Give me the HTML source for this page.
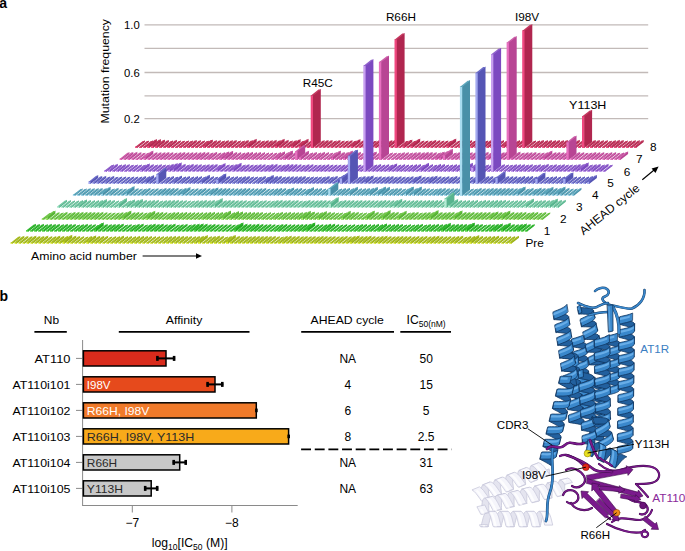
<!DOCTYPE html>
<html><head><meta charset="utf-8"><style>
html,body{margin:0;padding:0;background:#fff;width:685px;height:551px;overflow:hidden}
body{position:relative;font-family:"Liberation Sans", sans-serif}
</style></head><body>
<svg width="685" height="551" viewBox="0 0 685 551" style="position:absolute;left:0;top:0"><g font-family='"Liberation Sans", sans-serif'><text x="-0.7" y="7.9" font-size="14" font-weight="bold">a</text><line x1="144.5" y1="24.8" x2="648.2" y2="24.8" stroke="#c2bab8" stroke-width="1.3"/><line x1="144.5" y1="48.3" x2="648.2" y2="48.3" stroke="#c2bab8" stroke-width="1.3"/><line x1="144.5" y1="72.5" x2="648.2" y2="72.5" stroke="#c2bab8" stroke-width="1.3"/><line x1="144.5" y1="95.8" x2="648.2" y2="95.8" stroke="#c2bab8" stroke-width="1.3"/><line x1="144.5" y1="118.7" x2="648.2" y2="118.7" stroke="#c2bab8" stroke-width="1.3"/><text x="124.0" y="29.1" font-size="11.6" textLength="15.7" lengthAdjust="spacingAndGlyphs">1.0</text><text x="124.0" y="76.8" font-size="11.6" textLength="15.7" lengthAdjust="spacingAndGlyphs">0.6</text><text x="124.0" y="123.0" font-size="11.6" textLength="15.7" lengthAdjust="spacingAndGlyphs">0.2</text><g transform="translate(108.8,123.6) rotate(-90)"><text x="0" y="0" font-size="11.8" textLength="104.6" lengthAdjust="spacingAndGlyphs">Mutation frequency</text></g><defs><filter id="bl" x="-2%" y="-2%" width="104%" height="104%"><feGaussianBlur stdDeviation="0.3"/></filter></defs><g filter="url(#bl)"><g><path d="M135.1,146.6h2.5v1.4h-2.5zM139.1,146.7h2.5v1.3h-2.5zM143.1,146.5h2.5v1.5h-2.5zM147.1,145.3h2.5v2.7h-2.5zM151.1,145.4h2.5v2.6h-2.5zM155.1,145.8h2.5v2.2h-2.5zM159.1,146.2h2.5v1.8h-2.5zM163.1,146.6h2.5v1.4h-2.5zM167.1,146.1h2.5v1.9h-2.5zM171,146.5h2.5v1.5h-2.5zM175,146.7h2.5v1.3h-2.5zM179,146.5h2.5v1.5h-2.5zM183,146.6h2.5v1.4h-2.5zM187,146.2h2.5v1.8h-2.5zM191,146.4h2.5v1.6h-2.5zM195,146.5h2.5v1.5h-2.5zM199,146.7h2.5v1.3h-2.5zM203,145.7h2.5v2.3h-2.5zM207,146.4h2.5v1.6h-2.5zM210.9,146.3h2.5v1.7h-2.5zM214.9,146.5h2.5v1.5h-2.5zM218.9,146.3h2.5v1.7h-2.5zM222.9,146.4h2.5v1.6h-2.5zM226.9,146.2h2.5v1.8h-2.5zM230.9,146.5h2.5v1.5h-2.5zM234.9,146.6h2.5v1.4h-2.5zM238.9,146.2h2.5v1.8h-2.5zM242.9,146.4h2.5v1.6h-2.5zM246.9,145.1h2.5v2.9h-2.5zM250.8,146.4h2.5v1.6h-2.5zM254.8,146.5h2.5v1.5h-2.5zM258.8,146.3h2.5v1.7h-2.5zM262.8,146.4h2.5v1.6h-2.5zM266.8,146.1h2.5v1.9h-2.5zM270.8,146.3h2.5v1.7h-2.5zM274.8,145.1h2.5v2.9h-2.5zM278.8,146.1h2.5v1.9h-2.5zM282.8,146.5h2.5v1.5h-2.5zM286.8,146.3h2.5v1.7h-2.5zM290.8,145.3h2.5v2.7h-2.5zM294.7,146.6h2.5v1.4h-2.5zM298.7,145h2.5v3h-2.5zM302.7,146.6h2.5v1.4h-2.5zM306.7,146.2h2.5v1.8h-2.5z" fill="#f04a80"/><path d="M137.1,148l7.8,-6.1v-1.6l-7.8,6.1zM141.1,148l7.8,-6.1v-1.5l-7.8,6.1zM145.1,148l7.8,-6.1v-1.7l-7.8,6.1zM149.1,148l7.8,-6.1v-2.9l-7.8,6.1zM153.1,148l7.8,-6.1v-2.8l-7.8,6.1zM157.1,148l7.8,-6.1v-2.4l-7.8,6.1zM161.1,148l7.8,-6.1v-2l-7.8,6.1zM165.1,148l7.8,-6.1v-1.6l-7.8,6.1zM169.1,148l7.8,-6.1v-2.1l-7.8,6.1zM173,148l7.8,-6.1v-1.7l-7.8,6.1zM177,148l7.8,-6.1v-1.5l-7.8,6.1zM181,148l7.8,-6.1v-1.7l-7.8,6.1zM185,148l7.8,-6.1v-1.6l-7.8,6.1zM189,148l7.8,-6.1v-2l-7.8,6.1zM193,148l7.8,-6.1v-1.8l-7.8,6.1zM197,148l7.8,-6.1v-1.7l-7.8,6.1zM201,148l7.8,-6.1v-1.5l-7.8,6.1zM205,148l7.8,-6.1v-2.5l-7.8,6.1zM209,148l7.8,-6.1v-1.8l-7.8,6.1zM212.9,148l7.8,-6.1v-1.9l-7.8,6.1zM216.9,148l7.8,-6.1v-1.7l-7.8,6.1zM220.9,148l7.8,-6.1v-1.9l-7.8,6.1zM224.9,148l7.8,-6.1v-1.8l-7.8,6.1zM228.9,148l7.8,-6.1v-2l-7.8,6.1zM232.9,148l7.8,-6.1v-1.7l-7.8,6.1zM236.9,148l7.8,-6.1v-1.6l-7.8,6.1zM240.9,148l7.8,-6.1v-2l-7.8,6.1zM244.9,148l7.8,-6.1v-1.8l-7.8,6.1zM248.9,148l7.8,-6.1v-3.1l-7.8,6.1zM252.8,148l7.8,-6.1v-1.8l-7.8,6.1zM256.8,148l7.8,-6.1v-1.7l-7.8,6.1zM260.8,148l7.8,-6.1v-1.9l-7.8,6.1zM264.8,148l7.8,-6.1v-1.8l-7.8,6.1zM268.8,148l7.8,-6.1v-2.1l-7.8,6.1zM272.8,148l7.8,-6.1v-1.9l-7.8,6.1zM276.8,148l7.8,-6.1v-3.1l-7.8,6.1zM280.8,148l7.8,-6.1v-2.1l-7.8,6.1zM284.8,148l7.8,-6.1v-1.7l-7.8,6.1zM288.8,148l7.8,-6.1v-1.9l-7.8,6.1zM292.8,148l7.8,-6.1v-2.9l-7.8,6.1zM296.7,148l7.8,-6.1v-1.6l-7.8,6.1zM300.7,148l7.8,-6.1v-3.2l-7.8,6.1zM304.7,148l7.8,-6.1v-1.6l-7.8,6.1zM308.7,148l7.8,-6.1v-2l-7.8,6.1z" fill="#b02850"/><path d="M135.1,147.1h2.0l7.8,-6.1h-2.0zM139.1,147.2h2.0l7.8,-6.1h-2.0zM143.1,147h2.0l7.8,-6.1h-2.0zM147.1,145.8h2.0l7.8,-6.1h-2.0zM151.1,145.9h2.0l7.8,-6.1h-2.0zM155.1,146.3h2.0l7.8,-6.1h-2.0zM159.1,146.7h2.0l7.8,-6.1h-2.0zM163.1,147.1h2.0l7.8,-6.1h-2.0zM167.1,146.6h2.0l7.8,-6.1h-2.0zM171,147h2.0l7.8,-6.1h-2.0zM175,147.2h2.0l7.8,-6.1h-2.0zM179,147h2.0l7.8,-6.1h-2.0zM183,147.1h2.0l7.8,-6.1h-2.0zM187,146.7h2.0l7.8,-6.1h-2.0zM191,146.9h2.0l7.8,-6.1h-2.0zM195,147h2.0l7.8,-6.1h-2.0zM199,147.2h2.0l7.8,-6.1h-2.0zM203,146.2h2.0l7.8,-6.1h-2.0zM207,146.9h2.0l7.8,-6.1h-2.0zM210.9,146.8h2.0l7.8,-6.1h-2.0zM214.9,147h2.0l7.8,-6.1h-2.0zM218.9,146.8h2.0l7.8,-6.1h-2.0zM222.9,146.9h2.0l7.8,-6.1h-2.0zM226.9,146.7h2.0l7.8,-6.1h-2.0zM230.9,147h2.0l7.8,-6.1h-2.0zM234.9,147.1h2.0l7.8,-6.1h-2.0zM238.9,146.7h2.0l7.8,-6.1h-2.0zM242.9,146.9h2.0l7.8,-6.1h-2.0zM246.9,145.6h2.0l7.8,-6.1h-2.0zM250.8,146.9h2.0l7.8,-6.1h-2.0zM254.8,147h2.0l7.8,-6.1h-2.0zM258.8,146.8h2.0l7.8,-6.1h-2.0zM262.8,146.9h2.0l7.8,-6.1h-2.0zM266.8,146.6h2.0l7.8,-6.1h-2.0zM270.8,146.8h2.0l7.8,-6.1h-2.0zM274.8,145.6h2.0l7.8,-6.1h-2.0zM278.8,146.6h2.0l7.8,-6.1h-2.0zM282.8,147h2.0l7.8,-6.1h-2.0zM286.8,146.8h2.0l7.8,-6.1h-2.0zM290.8,145.8h2.0l7.8,-6.1h-2.0zM294.7,147.1h2.0l7.8,-6.1h-2.0zM298.7,145.5h2.0l7.8,-6.1h-2.0zM302.7,147.1h2.0l7.8,-6.1h-2.0zM306.7,146.7h2.0l7.8,-6.1h-2.0z" fill="#c4365e"/><path d="M310.7,95.2h2.8v52.8h-2.8z" fill="#f04a80"/><path d="M313,148l7.8,-6.1v-53l-7.8,6.1z" fill="#b02850"/><path d="M310.7,95.7h2.3l7.8,-6.1h-2.3z" fill="#c4365e"/><path d="M314.7,146.4h2.5v1.6h-2.5zM318.7,146.2h2.5v1.8h-2.5zM322.7,146.2h2.5v1.8h-2.5zM326.7,146.5h2.5v1.5h-2.5zM330.6,146.2h2.5v1.8h-2.5zM334.6,146.6h2.5v1.4h-2.5zM338.6,146.6h2.5v1.4h-2.5zM342.6,146.4h2.5v1.6h-2.5zM346.6,146.5h2.5v1.5h-2.5zM350.6,145.4h2.5v2.6h-2.5zM354.6,146.4h2.5v1.6h-2.5zM358.6,146.3h2.5v1.7h-2.5zM362.6,146.3h2.5v1.7h-2.5zM366.6,146.7h2.5v1.3h-2.5zM370.6,146.2h2.5v1.8h-2.5zM374.5,146.2h2.5v1.8h-2.5zM378.5,146.5h2.5v1.5h-2.5zM382.5,146.3h2.5v1.7h-2.5zM386.5,145.8h2.5v2.2h-2.5zM390.5,146.6h2.5v1.4h-2.5z" fill="#f04a80"/><path d="M316.7,148l7.8,-6.1v-1.8l-7.8,6.1zM320.7,148l7.8,-6.1v-2l-7.8,6.1zM324.7,148l7.8,-6.1v-2l-7.8,6.1zM328.7,148l7.8,-6.1v-1.7l-7.8,6.1zM332.6,148l7.8,-6.1v-2l-7.8,6.1zM336.6,148l7.8,-6.1v-1.6l-7.8,6.1zM340.6,148l7.8,-6.1v-1.6l-7.8,6.1zM344.6,148l7.8,-6.1v-1.8l-7.8,6.1zM348.6,148l7.8,-6.1v-1.7l-7.8,6.1zM352.6,148l7.8,-6.1v-2.8l-7.8,6.1zM356.6,148l7.8,-6.1v-1.8l-7.8,6.1zM360.6,148l7.8,-6.1v-1.9l-7.8,6.1zM364.6,148l7.8,-6.1v-1.9l-7.8,6.1zM368.6,148l7.8,-6.1v-1.5l-7.8,6.1zM372.6,148l7.8,-6.1v-2l-7.8,6.1zM376.5,148l7.8,-6.1v-2l-7.8,6.1zM380.5,148l7.8,-6.1v-1.7l-7.8,6.1zM384.5,148l7.8,-6.1v-1.9l-7.8,6.1zM388.5,148l7.8,-6.1v-2.4l-7.8,6.1zM392.5,148l7.8,-6.1v-1.6l-7.8,6.1z" fill="#b02850"/><path d="M314.7,146.9h2.0l7.8,-6.1h-2.0zM318.7,146.7h2.0l7.8,-6.1h-2.0zM322.7,146.7h2.0l7.8,-6.1h-2.0zM326.7,147h2.0l7.8,-6.1h-2.0zM330.6,146.7h2.0l7.8,-6.1h-2.0zM334.6,147.1h2.0l7.8,-6.1h-2.0zM338.6,147.1h2.0l7.8,-6.1h-2.0zM342.6,146.9h2.0l7.8,-6.1h-2.0zM346.6,147h2.0l7.8,-6.1h-2.0zM350.6,145.9h2.0l7.8,-6.1h-2.0zM354.6,146.9h2.0l7.8,-6.1h-2.0zM358.6,146.8h2.0l7.8,-6.1h-2.0zM362.6,146.8h2.0l7.8,-6.1h-2.0zM366.6,147.2h2.0l7.8,-6.1h-2.0zM370.6,146.7h2.0l7.8,-6.1h-2.0zM374.5,146.7h2.0l7.8,-6.1h-2.0zM378.5,147h2.0l7.8,-6.1h-2.0zM382.5,146.8h2.0l7.8,-6.1h-2.0zM386.5,146.3h2.0l7.8,-6.1h-2.0zM390.5,147.1h2.0l7.8,-6.1h-2.0z" fill="#c4365e"/><path d="M394.5,39.2h2.8v108.8h-2.8z" fill="#f04a80"/><path d="M396.8,148l7.8,-6.1v-109l-7.8,6.1z" fill="#b02850"/><path d="M394.5,39.7h2.3l7.8,-6.1h-2.3z" fill="#c4365e"/><path d="M398.5,146.7h2.5v1.3h-2.5zM402.5,145.7h2.5v2.3h-2.5zM406.5,146.5h2.5v1.5h-2.5zM410.4,144.9h2.5v3.1h-2.5zM414.4,146.6h2.5v1.4h-2.5zM418.4,146.5h2.5v1.5h-2.5zM422.4,146.6h2.5v1.4h-2.5zM426.4,146.1h2.5v1.9h-2.5zM430.4,146.4h2.5v1.6h-2.5zM434.4,146.6h2.5v1.4h-2.5zM438.4,146.5h2.5v1.5h-2.5zM442.4,146.6h2.5v1.4h-2.5zM446.4,144.8h2.5v3.2h-2.5zM450.4,146.6h2.5v1.4h-2.5zM454.3,146.7h2.5v1.3h-2.5zM458.3,146.1h2.5v1.9h-2.5zM462.3,146.3h2.5v1.7h-2.5zM466.3,146.5h2.5v1.5h-2.5zM470.3,146.2h2.5v1.8h-2.5zM474.3,146.2h2.5v1.8h-2.5zM478.3,146.6h2.5v1.4h-2.5zM482.3,146.1h2.5v1.9h-2.5zM486.3,146.2h2.5v1.8h-2.5zM490.2,146.3h2.5v1.7h-2.5zM494.2,146.4h2.5v1.6h-2.5zM498.2,146.7h2.5v1.3h-2.5zM502.2,145.6h2.5v2.4h-2.5zM506.2,146.3h2.5v1.7h-2.5zM510.2,146.4h2.5v1.6h-2.5zM514.2,146.1h2.5v1.9h-2.5zM518.2,146.5h2.5v1.5h-2.5z" fill="#f04a80"/><path d="M400.5,148l7.8,-6.1v-1.5l-7.8,6.1zM404.5,148l7.8,-6.1v-2.5l-7.8,6.1zM408.5,148l7.8,-6.1v-1.7l-7.8,6.1zM412.4,148l7.8,-6.1v-3.3l-7.8,6.1zM416.4,148l7.8,-6.1v-1.6l-7.8,6.1zM420.4,148l7.8,-6.1v-1.7l-7.8,6.1zM424.4,148l7.8,-6.1v-1.6l-7.8,6.1zM428.4,148l7.8,-6.1v-2.1l-7.8,6.1zM432.4,148l7.8,-6.1v-1.8l-7.8,6.1zM436.4,148l7.8,-6.1v-1.6l-7.8,6.1zM440.4,148l7.8,-6.1v-1.7l-7.8,6.1zM444.4,148l7.8,-6.1v-1.6l-7.8,6.1zM448.4,148l7.8,-6.1v-3.4l-7.8,6.1zM452.4,148l7.8,-6.1v-1.6l-7.8,6.1zM456.3,148l7.8,-6.1v-1.5l-7.8,6.1zM460.3,148l7.8,-6.1v-2.1l-7.8,6.1zM464.3,148l7.8,-6.1v-1.9l-7.8,6.1zM468.3,148l7.8,-6.1v-1.7l-7.8,6.1zM472.3,148l7.8,-6.1v-2l-7.8,6.1zM476.3,148l7.8,-6.1v-2l-7.8,6.1zM480.3,148l7.8,-6.1v-1.6l-7.8,6.1zM484.3,148l7.8,-6.1v-2.1l-7.8,6.1zM488.3,148l7.8,-6.1v-2l-7.8,6.1zM492.2,148l7.8,-6.1v-1.9l-7.8,6.1zM496.2,148l7.8,-6.1v-1.8l-7.8,6.1zM500.2,148l7.8,-6.1v-1.5l-7.8,6.1zM504.2,148l7.8,-6.1v-2.6l-7.8,6.1zM508.2,148l7.8,-6.1v-1.9l-7.8,6.1zM512.2,148l7.8,-6.1v-1.8l-7.8,6.1zM516.2,148l7.8,-6.1v-2.1l-7.8,6.1zM520.2,148l7.8,-6.1v-1.7l-7.8,6.1z" fill="#b02850"/><path d="M398.5,147.2h2.0l7.8,-6.1h-2.0zM402.5,146.2h2.0l7.8,-6.1h-2.0zM406.5,147h2.0l7.8,-6.1h-2.0zM410.4,145.4h2.0l7.8,-6.1h-2.0zM414.4,147.1h2.0l7.8,-6.1h-2.0zM418.4,147h2.0l7.8,-6.1h-2.0zM422.4,147.1h2.0l7.8,-6.1h-2.0zM426.4,146.6h2.0l7.8,-6.1h-2.0zM430.4,146.9h2.0l7.8,-6.1h-2.0zM434.4,147.1h2.0l7.8,-6.1h-2.0zM438.4,147h2.0l7.8,-6.1h-2.0zM442.4,147.1h2.0l7.8,-6.1h-2.0zM446.4,145.3h2.0l7.8,-6.1h-2.0zM450.4,147.1h2.0l7.8,-6.1h-2.0zM454.3,147.2h2.0l7.8,-6.1h-2.0zM458.3,146.6h2.0l7.8,-6.1h-2.0zM462.3,146.8h2.0l7.8,-6.1h-2.0zM466.3,147h2.0l7.8,-6.1h-2.0zM470.3,146.7h2.0l7.8,-6.1h-2.0zM474.3,146.7h2.0l7.8,-6.1h-2.0zM478.3,147.1h2.0l7.8,-6.1h-2.0zM482.3,146.6h2.0l7.8,-6.1h-2.0zM486.3,146.7h2.0l7.8,-6.1h-2.0zM490.2,146.8h2.0l7.8,-6.1h-2.0zM494.2,146.9h2.0l7.8,-6.1h-2.0zM498.2,147.2h2.0l7.8,-6.1h-2.0zM502.2,146.1h2.0l7.8,-6.1h-2.0zM506.2,146.8h2.0l7.8,-6.1h-2.0zM510.2,146.9h2.0l7.8,-6.1h-2.0zM514.2,146.6h2.0l7.8,-6.1h-2.0zM518.2,147h2.0l7.8,-6.1h-2.0z" fill="#c4365e"/><path d="M522.2,30.4h2.8v117.6h-2.8z" fill="#f04a80"/><path d="M524.5,148l7.8,-6.1v-117.8l-7.8,6.1z" fill="#b02850"/><path d="M522.2,30.9h2.3l7.8,-6.1h-2.3z" fill="#c4365e"/><path d="M526.2,146.6h2.5v1.4h-2.5zM530.2,146.6h2.5v1.4h-2.5zM534.1,146.2h2.5v1.8h-2.5zM538.1,146.4h2.5v1.6h-2.5zM542.1,146.2h2.5v1.8h-2.5zM546.1,146.3h2.5v1.7h-2.5zM550.1,146.2h2.5v1.8h-2.5zM554.1,146.4h2.5v1.6h-2.5zM558.1,146.2h2.5v1.8h-2.5zM562.1,146.2h2.5v1.8h-2.5zM566.1,146.5h2.5v1.5h-2.5zM570,146.1h2.5v1.9h-2.5zM574,146.6h2.5v1.4h-2.5zM578,146.6h2.5v1.4h-2.5z" fill="#f04a80"/><path d="M528.2,148l7.8,-6.1v-1.6l-7.8,6.1zM532.2,148l7.8,-6.1v-1.6l-7.8,6.1zM536.1,148l7.8,-6.1v-2l-7.8,6.1zM540.1,148l7.8,-6.1v-1.8l-7.8,6.1zM544.1,148l7.8,-6.1v-2l-7.8,6.1zM548.1,148l7.8,-6.1v-1.9l-7.8,6.1zM552.1,148l7.8,-6.1v-2l-7.8,6.1zM556.1,148l7.8,-6.1v-1.8l-7.8,6.1zM560.1,148l7.8,-6.1v-2l-7.8,6.1zM564.1,148l7.8,-6.1v-2l-7.8,6.1zM568.1,148l7.8,-6.1v-1.7l-7.8,6.1zM572,148l7.8,-6.1v-2.1l-7.8,6.1zM576,148l7.8,-6.1v-1.6l-7.8,6.1zM580,148l7.8,-6.1v-1.6l-7.8,6.1z" fill="#b02850"/><path d="M526.2,147.1h2.0l7.8,-6.1h-2.0zM530.2,147.1h2.0l7.8,-6.1h-2.0zM534.1,146.7h2.0l7.8,-6.1h-2.0zM538.1,146.9h2.0l7.8,-6.1h-2.0zM542.1,146.7h2.0l7.8,-6.1h-2.0zM546.1,146.8h2.0l7.8,-6.1h-2.0zM550.1,146.7h2.0l7.8,-6.1h-2.0zM554.1,146.9h2.0l7.8,-6.1h-2.0zM558.1,146.7h2.0l7.8,-6.1h-2.0zM562.1,146.7h2.0l7.8,-6.1h-2.0zM566.1,147h2.0l7.8,-6.1h-2.0zM570,146.6h2.0l7.8,-6.1h-2.0zM574,147.1h2.0l7.8,-6.1h-2.0zM578,147.1h2.0l7.8,-6.1h-2.0z" fill="#c4365e"/><path d="M582,116h2.8v32h-2.8z" fill="#f04a80"/><path d="M584.3,148l7.8,-6.1v-32.2l-7.8,6.1z" fill="#b02850"/><path d="M582,116.5h2.3l7.8,-6.1h-2.3z" fill="#c4365e"/><path d="M586,146.2h2.5v1.8h-2.5zM590,146.2h2.5v1.8h-2.5zM594,146.3h2.5v1.7h-2.5zM598,146.4h2.5v1.6h-2.5zM602,146.7h2.5v1.3h-2.5zM606,146.3h2.5v1.7h-2.5zM610,146.1h2.5v1.9h-2.5zM613.9,146.2h2.5v1.8h-2.5zM617.9,146.6h2.5v1.4h-2.5zM621.9,146.5h2.5v1.5h-2.5zM625.9,146.3h2.5v1.7h-2.5zM629.9,146.4h2.5v1.6h-2.5zM633.9,146.2h2.5v1.8h-2.5z" fill="#f04a80"/><path d="M588,148l7.8,-6.1v-2l-7.8,6.1zM592,148l7.8,-6.1v-2l-7.8,6.1zM596,148l7.8,-6.1v-1.9l-7.8,6.1zM600,148l7.8,-6.1v-1.8l-7.8,6.1zM604,148l7.8,-6.1v-1.5l-7.8,6.1zM608,148l7.8,-6.1v-1.9l-7.8,6.1zM612,148l7.8,-6.1v-2.1l-7.8,6.1zM615.9,148l7.8,-6.1v-2l-7.8,6.1zM619.9,148l7.8,-6.1v-1.6l-7.8,6.1zM623.9,148l7.8,-6.1v-1.7l-7.8,6.1zM627.9,148l7.8,-6.1v-1.9l-7.8,6.1zM631.9,148l7.8,-6.1v-1.8l-7.8,6.1zM635.9,148l7.8,-6.1v-2l-7.8,6.1z" fill="#b02850"/><path d="M586,146.7h2.0l7.8,-6.1h-2.0zM590,146.7h2.0l7.8,-6.1h-2.0zM594,146.8h2.0l7.8,-6.1h-2.0zM598,146.9h2.0l7.8,-6.1h-2.0zM602,147.2h2.0l7.8,-6.1h-2.0zM606,146.8h2.0l7.8,-6.1h-2.0zM610,146.6h2.0l7.8,-6.1h-2.0zM613.9,146.7h2.0l7.8,-6.1h-2.0zM617.9,147.1h2.0l7.8,-6.1h-2.0zM621.9,147h2.0l7.8,-6.1h-2.0zM625.9,146.8h2.0l7.8,-6.1h-2.0zM629.9,146.9h2.0l7.8,-6.1h-2.0zM633.9,146.7h2.0l7.8,-6.1h-2.0z" fill="#c4365e"/></g><g><path d="M119.6,158.4h2.5v1.6h-2.5zM123.5,158.2h2.5v1.8h-2.5zM127.5,158.1h2.5v1.9h-2.5zM131.5,158.4h2.5v1.6h-2.5zM135.5,158.7h2.5v1.3h-2.5zM139.5,158.6h2.5v1.4h-2.5zM143.5,156.9h2.5v3.1h-2.5zM147.5,158.4h2.5v1.6h-2.5zM151.5,158.4h2.5v1.6h-2.5zM155.5,158.4h2.5v1.6h-2.5zM159.5,158.2h2.5v1.8h-2.5zM163.4,158.4h2.5v1.6h-2.5zM167.4,158.5h2.5v1.5h-2.5zM171.4,158.4h2.5v1.6h-2.5zM175.4,158.2h2.5v1.8h-2.5zM179.4,158.4h2.5v1.6h-2.5zM183.4,158.4h2.5v1.6h-2.5zM187.4,158.3h2.5v1.7h-2.5zM191.4,158.4h2.5v1.6h-2.5zM195.4,158.1h2.5v1.9h-2.5zM199.4,158.2h2.5v1.8h-2.5zM203.4,158.5h2.5v1.5h-2.5zM207.3,158.1h2.5v1.9h-2.5zM211.3,158.6h2.5v1.4h-2.5zM215.3,158.4h2.5v1.6h-2.5zM219.3,157.6h2.5v2.4h-2.5zM223.3,157.1h2.5v2.9h-2.5zM227.3,158.2h2.5v1.8h-2.5zM231.3,158.3h2.5v1.7h-2.5zM235.3,158.6h2.5v1.4h-2.5zM239.3,158.1h2.5v1.9h-2.5zM243.2,158.1h2.5v1.9h-2.5zM247.2,158.4h2.5v1.6h-2.5zM251.2,158.2h2.5v1.8h-2.5zM255.2,158.4h2.5v1.6h-2.5zM259.2,158.5h2.5v1.5h-2.5zM263.2,158.5h2.5v1.5h-2.5zM267.2,158.7h2.5v1.3h-2.5zM271.2,158.4h2.5v1.6h-2.5zM275.2,157.5h2.5v2.5h-2.5zM279.2,158.4h2.5v1.6h-2.5zM283.1,156.7h2.5v3.3h-2.5zM287.1,158.1h2.5v1.9h-2.5zM291.1,158.5h2.5v1.5h-2.5z" fill="#e870c0"/><path d="M121.6,160l7.8,-6.1v-1.8l-7.8,6.1zM125.5,160l7.8,-6.1v-2l-7.8,6.1zM129.5,160l7.8,-6.1v-2.1l-7.8,6.1zM133.5,160l7.8,-6.1v-1.8l-7.8,6.1zM137.5,160l7.8,-6.1v-1.5l-7.8,6.1zM141.5,160l7.8,-6.1v-1.6l-7.8,6.1zM145.5,160l7.8,-6.1v-3.3l-7.8,6.1zM149.5,160l7.8,-6.1v-1.8l-7.8,6.1zM153.5,160l7.8,-6.1v-1.8l-7.8,6.1zM157.5,160l7.8,-6.1v-1.8l-7.8,6.1zM161.5,160l7.8,-6.1v-2l-7.8,6.1zM165.4,160l7.8,-6.1v-1.8l-7.8,6.1zM169.4,160l7.8,-6.1v-1.7l-7.8,6.1zM173.4,160l7.8,-6.1v-1.8l-7.8,6.1zM177.4,160l7.8,-6.1v-2l-7.8,6.1zM181.4,160l7.8,-6.1v-1.8l-7.8,6.1zM185.4,160l7.8,-6.1v-1.8l-7.8,6.1zM189.4,160l7.8,-6.1v-1.9l-7.8,6.1zM193.4,160l7.8,-6.1v-1.8l-7.8,6.1zM197.4,160l7.8,-6.1v-2.1l-7.8,6.1zM201.4,160l7.8,-6.1v-2l-7.8,6.1zM205.4,160l7.8,-6.1v-1.7l-7.8,6.1zM209.3,160l7.8,-6.1v-2.1l-7.8,6.1zM213.3,160l7.8,-6.1v-1.6l-7.8,6.1zM217.3,160l7.8,-6.1v-1.8l-7.8,6.1zM221.3,160l7.8,-6.1v-2.6l-7.8,6.1zM225.3,160l7.8,-6.1v-3.1l-7.8,6.1zM229.3,160l7.8,-6.1v-2l-7.8,6.1zM233.3,160l7.8,-6.1v-1.9l-7.8,6.1zM237.3,160l7.8,-6.1v-1.6l-7.8,6.1zM241.3,160l7.8,-6.1v-2.1l-7.8,6.1zM245.2,160l7.8,-6.1v-2.1l-7.8,6.1zM249.2,160l7.8,-6.1v-1.8l-7.8,6.1zM253.2,160l7.8,-6.1v-2l-7.8,6.1zM257.2,160l7.8,-6.1v-1.8l-7.8,6.1zM261.2,160l7.8,-6.1v-1.7l-7.8,6.1zM265.2,160l7.8,-6.1v-1.7l-7.8,6.1zM269.2,160l7.8,-6.1v-1.5l-7.8,6.1zM273.2,160l7.8,-6.1v-1.8l-7.8,6.1zM277.2,160l7.8,-6.1v-2.7l-7.8,6.1zM281.2,160l7.8,-6.1v-1.8l-7.8,6.1zM285.1,160l7.8,-6.1v-3.5l-7.8,6.1zM289.1,160l7.8,-6.1v-2.1l-7.8,6.1zM293.1,160l7.8,-6.1v-1.7l-7.8,6.1z" fill="#b84494"/><path d="M119.6,158.9h2.0l7.8,-6.1h-2.0zM123.5,158.7h2.0l7.8,-6.1h-2.0zM127.5,158.6h2.0l7.8,-6.1h-2.0zM131.5,158.9h2.0l7.8,-6.1h-2.0zM135.5,159.2h2.0l7.8,-6.1h-2.0zM139.5,159.1h2.0l7.8,-6.1h-2.0zM143.5,157.4h2.0l7.8,-6.1h-2.0zM147.5,158.9h2.0l7.8,-6.1h-2.0zM151.5,158.9h2.0l7.8,-6.1h-2.0zM155.5,158.9h2.0l7.8,-6.1h-2.0zM159.5,158.7h2.0l7.8,-6.1h-2.0zM163.4,158.9h2.0l7.8,-6.1h-2.0zM167.4,159h2.0l7.8,-6.1h-2.0zM171.4,158.9h2.0l7.8,-6.1h-2.0zM175.4,158.7h2.0l7.8,-6.1h-2.0zM179.4,158.9h2.0l7.8,-6.1h-2.0zM183.4,158.9h2.0l7.8,-6.1h-2.0zM187.4,158.8h2.0l7.8,-6.1h-2.0zM191.4,158.9h2.0l7.8,-6.1h-2.0zM195.4,158.6h2.0l7.8,-6.1h-2.0zM199.4,158.7h2.0l7.8,-6.1h-2.0zM203.4,159h2.0l7.8,-6.1h-2.0zM207.3,158.6h2.0l7.8,-6.1h-2.0zM211.3,159.1h2.0l7.8,-6.1h-2.0zM215.3,158.9h2.0l7.8,-6.1h-2.0zM219.3,158.1h2.0l7.8,-6.1h-2.0zM223.3,157.6h2.0l7.8,-6.1h-2.0zM227.3,158.7h2.0l7.8,-6.1h-2.0zM231.3,158.8h2.0l7.8,-6.1h-2.0zM235.3,159.1h2.0l7.8,-6.1h-2.0zM239.3,158.6h2.0l7.8,-6.1h-2.0zM243.2,158.6h2.0l7.8,-6.1h-2.0zM247.2,158.9h2.0l7.8,-6.1h-2.0zM251.2,158.7h2.0l7.8,-6.1h-2.0zM255.2,158.9h2.0l7.8,-6.1h-2.0zM259.2,159h2.0l7.8,-6.1h-2.0zM263.2,159h2.0l7.8,-6.1h-2.0zM267.2,159.2h2.0l7.8,-6.1h-2.0zM271.2,158.9h2.0l7.8,-6.1h-2.0zM275.2,158h2.0l7.8,-6.1h-2.0zM279.2,158.9h2.0l7.8,-6.1h-2.0zM283.1,157.2h2.0l7.8,-6.1h-2.0zM287.1,158.6h2.0l7.8,-6.1h-2.0zM291.1,159h2.0l7.8,-6.1h-2.0z" fill="#cc5ea8"/><path d="M295.1,151h2.8v9h-2.8z" fill="#e870c0"/><path d="M297.4,160l7.8,-6.1v-9.2l-7.8,6.1z" fill="#b84494"/><path d="M295.1,151.5h2.3l7.8,-6.1h-2.3z" fill="#cc5ea8"/><path d="M299.1,157h2.5v3h-2.5zM303.1,158.6h2.5v1.4h-2.5zM307.1,158.2h2.5v1.8h-2.5zM311.1,158.5h2.5v1.5h-2.5zM315.1,158.1h2.5v1.9h-2.5zM319.1,158.3h2.5v1.7h-2.5zM323.1,158.7h2.5v1.3h-2.5zM327,158.4h2.5v1.6h-2.5zM331,156.8h2.5v3.2h-2.5zM335,158.2h2.5v1.8h-2.5zM339,158.2h2.5v1.8h-2.5zM343,156.9h2.5v3.1h-2.5zM347,158.5h2.5v1.5h-2.5zM351,158.1h2.5v1.9h-2.5zM355,158.6h2.5v1.4h-2.5zM359,158.6h2.5v1.4h-2.5zM363,158.6h2.5v1.4h-2.5zM366.9,157.7h2.5v2.3h-2.5zM370.9,158.5h2.5v1.5h-2.5zM374.9,158.5h2.5v1.5h-2.5z" fill="#e870c0"/><path d="M301.1,160l7.8,-6.1v-3.2l-7.8,6.1zM305.1,160l7.8,-6.1v-1.6l-7.8,6.1zM309.1,160l7.8,-6.1v-2l-7.8,6.1zM313.1,160l7.8,-6.1v-1.7l-7.8,6.1zM317.1,160l7.8,-6.1v-2.1l-7.8,6.1zM321.1,160l7.8,-6.1v-1.9l-7.8,6.1zM325.1,160l7.8,-6.1v-1.5l-7.8,6.1zM329,160l7.8,-6.1v-1.8l-7.8,6.1zM333,160l7.8,-6.1v-3.4l-7.8,6.1zM337,160l7.8,-6.1v-2l-7.8,6.1zM341,160l7.8,-6.1v-2l-7.8,6.1zM345,160l7.8,-6.1v-3.3l-7.8,6.1zM349,160l7.8,-6.1v-1.7l-7.8,6.1zM353,160l7.8,-6.1v-2.1l-7.8,6.1zM357,160l7.8,-6.1v-1.6l-7.8,6.1zM361,160l7.8,-6.1v-1.6l-7.8,6.1zM365,160l7.8,-6.1v-1.6l-7.8,6.1zM368.9,160l7.8,-6.1v-2.5l-7.8,6.1zM372.9,160l7.8,-6.1v-1.7l-7.8,6.1zM376.9,160l7.8,-6.1v-1.7l-7.8,6.1z" fill="#b84494"/><path d="M299.1,157.5h2.0l7.8,-6.1h-2.0zM303.1,159.1h2.0l7.8,-6.1h-2.0zM307.1,158.7h2.0l7.8,-6.1h-2.0zM311.1,159h2.0l7.8,-6.1h-2.0zM315.1,158.6h2.0l7.8,-6.1h-2.0zM319.1,158.8h2.0l7.8,-6.1h-2.0zM323.1,159.2h2.0l7.8,-6.1h-2.0zM327,158.9h2.0l7.8,-6.1h-2.0zM331,157.3h2.0l7.8,-6.1h-2.0zM335,158.7h2.0l7.8,-6.1h-2.0zM339,158.7h2.0l7.8,-6.1h-2.0zM343,157.4h2.0l7.8,-6.1h-2.0zM347,159h2.0l7.8,-6.1h-2.0zM351,158.6h2.0l7.8,-6.1h-2.0zM355,159.1h2.0l7.8,-6.1h-2.0zM359,159.1h2.0l7.8,-6.1h-2.0zM363,159.1h2.0l7.8,-6.1h-2.0zM366.9,158.2h2.0l7.8,-6.1h-2.0zM370.9,159h2.0l7.8,-6.1h-2.0zM374.9,159h2.0l7.8,-6.1h-2.0z" fill="#cc5ea8"/><path d="M378.9,61.8h2.8v98.2h-2.8z" fill="#e870c0"/><path d="M381.2,160l7.8,-6.1v-98.4l-7.8,6.1z" fill="#b84494"/><path d="M378.9,62.3h2.3l7.8,-6.1h-2.3z" fill="#cc5ea8"/><path d="M382.9,158.6h2.5v1.4h-2.5zM386.9,158.7h2.5v1.3h-2.5zM390.9,158.7h2.5v1.3h-2.5zM394.9,158.4h2.5v1.6h-2.5zM398.9,158.4h2.5v1.6h-2.5zM402.9,158.6h2.5v1.4h-2.5zM406.8,158.4h2.5v1.6h-2.5zM410.8,158.2h2.5v1.8h-2.5zM414.8,158.4h2.5v1.6h-2.5zM418.8,158.1h2.5v1.9h-2.5zM422.8,158.2h2.5v1.8h-2.5zM426.8,158.3h2.5v1.7h-2.5zM430.8,158.5h2.5v1.5h-2.5zM434.8,157.7h2.5v2.3h-2.5zM438.8,157h2.5v3h-2.5z" fill="#e870c0"/><path d="M384.9,160l7.8,-6.1v-1.6l-7.8,6.1zM388.9,160l7.8,-6.1v-1.5l-7.8,6.1zM392.9,160l7.8,-6.1v-1.5l-7.8,6.1zM396.9,160l7.8,-6.1v-1.8l-7.8,6.1zM400.9,160l7.8,-6.1v-1.8l-7.8,6.1zM404.9,160l7.8,-6.1v-1.6l-7.8,6.1zM408.8,160l7.8,-6.1v-1.8l-7.8,6.1zM412.8,160l7.8,-6.1v-2l-7.8,6.1zM416.8,160l7.8,-6.1v-1.8l-7.8,6.1zM420.8,160l7.8,-6.1v-2.1l-7.8,6.1zM424.8,160l7.8,-6.1v-2l-7.8,6.1zM428.8,160l7.8,-6.1v-1.9l-7.8,6.1zM432.8,160l7.8,-6.1v-1.7l-7.8,6.1zM436.8,160l7.8,-6.1v-2.5l-7.8,6.1zM440.8,160l7.8,-6.1v-3.2l-7.8,6.1z" fill="#b84494"/><path d="M382.9,159.1h2.0l7.8,-6.1h-2.0zM386.9,159.2h2.0l7.8,-6.1h-2.0zM390.9,159.2h2.0l7.8,-6.1h-2.0zM394.9,158.9h2.0l7.8,-6.1h-2.0zM398.9,158.9h2.0l7.8,-6.1h-2.0zM402.9,159.1h2.0l7.8,-6.1h-2.0zM406.8,158.9h2.0l7.8,-6.1h-2.0zM410.8,158.7h2.0l7.8,-6.1h-2.0zM414.8,158.9h2.0l7.8,-6.1h-2.0zM418.8,158.6h2.0l7.8,-6.1h-2.0zM422.8,158.7h2.0l7.8,-6.1h-2.0zM426.8,158.8h2.0l7.8,-6.1h-2.0zM430.8,159h2.0l7.8,-6.1h-2.0zM434.8,158.2h2.0l7.8,-6.1h-2.0zM438.8,157.5h2.0l7.8,-6.1h-2.0z" fill="#cc5ea8"/><path d="M442.8,155h2.8v5h-2.8z" fill="#e870c0"/><path d="M445.1,160l7.8,-6.1v-5.2l-7.8,6.1z" fill="#b84494"/><path d="M442.8,155.5h2.3l7.8,-6.1h-2.3z" fill="#cc5ea8"/><path d="M446.7,158.6h2.5v1.4h-2.5zM450.7,158.2h2.5v1.8h-2.5zM454.7,158.3h2.5v1.7h-2.5zM458.7,158.6h2.5v1.4h-2.5zM462.7,158.4h2.5v1.6h-2.5zM466.7,158.4h2.5v1.6h-2.5zM470.7,158.1h2.5v1.9h-2.5zM474.7,158.4h2.5v1.6h-2.5zM478.7,158.1h2.5v1.9h-2.5zM482.7,158.5h2.5v1.5h-2.5zM486.6,157.4h2.5v2.6h-2.5zM490.6,158.4h2.5v1.6h-2.5zM494.6,158.4h2.5v1.6h-2.5zM498.6,157.6h2.5v2.4h-2.5zM502.6,158.5h2.5v1.5h-2.5z" fill="#e870c0"/><path d="M448.7,160l7.8,-6.1v-1.6l-7.8,6.1zM452.7,160l7.8,-6.1v-2l-7.8,6.1zM456.7,160l7.8,-6.1v-1.9l-7.8,6.1zM460.7,160l7.8,-6.1v-1.6l-7.8,6.1zM464.7,160l7.8,-6.1v-1.8l-7.8,6.1zM468.7,160l7.8,-6.1v-1.8l-7.8,6.1zM472.7,160l7.8,-6.1v-2.1l-7.8,6.1zM476.7,160l7.8,-6.1v-1.8l-7.8,6.1zM480.7,160l7.8,-6.1v-2.1l-7.8,6.1zM484.7,160l7.8,-6.1v-1.7l-7.8,6.1zM488.6,160l7.8,-6.1v-2.8l-7.8,6.1zM492.6,160l7.8,-6.1v-1.8l-7.8,6.1zM496.6,160l7.8,-6.1v-1.8l-7.8,6.1zM500.6,160l7.8,-6.1v-2.6l-7.8,6.1zM504.6,160l7.8,-6.1v-1.7l-7.8,6.1z" fill="#b84494"/><path d="M446.7,159.1h2.0l7.8,-6.1h-2.0zM450.7,158.7h2.0l7.8,-6.1h-2.0zM454.7,158.8h2.0l7.8,-6.1h-2.0zM458.7,159.1h2.0l7.8,-6.1h-2.0zM462.7,158.9h2.0l7.8,-6.1h-2.0zM466.7,158.9h2.0l7.8,-6.1h-2.0zM470.7,158.6h2.0l7.8,-6.1h-2.0zM474.7,158.9h2.0l7.8,-6.1h-2.0zM478.7,158.6h2.0l7.8,-6.1h-2.0zM482.7,159h2.0l7.8,-6.1h-2.0zM486.6,157.9h2.0l7.8,-6.1h-2.0zM490.6,158.9h2.0l7.8,-6.1h-2.0zM494.6,158.9h2.0l7.8,-6.1h-2.0zM498.6,158.1h2.0l7.8,-6.1h-2.0zM502.6,159h2.0l7.8,-6.1h-2.0z" fill="#cc5ea8"/><path d="M506.6,42.3h2.8v117.7h-2.8z" fill="#e870c0"/><path d="M508.9,160l7.8,-6.1v-117.9l-7.8,6.1z" fill="#b84494"/><path d="M506.6,42.8h2.3l7.8,-6.1h-2.3z" fill="#cc5ea8"/><path d="M510.6,157.9h2.5v2.1h-2.5zM514.6,158.6h2.5v1.4h-2.5zM518.6,158.4h2.5v1.6h-2.5zM522.5,158.3h2.5v1.7h-2.5zM526.5,158.2h2.5v1.8h-2.5zM530.5,158.5h2.5v1.5h-2.5zM534.5,158.6h2.5v1.4h-2.5zM538.5,158.3h2.5v1.7h-2.5zM542.5,156.9h2.5v3.1h-2.5zM546.5,158.3h2.5v1.7h-2.5zM550.5,158.2h2.5v1.8h-2.5zM554.5,158.4h2.5v1.6h-2.5zM558.5,158.2h2.5v1.8h-2.5zM562.5,158.2h2.5v1.8h-2.5z" fill="#e870c0"/><path d="M512.6,160l7.8,-6.1v-2.3l-7.8,6.1zM516.6,160l7.8,-6.1v-1.6l-7.8,6.1zM520.6,160l7.8,-6.1v-1.8l-7.8,6.1zM524.5,160l7.8,-6.1v-1.9l-7.8,6.1zM528.5,160l7.8,-6.1v-2l-7.8,6.1zM532.5,160l7.8,-6.1v-1.7l-7.8,6.1zM536.5,160l7.8,-6.1v-1.6l-7.8,6.1zM540.5,160l7.8,-6.1v-1.9l-7.8,6.1zM544.5,160l7.8,-6.1v-3.3l-7.8,6.1zM548.5,160l7.8,-6.1v-1.9l-7.8,6.1zM552.5,160l7.8,-6.1v-2l-7.8,6.1zM556.5,160l7.8,-6.1v-1.8l-7.8,6.1zM560.5,160l7.8,-6.1v-2l-7.8,6.1zM564.5,160l7.8,-6.1v-2l-7.8,6.1z" fill="#b84494"/><path d="M510.6,158.4h2.0l7.8,-6.1h-2.0zM514.6,159.1h2.0l7.8,-6.1h-2.0zM518.6,158.9h2.0l7.8,-6.1h-2.0zM522.5,158.8h2.0l7.8,-6.1h-2.0zM526.5,158.7h2.0l7.8,-6.1h-2.0zM530.5,159h2.0l7.8,-6.1h-2.0zM534.5,159.1h2.0l7.8,-6.1h-2.0zM538.5,158.8h2.0l7.8,-6.1h-2.0zM542.5,157.4h2.0l7.8,-6.1h-2.0zM546.5,158.8h2.0l7.8,-6.1h-2.0zM550.5,158.7h2.0l7.8,-6.1h-2.0zM554.5,158.9h2.0l7.8,-6.1h-2.0zM558.5,158.7h2.0l7.8,-6.1h-2.0zM562.5,158.7h2.0l7.8,-6.1h-2.0z" fill="#cc5ea8"/><path d="M566.4,141.9h2.8v18.1h-2.8z" fill="#e870c0"/><path d="M568.7,160l7.8,-6.1v-18.3l-7.8,6.1z" fill="#b84494"/><path d="M566.4,142.4h2.3l7.8,-6.1h-2.3z" fill="#cc5ea8"/><path d="M570.4,158.2h2.5v1.8h-2.5zM574.4,158.3h2.5v1.7h-2.5zM578.4,158.7h2.5v1.3h-2.5zM582.4,158.5h2.5v1.5h-2.5zM586.4,158.2h2.5v1.8h-2.5zM590.4,158.3h2.5v1.7h-2.5zM594.4,158.3h2.5v1.7h-2.5zM598.4,158.7h2.5v1.3h-2.5zM602.4,158.3h2.5v1.7h-2.5zM606.3,158.4h2.5v1.6h-2.5zM610.3,158.7h2.5v1.3h-2.5zM614.3,158.5h2.5v1.5h-2.5zM618.3,157.6h2.5v2.4h-2.5z" fill="#e870c0"/><path d="M572.4,160l7.8,-6.1v-2l-7.8,6.1zM576.4,160l7.8,-6.1v-1.9l-7.8,6.1zM580.4,160l7.8,-6.1v-1.5l-7.8,6.1zM584.4,160l7.8,-6.1v-1.7l-7.8,6.1zM588.4,160l7.8,-6.1v-2l-7.8,6.1zM592.4,160l7.8,-6.1v-1.9l-7.8,6.1zM596.4,160l7.8,-6.1v-1.9l-7.8,6.1zM600.4,160l7.8,-6.1v-1.5l-7.8,6.1zM604.4,160l7.8,-6.1v-1.9l-7.8,6.1zM608.3,160l7.8,-6.1v-1.8l-7.8,6.1zM612.3,160l7.8,-6.1v-1.5l-7.8,6.1zM616.3,160l7.8,-6.1v-1.7l-7.8,6.1zM620.3,160l7.8,-6.1v-2.6l-7.8,6.1z" fill="#b84494"/><path d="M570.4,158.7h2.0l7.8,-6.1h-2.0zM574.4,158.8h2.0l7.8,-6.1h-2.0zM578.4,159.2h2.0l7.8,-6.1h-2.0zM582.4,159h2.0l7.8,-6.1h-2.0zM586.4,158.7h2.0l7.8,-6.1h-2.0zM590.4,158.8h2.0l7.8,-6.1h-2.0zM594.4,158.8h2.0l7.8,-6.1h-2.0zM598.4,159.2h2.0l7.8,-6.1h-2.0zM602.4,158.8h2.0l7.8,-6.1h-2.0zM606.3,158.9h2.0l7.8,-6.1h-2.0zM610.3,159.2h2.0l7.8,-6.1h-2.0zM614.3,159h2.0l7.8,-6.1h-2.0zM618.3,158.1h2.0l7.8,-6.1h-2.0z" fill="#cc5ea8"/></g><g><path d="M104,170.6h2.5v1.4h-2.5zM108,170.1h2.5v1.9h-2.5zM112,170.5h2.5v1.5h-2.5zM116,170.3h2.5v1.7h-2.5zM119.9,170.3h2.5v1.7h-2.5zM123.9,170.7h2.5v1.3h-2.5zM127.9,170.5h2.5v1.5h-2.5zM131.9,170.5h2.5v1.5h-2.5zM135.9,170.7h2.5v1.3h-2.5zM139.9,169.6h2.5v2.4h-2.5zM143.9,170.3h2.5v1.7h-2.5zM147.9,170.5h2.5v1.5h-2.5zM151.9,170.4h2.5v1.6h-2.5zM155.9,170.6h2.5v1.4h-2.5zM159.8,170.6h2.5v1.4h-2.5zM163.8,170.1h2.5v1.9h-2.5zM167.8,169.3h2.5v2.7h-2.5zM171.8,168.5h2.5v3.5h-2.5zM175.8,170.1h2.5v1.9h-2.5zM179.8,170.5h2.5v1.5h-2.5zM183.8,170.1h2.5v1.9h-2.5zM187.8,170.4h2.5v1.6h-2.5zM191.8,170.4h2.5v1.6h-2.5zM195.8,170.6h2.5v1.4h-2.5zM199.7,170.4h2.5v1.6h-2.5zM203.7,170.3h2.5v1.7h-2.5zM207.7,170.2h2.5v1.8h-2.5zM211.7,170.7h2.5v1.3h-2.5zM215.7,169.3h2.5v2.7h-2.5zM219.7,170.5h2.5v1.5h-2.5zM223.7,170.5h2.5v1.5h-2.5zM227.7,170.2h2.5v1.8h-2.5zM231.7,169h2.5v3h-2.5zM235.7,170.6h2.5v1.4h-2.5zM239.6,170.3h2.5v1.7h-2.5zM243.6,170.5h2.5v1.5h-2.5zM247.6,170.5h2.5v1.5h-2.5zM251.6,170.3h2.5v1.7h-2.5zM255.6,170.4h2.5v1.6h-2.5zM259.6,170.7h2.5v1.3h-2.5zM263.6,170.2h2.5v1.8h-2.5zM267.6,170.1h2.5v1.9h-2.5zM271.6,170.5h2.5v1.5h-2.5zM275.6,170.6h2.5v1.4h-2.5zM279.5,170.1h2.5v1.9h-2.5zM283.5,170.2h2.5v1.8h-2.5zM287.5,170.2h2.5v1.8h-2.5zM291.5,170.4h2.5v1.6h-2.5zM295.5,170.7h2.5v1.3h-2.5zM299.5,170.4h2.5v1.6h-2.5zM303.5,170.3h2.5v1.7h-2.5zM307.5,170.7h2.5v1.3h-2.5zM311.5,170.6h2.5v1.4h-2.5zM315.4,170.5h2.5v1.5h-2.5zM319.4,170.3h2.5v1.7h-2.5zM323.4,170.5h2.5v1.5h-2.5zM327.4,170.5h2.5v1.5h-2.5zM331.4,170.5h2.5v1.5h-2.5zM335.4,170.6h2.5v1.4h-2.5zM339.4,170.2h2.5v1.8h-2.5zM343.4,170.6h2.5v1.4h-2.5zM347.4,170.1h2.5v1.9h-2.5zM351.4,170.6h2.5v1.4h-2.5zM355.4,170.6h2.5v1.4h-2.5zM359.3,170.6h2.5v1.4h-2.5z" fill="#c8a0f0"/><path d="M106,172l7.8,-6.1v-1.6l-7.8,6.1zM110,172l7.8,-6.1v-2.1l-7.8,6.1zM114,172l7.8,-6.1v-1.7l-7.8,6.1zM118,172l7.8,-6.1v-1.9l-7.8,6.1zM121.9,172l7.8,-6.1v-1.9l-7.8,6.1zM125.9,172l7.8,-6.1v-1.5l-7.8,6.1zM129.9,172l7.8,-6.1v-1.7l-7.8,6.1zM133.9,172l7.8,-6.1v-1.7l-7.8,6.1zM137.9,172l7.8,-6.1v-1.5l-7.8,6.1zM141.9,172l7.8,-6.1v-2.6l-7.8,6.1zM145.9,172l7.8,-6.1v-1.9l-7.8,6.1zM149.9,172l7.8,-6.1v-1.7l-7.8,6.1zM153.9,172l7.8,-6.1v-1.8l-7.8,6.1zM157.9,172l7.8,-6.1v-1.6l-7.8,6.1zM161.8,172l7.8,-6.1v-1.6l-7.8,6.1zM165.8,172l7.8,-6.1v-2.1l-7.8,6.1zM169.8,172l7.8,-6.1v-2.9l-7.8,6.1zM173.8,172l7.8,-6.1v-3.7l-7.8,6.1zM177.8,172l7.8,-6.1v-2.1l-7.8,6.1zM181.8,172l7.8,-6.1v-1.7l-7.8,6.1zM185.8,172l7.8,-6.1v-2.1l-7.8,6.1zM189.8,172l7.8,-6.1v-1.8l-7.8,6.1zM193.8,172l7.8,-6.1v-1.8l-7.8,6.1zM197.8,172l7.8,-6.1v-1.6l-7.8,6.1zM201.7,172l7.8,-6.1v-1.8l-7.8,6.1zM205.7,172l7.8,-6.1v-1.9l-7.8,6.1zM209.7,172l7.8,-6.1v-2l-7.8,6.1zM213.7,172l7.8,-6.1v-1.5l-7.8,6.1zM217.7,172l7.8,-6.1v-2.9l-7.8,6.1zM221.7,172l7.8,-6.1v-1.7l-7.8,6.1zM225.7,172l7.8,-6.1v-1.7l-7.8,6.1zM229.7,172l7.8,-6.1v-2l-7.8,6.1zM233.7,172l7.8,-6.1v-3.2l-7.8,6.1zM237.7,172l7.8,-6.1v-1.6l-7.8,6.1zM241.6,172l7.8,-6.1v-1.9l-7.8,6.1zM245.6,172l7.8,-6.1v-1.7l-7.8,6.1zM249.6,172l7.8,-6.1v-1.7l-7.8,6.1zM253.6,172l7.8,-6.1v-1.9l-7.8,6.1zM257.6,172l7.8,-6.1v-1.8l-7.8,6.1zM261.6,172l7.8,-6.1v-1.5l-7.8,6.1zM265.6,172l7.8,-6.1v-2l-7.8,6.1zM269.6,172l7.8,-6.1v-2.1l-7.8,6.1zM273.6,172l7.8,-6.1v-1.7l-7.8,6.1zM277.6,172l7.8,-6.1v-1.6l-7.8,6.1zM281.5,172l7.8,-6.1v-2.1l-7.8,6.1zM285.5,172l7.8,-6.1v-2l-7.8,6.1zM289.5,172l7.8,-6.1v-2l-7.8,6.1zM293.5,172l7.8,-6.1v-1.8l-7.8,6.1zM297.5,172l7.8,-6.1v-1.5l-7.8,6.1zM301.5,172l7.8,-6.1v-1.8l-7.8,6.1zM305.5,172l7.8,-6.1v-1.9l-7.8,6.1zM309.5,172l7.8,-6.1v-1.5l-7.8,6.1zM313.5,172l7.8,-6.1v-1.6l-7.8,6.1zM317.4,172l7.8,-6.1v-1.7l-7.8,6.1zM321.4,172l7.8,-6.1v-1.9l-7.8,6.1zM325.4,172l7.8,-6.1v-1.7l-7.8,6.1zM329.4,172l7.8,-6.1v-1.7l-7.8,6.1zM333.4,172l7.8,-6.1v-1.7l-7.8,6.1zM337.4,172l7.8,-6.1v-1.6l-7.8,6.1zM341.4,172l7.8,-6.1v-2l-7.8,6.1zM345.4,172l7.8,-6.1v-1.6l-7.8,6.1zM349.4,172l7.8,-6.1v-2.1l-7.8,6.1zM353.4,172l7.8,-6.1v-1.6l-7.8,6.1zM357.4,172l7.8,-6.1v-1.6l-7.8,6.1zM361.3,172l7.8,-6.1v-1.6l-7.8,6.1z" fill="#7c48c0"/><path d="M104,171.1h2.0l7.8,-6.1h-2.0zM108,170.6h2.0l7.8,-6.1h-2.0zM112,171h2.0l7.8,-6.1h-2.0zM116,170.8h2.0l7.8,-6.1h-2.0zM119.9,170.8h2.0l7.8,-6.1h-2.0zM123.9,171.2h2.0l7.8,-6.1h-2.0zM127.9,171h2.0l7.8,-6.1h-2.0zM131.9,171h2.0l7.8,-6.1h-2.0zM135.9,171.2h2.0l7.8,-6.1h-2.0zM139.9,170.1h2.0l7.8,-6.1h-2.0zM143.9,170.8h2.0l7.8,-6.1h-2.0zM147.9,171h2.0l7.8,-6.1h-2.0zM151.9,170.9h2.0l7.8,-6.1h-2.0zM155.9,171.1h2.0l7.8,-6.1h-2.0zM159.8,171.1h2.0l7.8,-6.1h-2.0zM163.8,170.6h2.0l7.8,-6.1h-2.0zM167.8,169.8h2.0l7.8,-6.1h-2.0zM171.8,169h2.0l7.8,-6.1h-2.0zM175.8,170.6h2.0l7.8,-6.1h-2.0zM179.8,171h2.0l7.8,-6.1h-2.0zM183.8,170.6h2.0l7.8,-6.1h-2.0zM187.8,170.9h2.0l7.8,-6.1h-2.0zM191.8,170.9h2.0l7.8,-6.1h-2.0zM195.8,171.1h2.0l7.8,-6.1h-2.0zM199.7,170.9h2.0l7.8,-6.1h-2.0zM203.7,170.8h2.0l7.8,-6.1h-2.0zM207.7,170.7h2.0l7.8,-6.1h-2.0zM211.7,171.2h2.0l7.8,-6.1h-2.0zM215.7,169.8h2.0l7.8,-6.1h-2.0zM219.7,171h2.0l7.8,-6.1h-2.0zM223.7,171h2.0l7.8,-6.1h-2.0zM227.7,170.7h2.0l7.8,-6.1h-2.0zM231.7,169.5h2.0l7.8,-6.1h-2.0zM235.7,171.1h2.0l7.8,-6.1h-2.0zM239.6,170.8h2.0l7.8,-6.1h-2.0zM243.6,171h2.0l7.8,-6.1h-2.0zM247.6,171h2.0l7.8,-6.1h-2.0zM251.6,170.8h2.0l7.8,-6.1h-2.0zM255.6,170.9h2.0l7.8,-6.1h-2.0zM259.6,171.2h2.0l7.8,-6.1h-2.0zM263.6,170.7h2.0l7.8,-6.1h-2.0zM267.6,170.6h2.0l7.8,-6.1h-2.0zM271.6,171h2.0l7.8,-6.1h-2.0zM275.6,171.1h2.0l7.8,-6.1h-2.0zM279.5,170.6h2.0l7.8,-6.1h-2.0zM283.5,170.7h2.0l7.8,-6.1h-2.0zM287.5,170.7h2.0l7.8,-6.1h-2.0zM291.5,170.9h2.0l7.8,-6.1h-2.0zM295.5,171.2h2.0l7.8,-6.1h-2.0zM299.5,170.9h2.0l7.8,-6.1h-2.0zM303.5,170.8h2.0l7.8,-6.1h-2.0zM307.5,171.2h2.0l7.8,-6.1h-2.0zM311.5,171.1h2.0l7.8,-6.1h-2.0zM315.4,171h2.0l7.8,-6.1h-2.0zM319.4,170.8h2.0l7.8,-6.1h-2.0zM323.4,171h2.0l7.8,-6.1h-2.0zM327.4,171h2.0l7.8,-6.1h-2.0zM331.4,171h2.0l7.8,-6.1h-2.0zM335.4,171.1h2.0l7.8,-6.1h-2.0zM339.4,170.7h2.0l7.8,-6.1h-2.0zM343.4,171.1h2.0l7.8,-6.1h-2.0zM347.4,170.6h2.0l7.8,-6.1h-2.0zM351.4,171.1h2.0l7.8,-6.1h-2.0zM355.4,171.1h2.0l7.8,-6.1h-2.0zM359.3,171.1h2.0l7.8,-6.1h-2.0z" fill="#9060cc"/><path d="M363.3,65.4h2.8v106.6h-2.8z" fill="#c8a0f0"/><path d="M365.6,172l7.8,-6.1v-106.8l-7.8,6.1z" fill="#7c48c0"/><path d="M363.3,65.9h2.3l7.8,-6.1h-2.3z" fill="#9060cc"/><path d="M367.3,170.5h2.5v1.5h-2.5zM371.3,170.2h2.5v1.8h-2.5zM375.3,170.5h2.5v1.5h-2.5zM379.3,170.4h2.5v1.6h-2.5zM383.3,170.5h2.5v1.5h-2.5zM387.3,169.6h2.5v2.4h-2.5zM391.3,170.6h2.5v1.4h-2.5zM395.3,170.3h2.5v1.7h-2.5zM399.2,170.6h2.5v1.4h-2.5zM403.2,170.6h2.5v1.4h-2.5zM407.2,170.4h2.5v1.6h-2.5zM411.2,170.2h2.5v1.8h-2.5zM415.2,170.7h2.5v1.3h-2.5zM419.2,169h2.5v3h-2.5zM423.2,170.4h2.5v1.6h-2.5zM427.2,170.7h2.5v1.3h-2.5zM431.2,170.1h2.5v1.9h-2.5zM435.2,170.2h2.5v1.8h-2.5zM439.1,170.6h2.5v1.4h-2.5zM443.1,170.6h2.5v1.4h-2.5zM447.1,170.3h2.5v1.7h-2.5zM451.1,170.3h2.5v1.7h-2.5zM455.1,170.2h2.5v1.8h-2.5zM459.1,170.4h2.5v1.6h-2.5zM463.1,169h2.5v3h-2.5zM467.1,170.1h2.5v1.9h-2.5z" fill="#c8a0f0"/><path d="M369.3,172l7.8,-6.1v-1.7l-7.8,6.1zM373.3,172l7.8,-6.1v-2l-7.8,6.1zM377.3,172l7.8,-6.1v-1.7l-7.8,6.1zM381.3,172l7.8,-6.1v-1.8l-7.8,6.1zM385.3,172l7.8,-6.1v-1.7l-7.8,6.1zM389.3,172l7.8,-6.1v-2.6l-7.8,6.1zM393.3,172l7.8,-6.1v-1.6l-7.8,6.1zM397.3,172l7.8,-6.1v-1.9l-7.8,6.1zM401.2,172l7.8,-6.1v-1.6l-7.8,6.1zM405.2,172l7.8,-6.1v-1.6l-7.8,6.1zM409.2,172l7.8,-6.1v-1.8l-7.8,6.1zM413.2,172l7.8,-6.1v-2l-7.8,6.1zM417.2,172l7.8,-6.1v-1.5l-7.8,6.1zM421.2,172l7.8,-6.1v-3.2l-7.8,6.1zM425.2,172l7.8,-6.1v-1.8l-7.8,6.1zM429.2,172l7.8,-6.1v-1.5l-7.8,6.1zM433.2,172l7.8,-6.1v-2.1l-7.8,6.1zM437.2,172l7.8,-6.1v-2l-7.8,6.1zM441.1,172l7.8,-6.1v-1.6l-7.8,6.1zM445.1,172l7.8,-6.1v-1.6l-7.8,6.1zM449.1,172l7.8,-6.1v-1.9l-7.8,6.1zM453.1,172l7.8,-6.1v-1.9l-7.8,6.1zM457.1,172l7.8,-6.1v-2l-7.8,6.1zM461.1,172l7.8,-6.1v-1.8l-7.8,6.1zM465.1,172l7.8,-6.1v-3.2l-7.8,6.1zM469.1,172l7.8,-6.1v-2.1l-7.8,6.1z" fill="#7c48c0"/><path d="M367.3,171h2.0l7.8,-6.1h-2.0zM371.3,170.7h2.0l7.8,-6.1h-2.0zM375.3,171h2.0l7.8,-6.1h-2.0zM379.3,170.9h2.0l7.8,-6.1h-2.0zM383.3,171h2.0l7.8,-6.1h-2.0zM387.3,170.1h2.0l7.8,-6.1h-2.0zM391.3,171.1h2.0l7.8,-6.1h-2.0zM395.3,170.8h2.0l7.8,-6.1h-2.0zM399.2,171.1h2.0l7.8,-6.1h-2.0zM403.2,171.1h2.0l7.8,-6.1h-2.0zM407.2,170.9h2.0l7.8,-6.1h-2.0zM411.2,170.7h2.0l7.8,-6.1h-2.0zM415.2,171.2h2.0l7.8,-6.1h-2.0zM419.2,169.5h2.0l7.8,-6.1h-2.0zM423.2,170.9h2.0l7.8,-6.1h-2.0zM427.2,171.2h2.0l7.8,-6.1h-2.0zM431.2,170.6h2.0l7.8,-6.1h-2.0zM435.2,170.7h2.0l7.8,-6.1h-2.0zM439.1,171.1h2.0l7.8,-6.1h-2.0zM443.1,171.1h2.0l7.8,-6.1h-2.0zM447.1,170.8h2.0l7.8,-6.1h-2.0zM451.1,170.8h2.0l7.8,-6.1h-2.0zM455.1,170.7h2.0l7.8,-6.1h-2.0zM459.1,170.9h2.0l7.8,-6.1h-2.0zM463.1,169.5h2.0l7.8,-6.1h-2.0zM467.1,170.6h2.0l7.8,-6.1h-2.0z" fill="#9060cc"/><path d="M471.1,167.5h2.8v4.5h-2.8z" fill="#c8a0f0"/><path d="M473.4,172l7.8,-6.1v-4.7l-7.8,6.1z" fill="#7c48c0"/><path d="M471.1,168h2.3l7.8,-6.1h-2.3z" fill="#9060cc"/><path d="M475.1,170.5h2.5v1.5h-2.5zM479,170.5h2.5v1.5h-2.5zM483,170.3h2.5v1.7h-2.5zM487,170.7h2.5v1.3h-2.5z" fill="#c8a0f0"/><path d="M477.1,172l7.8,-6.1v-1.7l-7.8,6.1zM481,172l7.8,-6.1v-1.7l-7.8,6.1zM485,172l7.8,-6.1v-1.9l-7.8,6.1zM489,172l7.8,-6.1v-1.5l-7.8,6.1z" fill="#7c48c0"/><path d="M475.1,171h2.0l7.8,-6.1h-2.0zM479,171h2.0l7.8,-6.1h-2.0zM483,170.8h2.0l7.8,-6.1h-2.0zM487,171.2h2.0l7.8,-6.1h-2.0z" fill="#9060cc"/><path d="M491,54.1h2.8v117.9h-2.8z" fill="#c8a0f0"/><path d="M493.3,172l7.8,-6.1v-118.1l-7.8,6.1z" fill="#7c48c0"/><path d="M491,54.6h2.3l7.8,-6.1h-2.3z" fill="#9060cc"/><path d="M495,170.4h2.5v1.6h-2.5zM499,170.6h2.5v1.4h-2.5zM503,170.7h2.5v1.3h-2.5zM507,170.4h2.5v1.6h-2.5zM511,170.3h2.5v1.7h-2.5zM515,170.4h2.5v1.6h-2.5zM518.9,170.6h2.5v1.4h-2.5zM522.9,170.3h2.5v1.7h-2.5zM526.9,170.7h2.5v1.3h-2.5zM530.9,170.3h2.5v1.7h-2.5zM534.9,170.5h2.5v1.5h-2.5zM538.9,170.1h2.5v1.9h-2.5zM542.9,170.7h2.5v1.3h-2.5zM546.9,170.4h2.5v1.6h-2.5zM550.9,170.6h2.5v1.4h-2.5zM554.9,170.3h2.5v1.7h-2.5zM558.8,170.6h2.5v1.4h-2.5zM562.8,170.5h2.5v1.5h-2.5zM566.8,170.6h2.5v1.4h-2.5zM570.8,170.2h2.5v1.8h-2.5zM574.8,170.1h2.5v1.9h-2.5zM578.8,168.5h2.5v3.5h-2.5zM582.8,170.6h2.5v1.4h-2.5zM586.8,170.4h2.5v1.6h-2.5zM590.8,170.1h2.5v1.9h-2.5zM594.8,170.5h2.5v1.5h-2.5zM598.7,170.1h2.5v1.9h-2.5zM602.7,170.7h2.5v1.3h-2.5z" fill="#c8a0f0"/><path d="M497,172l7.8,-6.1v-1.8l-7.8,6.1zM501,172l7.8,-6.1v-1.6l-7.8,6.1zM505,172l7.8,-6.1v-1.5l-7.8,6.1zM509,172l7.8,-6.1v-1.8l-7.8,6.1zM513,172l7.8,-6.1v-1.9l-7.8,6.1zM517,172l7.8,-6.1v-1.8l-7.8,6.1zM520.9,172l7.8,-6.1v-1.6l-7.8,6.1zM524.9,172l7.8,-6.1v-1.9l-7.8,6.1zM528.9,172l7.8,-6.1v-1.5l-7.8,6.1zM532.9,172l7.8,-6.1v-1.9l-7.8,6.1zM536.9,172l7.8,-6.1v-1.7l-7.8,6.1zM540.9,172l7.8,-6.1v-2.1l-7.8,6.1zM544.9,172l7.8,-6.1v-1.5l-7.8,6.1zM548.9,172l7.8,-6.1v-1.8l-7.8,6.1zM552.9,172l7.8,-6.1v-1.6l-7.8,6.1zM556.9,172l7.8,-6.1v-1.9l-7.8,6.1zM560.8,172l7.8,-6.1v-1.6l-7.8,6.1zM564.8,172l7.8,-6.1v-1.7l-7.8,6.1zM568.8,172l7.8,-6.1v-1.6l-7.8,6.1zM572.8,172l7.8,-6.1v-2l-7.8,6.1zM576.8,172l7.8,-6.1v-2.1l-7.8,6.1zM580.8,172l7.8,-6.1v-3.7l-7.8,6.1zM584.8,172l7.8,-6.1v-1.6l-7.8,6.1zM588.8,172l7.8,-6.1v-1.8l-7.8,6.1zM592.8,172l7.8,-6.1v-2.1l-7.8,6.1zM596.8,172l7.8,-6.1v-1.7l-7.8,6.1zM600.7,172l7.8,-6.1v-2.1l-7.8,6.1zM604.7,172l7.8,-6.1v-1.5l-7.8,6.1z" fill="#7c48c0"/><path d="M495,170.9h2.0l7.8,-6.1h-2.0zM499,171.1h2.0l7.8,-6.1h-2.0zM503,171.2h2.0l7.8,-6.1h-2.0zM507,170.9h2.0l7.8,-6.1h-2.0zM511,170.8h2.0l7.8,-6.1h-2.0zM515,170.9h2.0l7.8,-6.1h-2.0zM518.9,171.1h2.0l7.8,-6.1h-2.0zM522.9,170.8h2.0l7.8,-6.1h-2.0zM526.9,171.2h2.0l7.8,-6.1h-2.0zM530.9,170.8h2.0l7.8,-6.1h-2.0zM534.9,171h2.0l7.8,-6.1h-2.0zM538.9,170.6h2.0l7.8,-6.1h-2.0zM542.9,171.2h2.0l7.8,-6.1h-2.0zM546.9,170.9h2.0l7.8,-6.1h-2.0zM550.9,171.1h2.0l7.8,-6.1h-2.0zM554.9,170.8h2.0l7.8,-6.1h-2.0zM558.8,171.1h2.0l7.8,-6.1h-2.0zM562.8,171h2.0l7.8,-6.1h-2.0zM566.8,171.1h2.0l7.8,-6.1h-2.0zM570.8,170.7h2.0l7.8,-6.1h-2.0zM574.8,170.6h2.0l7.8,-6.1h-2.0zM578.8,169h2.0l7.8,-6.1h-2.0zM582.8,171.1h2.0l7.8,-6.1h-2.0zM586.8,170.9h2.0l7.8,-6.1h-2.0zM590.8,170.6h2.0l7.8,-6.1h-2.0zM594.8,171h2.0l7.8,-6.1h-2.0zM598.7,170.6h2.0l7.8,-6.1h-2.0zM602.7,171.2h2.0l7.8,-6.1h-2.0z" fill="#9060cc"/></g><g><path d="M88.4,181.4h2.5v2.6h-2.5zM92.4,182.2h2.5v1.8h-2.5zM96.4,182.1h2.5v1.9h-2.5zM100.4,182.5h2.5v1.5h-2.5zM104.4,182.1h2.5v1.9h-2.5zM108.4,182.7h2.5v1.3h-2.5zM112.3,182.5h2.5v1.5h-2.5zM116.3,182.5h2.5v1.5h-2.5zM120.3,182.7h2.5v1.3h-2.5zM124.3,182.5h2.5v1.5h-2.5zM128.3,182.6h2.5v1.4h-2.5zM132.3,182.6h2.5v1.4h-2.5zM136.3,182.2h2.5v1.8h-2.5zM140.3,182.4h2.5v1.6h-2.5zM144.3,181.3h2.5v2.7h-2.5zM148.2,182.1h2.5v1.9h-2.5zM152.2,182.5h2.5v1.5h-2.5z" fill="#a4aaf0"/><path d="M90.4,184l7.8,-6.1v-2.8l-7.8,6.1zM94.4,184l7.8,-6.1v-2l-7.8,6.1zM98.4,184l7.8,-6.1v-2.1l-7.8,6.1zM102.4,184l7.8,-6.1v-1.7l-7.8,6.1zM106.4,184l7.8,-6.1v-2.1l-7.8,6.1zM110.4,184l7.8,-6.1v-1.5l-7.8,6.1zM114.3,184l7.8,-6.1v-1.7l-7.8,6.1zM118.3,184l7.8,-6.1v-1.7l-7.8,6.1zM122.3,184l7.8,-6.1v-1.5l-7.8,6.1zM126.3,184l7.8,-6.1v-1.7l-7.8,6.1zM130.3,184l7.8,-6.1v-1.6l-7.8,6.1zM134.3,184l7.8,-6.1v-1.6l-7.8,6.1zM138.3,184l7.8,-6.1v-2l-7.8,6.1zM142.3,184l7.8,-6.1v-1.8l-7.8,6.1zM146.3,184l7.8,-6.1v-2.9l-7.8,6.1zM150.2,184l7.8,-6.1v-2.1l-7.8,6.1zM154.2,184l7.8,-6.1v-1.7l-7.8,6.1z" fill="#5454b4"/><path d="M88.4,181.9h2.0l7.8,-6.1h-2.0zM92.4,182.7h2.0l7.8,-6.1h-2.0zM96.4,182.6h2.0l7.8,-6.1h-2.0zM100.4,183h2.0l7.8,-6.1h-2.0zM104.4,182.6h2.0l7.8,-6.1h-2.0zM108.4,183.2h2.0l7.8,-6.1h-2.0zM112.3,183h2.0l7.8,-6.1h-2.0zM116.3,183h2.0l7.8,-6.1h-2.0zM120.3,183.2h2.0l7.8,-6.1h-2.0zM124.3,183h2.0l7.8,-6.1h-2.0zM128.3,183.1h2.0l7.8,-6.1h-2.0zM132.3,183.1h2.0l7.8,-6.1h-2.0zM136.3,182.7h2.0l7.8,-6.1h-2.0zM140.3,182.9h2.0l7.8,-6.1h-2.0zM144.3,181.8h2.0l7.8,-6.1h-2.0zM148.2,182.6h2.0l7.8,-6.1h-2.0zM152.2,183h2.0l7.8,-6.1h-2.0z" fill="#6c6cc8"/><path d="M156.2,173.9h2.8v10.1h-2.8z" fill="#a4aaf0"/><path d="M158.5,184l7.8,-6.1v-10.3l-7.8,6.1z" fill="#5454b4"/><path d="M156.2,174.4h2.3l7.8,-6.1h-2.3z" fill="#6c6cc8"/><path d="M160.2,182.7h2.5v1.3h-2.5zM164.2,182.2h2.5v1.8h-2.5zM168.2,182.7h2.5v1.3h-2.5zM172.2,181.8h2.5v2.2h-2.5zM176.2,182.5h2.5v1.5h-2.5zM180.2,182.2h2.5v1.8h-2.5zM184.2,182.5h2.5v1.5h-2.5zM188.2,182.3h2.5v1.7h-2.5zM192.1,182.3h2.5v1.7h-2.5zM196.1,182.5h2.5v1.5h-2.5zM200.1,181h2.5v3h-2.5zM204.1,182.3h2.5v1.7h-2.5zM208.1,182.7h2.5v1.3h-2.5zM212.1,182.4h2.5v1.6h-2.5z" fill="#a4aaf0"/><path d="M162.2,184l7.8,-6.1v-1.5l-7.8,6.1zM166.2,184l7.8,-6.1v-2l-7.8,6.1zM170.2,184l7.8,-6.1v-1.5l-7.8,6.1zM174.2,184l7.8,-6.1v-2.4l-7.8,6.1zM178.2,184l7.8,-6.1v-1.7l-7.8,6.1zM182.2,184l7.8,-6.1v-2l-7.8,6.1zM186.2,184l7.8,-6.1v-1.7l-7.8,6.1zM190.2,184l7.8,-6.1v-1.9l-7.8,6.1zM194.1,184l7.8,-6.1v-1.9l-7.8,6.1zM198.1,184l7.8,-6.1v-1.7l-7.8,6.1zM202.1,184l7.8,-6.1v-3.2l-7.8,6.1zM206.1,184l7.8,-6.1v-1.9l-7.8,6.1zM210.1,184l7.8,-6.1v-1.5l-7.8,6.1zM214.1,184l7.8,-6.1v-1.8l-7.8,6.1z" fill="#5454b4"/><path d="M160.2,183.2h2.0l7.8,-6.1h-2.0zM164.2,182.7h2.0l7.8,-6.1h-2.0zM168.2,183.2h2.0l7.8,-6.1h-2.0zM172.2,182.3h2.0l7.8,-6.1h-2.0zM176.2,183h2.0l7.8,-6.1h-2.0zM180.2,182.7h2.0l7.8,-6.1h-2.0zM184.2,183h2.0l7.8,-6.1h-2.0zM188.2,182.8h2.0l7.8,-6.1h-2.0zM192.1,182.8h2.0l7.8,-6.1h-2.0zM196.1,183h2.0l7.8,-6.1h-2.0zM200.1,181.5h2.0l7.8,-6.1h-2.0zM204.1,182.8h2.0l7.8,-6.1h-2.0zM208.1,183.2h2.0l7.8,-6.1h-2.0zM212.1,182.9h2.0l7.8,-6.1h-2.0z" fill="#6c6cc8"/><path d="M216.1,179.5h2.8v4.5h-2.8z" fill="#a4aaf0"/><path d="M218.4,184l7.8,-6.1v-4.7l-7.8,6.1z" fill="#5454b4"/><path d="M216.1,180h2.3l7.8,-6.1h-2.3z" fill="#6c6cc8"/><path d="M220.1,182.1h2.5v1.9h-2.5zM224.1,182.5h2.5v1.5h-2.5zM228.1,182.4h2.5v1.6h-2.5zM232,182.6h2.5v1.4h-2.5zM236,182.3h2.5v1.7h-2.5zM240,182.2h2.5v1.8h-2.5zM244,182.5h2.5v1.5h-2.5zM248,182.5h2.5v1.5h-2.5zM252,182.7h2.5v1.3h-2.5zM256,182.2h2.5v1.8h-2.5zM260,182.7h2.5v1.3h-2.5zM264,181.2h2.5v2.8h-2.5zM268,182.1h2.5v1.9h-2.5zM271.9,182.1h2.5v1.9h-2.5zM275.9,182.6h2.5v1.4h-2.5zM279.9,182.4h2.5v1.6h-2.5zM283.9,182.4h2.5v1.6h-2.5zM287.9,182.4h2.5v1.6h-2.5zM291.9,182.3h2.5v1.7h-2.5zM295.9,182.2h2.5v1.8h-2.5zM299.9,182.6h2.5v1.4h-2.5zM303.9,182.5h2.5v1.5h-2.5zM307.9,182.5h2.5v1.5h-2.5zM311.8,182.6h2.5v1.4h-2.5zM315.8,182.6h2.5v1.4h-2.5zM319.8,182.2h2.5v1.8h-2.5zM323.8,182.5h2.5v1.5h-2.5zM327.8,182.1h2.5v1.9h-2.5zM331.8,182.6h2.5v1.4h-2.5zM335.8,180.5h2.5v3.5h-2.5z" fill="#a4aaf0"/><path d="M222.1,184l7.8,-6.1v-2.1l-7.8,6.1zM226.1,184l7.8,-6.1v-1.7l-7.8,6.1zM230.1,184l7.8,-6.1v-1.8l-7.8,6.1zM234,184l7.8,-6.1v-1.6l-7.8,6.1zM238,184l7.8,-6.1v-1.9l-7.8,6.1zM242,184l7.8,-6.1v-2l-7.8,6.1zM246,184l7.8,-6.1v-1.7l-7.8,6.1zM250,184l7.8,-6.1v-1.7l-7.8,6.1zM254,184l7.8,-6.1v-1.5l-7.8,6.1zM258,184l7.8,-6.1v-2l-7.8,6.1zM262,184l7.8,-6.1v-1.5l-7.8,6.1zM266,184l7.8,-6.1v-3l-7.8,6.1zM270,184l7.8,-6.1v-2.1l-7.8,6.1zM273.9,184l7.8,-6.1v-2.1l-7.8,6.1zM277.9,184l7.8,-6.1v-1.6l-7.8,6.1zM281.9,184l7.8,-6.1v-1.8l-7.8,6.1zM285.9,184l7.8,-6.1v-1.8l-7.8,6.1zM289.9,184l7.8,-6.1v-1.8l-7.8,6.1zM293.9,184l7.8,-6.1v-1.9l-7.8,6.1zM297.9,184l7.8,-6.1v-2l-7.8,6.1zM301.9,184l7.8,-6.1v-1.6l-7.8,6.1zM305.9,184l7.8,-6.1v-1.7l-7.8,6.1zM309.9,184l7.8,-6.1v-1.7l-7.8,6.1zM313.8,184l7.8,-6.1v-1.6l-7.8,6.1zM317.8,184l7.8,-6.1v-1.6l-7.8,6.1zM321.8,184l7.8,-6.1v-2l-7.8,6.1zM325.8,184l7.8,-6.1v-1.7l-7.8,6.1zM329.8,184l7.8,-6.1v-2.1l-7.8,6.1zM333.8,184l7.8,-6.1v-1.6l-7.8,6.1zM337.8,184l7.8,-6.1v-3.7l-7.8,6.1z" fill="#5454b4"/><path d="M220.1,182.6h2.0l7.8,-6.1h-2.0zM224.1,183h2.0l7.8,-6.1h-2.0zM228.1,182.9h2.0l7.8,-6.1h-2.0zM232,183.1h2.0l7.8,-6.1h-2.0zM236,182.8h2.0l7.8,-6.1h-2.0zM240,182.7h2.0l7.8,-6.1h-2.0zM244,183h2.0l7.8,-6.1h-2.0zM248,183h2.0l7.8,-6.1h-2.0zM252,183.2h2.0l7.8,-6.1h-2.0zM256,182.7h2.0l7.8,-6.1h-2.0zM260,183.2h2.0l7.8,-6.1h-2.0zM264,181.7h2.0l7.8,-6.1h-2.0zM268,182.6h2.0l7.8,-6.1h-2.0zM271.9,182.6h2.0l7.8,-6.1h-2.0zM275.9,183.1h2.0l7.8,-6.1h-2.0zM279.9,182.9h2.0l7.8,-6.1h-2.0zM283.9,182.9h2.0l7.8,-6.1h-2.0zM287.9,182.9h2.0l7.8,-6.1h-2.0zM291.9,182.8h2.0l7.8,-6.1h-2.0zM295.9,182.7h2.0l7.8,-6.1h-2.0zM299.9,183.1h2.0l7.8,-6.1h-2.0zM303.9,183h2.0l7.8,-6.1h-2.0zM307.9,183h2.0l7.8,-6.1h-2.0zM311.8,183.1h2.0l7.8,-6.1h-2.0zM315.8,183.1h2.0l7.8,-6.1h-2.0zM319.8,182.7h2.0l7.8,-6.1h-2.0zM323.8,183h2.0l7.8,-6.1h-2.0zM327.8,182.6h2.0l7.8,-6.1h-2.0zM331.8,183.1h2.0l7.8,-6.1h-2.0zM335.8,181h2.0l7.8,-6.1h-2.0z" fill="#6c6cc8"/><path d="M339.8,178h2.8v6h-2.8z" fill="#a4aaf0"/><path d="M342.1,184l7.8,-6.1v-6.2l-7.8,6.1z" fill="#5454b4"/><path d="M339.8,178.5h2.3l7.8,-6.1h-2.3z" fill="#6c6cc8"/><path d="M343.8,182.3h2.5v1.7h-2.5z" fill="#a4aaf0"/><path d="M345.8,184l7.8,-6.1v-1.9l-7.8,6.1z" fill="#5454b4"/><path d="M343.8,182.8h2.0l7.8,-6.1h-2.0z" fill="#6c6cc8"/><path d="M347.8,155.7h2.8v28.3h-2.8z" fill="#a4aaf0"/><path d="M350.1,184l7.8,-6.1v-28.5l-7.8,6.1z" fill="#5454b4"/><path d="M347.8,156.2h2.3l7.8,-6.1h-2.3z" fill="#6c6cc8"/><path d="M351.7,182.6h2.5v1.4h-2.5zM355.7,182.2h2.5v1.8h-2.5zM359.7,182.2h2.5v1.8h-2.5zM363.7,181.5h2.5v2.5h-2.5zM367.7,182.6h2.5v1.4h-2.5zM371.7,182.4h2.5v1.6h-2.5zM375.7,182.5h2.5v1.5h-2.5zM379.7,182.4h2.5v1.6h-2.5zM383.7,182.2h2.5v1.8h-2.5zM387.6,182.6h2.5v1.4h-2.5zM391.6,182.3h2.5v1.7h-2.5zM395.6,182.5h2.5v1.5h-2.5zM399.6,182.6h2.5v1.4h-2.5zM403.6,182.3h2.5v1.7h-2.5zM407.6,182.6h2.5v1.4h-2.5zM411.6,181.5h2.5v2.5h-2.5zM415.6,182.6h2.5v1.4h-2.5zM419.6,182.6h2.5v1.4h-2.5zM423.6,182.4h2.5v1.6h-2.5zM427.6,181.8h2.5v2.2h-2.5zM431.5,182.4h2.5v1.6h-2.5zM435.5,182.6h2.5v1.4h-2.5zM439.5,182.3h2.5v1.7h-2.5zM443.5,182.5h2.5v1.5h-2.5zM447.5,182.1h2.5v1.9h-2.5zM451.5,182.4h2.5v1.6h-2.5zM455.5,182.5h2.5v1.5h-2.5zM459.5,182.1h2.5v1.9h-2.5zM463.5,182.6h2.5v1.4h-2.5zM467.5,182.6h2.5v1.4h-2.5zM471.4,180.8h2.5v3.2h-2.5z" fill="#a4aaf0"/><path d="M353.7,184l7.8,-6.1v-1.6l-7.8,6.1zM357.7,184l7.8,-6.1v-2l-7.8,6.1zM361.7,184l7.8,-6.1v-2l-7.8,6.1zM365.7,184l7.8,-6.1v-2.7l-7.8,6.1zM369.7,184l7.8,-6.1v-1.6l-7.8,6.1zM373.7,184l7.8,-6.1v-1.8l-7.8,6.1zM377.7,184l7.8,-6.1v-1.7l-7.8,6.1zM381.7,184l7.8,-6.1v-1.8l-7.8,6.1zM385.7,184l7.8,-6.1v-2l-7.8,6.1zM389.6,184l7.8,-6.1v-1.6l-7.8,6.1zM393.6,184l7.8,-6.1v-1.9l-7.8,6.1zM397.6,184l7.8,-6.1v-1.7l-7.8,6.1zM401.6,184l7.8,-6.1v-1.6l-7.8,6.1zM405.6,184l7.8,-6.1v-1.9l-7.8,6.1zM409.6,184l7.8,-6.1v-1.6l-7.8,6.1zM413.6,184l7.8,-6.1v-2.7l-7.8,6.1zM417.6,184l7.8,-6.1v-1.6l-7.8,6.1zM421.6,184l7.8,-6.1v-1.6l-7.8,6.1zM425.6,184l7.8,-6.1v-1.8l-7.8,6.1zM429.6,184l7.8,-6.1v-2.4l-7.8,6.1zM433.5,184l7.8,-6.1v-1.8l-7.8,6.1zM437.5,184l7.8,-6.1v-1.6l-7.8,6.1zM441.5,184l7.8,-6.1v-1.9l-7.8,6.1zM445.5,184l7.8,-6.1v-1.7l-7.8,6.1zM449.5,184l7.8,-6.1v-2.1l-7.8,6.1zM453.5,184l7.8,-6.1v-1.8l-7.8,6.1zM457.5,184l7.8,-6.1v-1.7l-7.8,6.1zM461.5,184l7.8,-6.1v-2.1l-7.8,6.1zM465.5,184l7.8,-6.1v-1.6l-7.8,6.1zM469.5,184l7.8,-6.1v-1.6l-7.8,6.1zM473.4,184l7.8,-6.1v-3.4l-7.8,6.1z" fill="#5454b4"/><path d="M351.7,183.1h2.0l7.8,-6.1h-2.0zM355.7,182.7h2.0l7.8,-6.1h-2.0zM359.7,182.7h2.0l7.8,-6.1h-2.0zM363.7,182h2.0l7.8,-6.1h-2.0zM367.7,183.1h2.0l7.8,-6.1h-2.0zM371.7,182.9h2.0l7.8,-6.1h-2.0zM375.7,183h2.0l7.8,-6.1h-2.0zM379.7,182.9h2.0l7.8,-6.1h-2.0zM383.7,182.7h2.0l7.8,-6.1h-2.0zM387.6,183.1h2.0l7.8,-6.1h-2.0zM391.6,182.8h2.0l7.8,-6.1h-2.0zM395.6,183h2.0l7.8,-6.1h-2.0zM399.6,183.1h2.0l7.8,-6.1h-2.0zM403.6,182.8h2.0l7.8,-6.1h-2.0zM407.6,183.1h2.0l7.8,-6.1h-2.0zM411.6,182h2.0l7.8,-6.1h-2.0zM415.6,183.1h2.0l7.8,-6.1h-2.0zM419.6,183.1h2.0l7.8,-6.1h-2.0zM423.6,182.9h2.0l7.8,-6.1h-2.0zM427.6,182.3h2.0l7.8,-6.1h-2.0zM431.5,182.9h2.0l7.8,-6.1h-2.0zM435.5,183.1h2.0l7.8,-6.1h-2.0zM439.5,182.8h2.0l7.8,-6.1h-2.0zM443.5,183h2.0l7.8,-6.1h-2.0zM447.5,182.6h2.0l7.8,-6.1h-2.0zM451.5,182.9h2.0l7.8,-6.1h-2.0zM455.5,183h2.0l7.8,-6.1h-2.0zM459.5,182.6h2.0l7.8,-6.1h-2.0zM463.5,183.1h2.0l7.8,-6.1h-2.0zM467.5,183.1h2.0l7.8,-6.1h-2.0zM471.4,181.3h2.0l7.8,-6.1h-2.0z" fill="#6c6cc8"/><path d="M475.4,72.7h2.8v111.3h-2.8z" fill="#a4aaf0"/><path d="M477.7,184l7.8,-6.1v-111.5l-7.8,6.1z" fill="#5454b4"/><path d="M475.4,73.2h2.3l7.8,-6.1h-2.3z" fill="#6c6cc8"/><path d="M479.4,182.2h2.5v1.8h-2.5zM483.4,182.2h2.5v1.8h-2.5zM487.4,182.6h2.5v1.4h-2.5zM491.4,181.2h2.5v2.8h-2.5z" fill="#a4aaf0"/><path d="M481.4,184l7.8,-6.1v-2l-7.8,6.1zM485.4,184l7.8,-6.1v-2l-7.8,6.1zM489.4,184l7.8,-6.1v-1.6l-7.8,6.1zM493.4,184l7.8,-6.1v-3l-7.8,6.1z" fill="#5454b4"/><path d="M479.4,182.7h2.0l7.8,-6.1h-2.0zM483.4,182.7h2.0l7.8,-6.1h-2.0zM487.4,183.1h2.0l7.8,-6.1h-2.0zM491.4,181.7h2.0l7.8,-6.1h-2.0z" fill="#6c6cc8"/><path d="M495.4,177.5h2.8v6.5h-2.8z" fill="#a4aaf0"/><path d="M497.7,184l7.8,-6.1v-6.7l-7.8,6.1z" fill="#5454b4"/><path d="M495.4,178h2.3l7.8,-6.1h-2.3z" fill="#6c6cc8"/><path d="M499.4,182.2h2.5v1.8h-2.5zM503.4,182.3h2.5v1.7h-2.5zM507.4,182.4h2.5v1.6h-2.5zM511.3,182.5h2.5v1.5h-2.5zM515.3,182.1h2.5v1.9h-2.5zM519.3,182.4h2.5v1.6h-2.5zM523.3,182.1h2.5v1.9h-2.5zM527.3,182.6h2.5v1.4h-2.5zM531.3,182.1h2.5v1.9h-2.5z" fill="#a4aaf0"/><path d="M501.4,184l7.8,-6.1v-2l-7.8,6.1zM505.4,184l7.8,-6.1v-1.9l-7.8,6.1zM509.4,184l7.8,-6.1v-1.8l-7.8,6.1zM513.3,184l7.8,-6.1v-1.7l-7.8,6.1zM517.3,184l7.8,-6.1v-2.1l-7.8,6.1zM521.3,184l7.8,-6.1v-1.8l-7.8,6.1zM525.3,184l7.8,-6.1v-2.1l-7.8,6.1zM529.3,184l7.8,-6.1v-1.6l-7.8,6.1zM533.3,184l7.8,-6.1v-2.1l-7.8,6.1z" fill="#5454b4"/><path d="M499.4,182.7h2.0l7.8,-6.1h-2.0zM503.4,182.8h2.0l7.8,-6.1h-2.0zM507.4,182.9h2.0l7.8,-6.1h-2.0zM511.3,183h2.0l7.8,-6.1h-2.0zM515.3,182.6h2.0l7.8,-6.1h-2.0zM519.3,182.9h2.0l7.8,-6.1h-2.0zM523.3,182.6h2.0l7.8,-6.1h-2.0zM527.3,183.1h2.0l7.8,-6.1h-2.0zM531.3,182.6h2.0l7.8,-6.1h-2.0z" fill="#6c6cc8"/><path d="M535.3,178.5h2.8v5.5h-2.8z" fill="#a4aaf0"/><path d="M537.6,184l7.8,-6.1v-5.7l-7.8,6.1z" fill="#5454b4"/><path d="M535.3,179h2.3l7.8,-6.1h-2.3z" fill="#6c6cc8"/><path d="M539.3,182.7h2.5v1.3h-2.5zM543.3,182.5h2.5v1.5h-2.5zM547.2,182.3h2.5v1.7h-2.5zM551.2,182.6h2.5v1.4h-2.5zM555.2,182.6h2.5v1.4h-2.5zM559.2,182.2h2.5v1.8h-2.5z" fill="#a4aaf0"/><path d="M541.3,184l7.8,-6.1v-1.5l-7.8,6.1zM545.3,184l7.8,-6.1v-1.7l-7.8,6.1zM549.2,184l7.8,-6.1v-1.9l-7.8,6.1zM553.2,184l7.8,-6.1v-1.6l-7.8,6.1zM557.2,184l7.8,-6.1v-1.6l-7.8,6.1zM561.2,184l7.8,-6.1v-2l-7.8,6.1z" fill="#5454b4"/><path d="M539.3,183.2h2.0l7.8,-6.1h-2.0zM543.3,183h2.0l7.8,-6.1h-2.0zM547.2,182.8h2.0l7.8,-6.1h-2.0zM551.2,183.1h2.0l7.8,-6.1h-2.0zM555.2,183.1h2.0l7.8,-6.1h-2.0zM559.2,182.7h2.0l7.8,-6.1h-2.0z" fill="#6c6cc8"/><path d="M563.2,178.5h2.8v5.5h-2.8z" fill="#a4aaf0"/><path d="M565.5,184l7.8,-6.1v-5.7l-7.8,6.1z" fill="#5454b4"/><path d="M563.2,179h2.3l7.8,-6.1h-2.3z" fill="#6c6cc8"/><path d="M567.2,182.6h2.5v1.4h-2.5zM571.2,182.5h2.5v1.5h-2.5zM575.2,182.5h2.5v1.5h-2.5zM579.2,182.6h2.5v1.4h-2.5zM583.2,182.2h2.5v1.8h-2.5zM587.1,181.2h2.5v2.8h-2.5z" fill="#a4aaf0"/><path d="M569.2,184l7.8,-6.1v-1.6l-7.8,6.1zM573.2,184l7.8,-6.1v-1.7l-7.8,6.1zM577.2,184l7.8,-6.1v-1.7l-7.8,6.1zM581.2,184l7.8,-6.1v-1.6l-7.8,6.1zM585.2,184l7.8,-6.1v-2l-7.8,6.1zM589.1,184l7.8,-6.1v-3l-7.8,6.1z" fill="#5454b4"/><path d="M567.2,183.1h2.0l7.8,-6.1h-2.0zM571.2,183h2.0l7.8,-6.1h-2.0zM575.2,183h2.0l7.8,-6.1h-2.0zM579.2,183.1h2.0l7.8,-6.1h-2.0zM583.2,182.7h2.0l7.8,-6.1h-2.0zM587.1,181.7h2.0l7.8,-6.1h-2.0z" fill="#6c6cc8"/></g><g><path d="M72.8,194.6h2.5v1.3h-2.5zM76.8,194.5h2.5v1.4h-2.5zM80.8,194.3h2.5v1.6h-2.5zM84.8,194.4h2.5v1.5h-2.5zM88.8,194.3h2.5v1.6h-2.5zM92.8,194.2h2.5v1.7h-2.5zM96.8,194.3h2.5v1.6h-2.5zM100.8,193.1h2.5v2.8h-2.5zM104.7,194.5h2.5v1.4h-2.5zM108.7,194.1h2.5v1.8h-2.5zM112.7,194.5h2.5v1.4h-2.5zM116.7,194.5h2.5v1.4h-2.5zM120.7,194.3h2.5v1.6h-2.5zM124.7,192.4h2.5v3.5h-2.5zM128.7,194.3h2.5v1.6h-2.5zM132.7,194.6h2.5v1.3h-2.5zM136.7,194.6h2.5v1.3h-2.5zM140.6,194.1h2.5v1.8h-2.5zM144.6,194.6h2.5v1.3h-2.5zM148.6,194.4h2.5v1.5h-2.5zM152.6,194.5h2.5v1.4h-2.5zM156.6,194h2.5v1.9h-2.5zM160.6,194.1h2.5v1.8h-2.5zM164.6,194h2.5v1.9h-2.5zM168.6,194h2.5v1.9h-2.5zM172.6,194.5h2.5v1.4h-2.5zM176.6,194h2.5v1.9h-2.5zM180.6,193.4h2.5v2.5h-2.5zM184.5,194.5h2.5v1.4h-2.5zM188.5,194.4h2.5v1.5h-2.5zM192.5,194.5h2.5v1.4h-2.5zM196.5,194h2.5v1.9h-2.5zM200.5,194.4h2.5v1.5h-2.5zM204.5,194.4h2.5v1.5h-2.5zM208.5,193.6h2.5v2.3h-2.5zM212.5,194h2.5v1.9h-2.5zM216.5,194.1h2.5v1.8h-2.5zM220.4,194.1h2.5v1.8h-2.5zM224.4,194.3h2.5v1.6h-2.5zM228.4,194.4h2.5v1.5h-2.5zM232.4,194.3h2.5v1.6h-2.5zM236.4,194.1h2.5v1.8h-2.5zM240.4,194h2.5v1.9h-2.5zM244.4,194.4h2.5v1.5h-2.5zM248.4,194.4h2.5v1.5h-2.5zM252.4,194.3h2.5v1.6h-2.5zM256.4,194.1h2.5v1.8h-2.5zM260.4,194.5h2.5v1.4h-2.5zM264.3,194.6h2.5v1.3h-2.5zM268.3,194.4h2.5v1.5h-2.5zM272.3,194h2.5v1.9h-2.5zM276.3,194.2h2.5v1.7h-2.5zM280.3,194.6h2.5v1.3h-2.5zM284.3,193.6h2.5v2.3h-2.5zM288.3,194.3h2.5v1.6h-2.5zM292.3,194.1h2.5v1.8h-2.5zM296.3,194.5h2.5v1.4h-2.5zM300.2,194.6h2.5v1.3h-2.5zM304.2,193.4h2.5v2.5h-2.5zM308.2,194.4h2.5v1.5h-2.5zM312.2,194.2h2.5v1.7h-2.5zM316.2,194.5h2.5v1.4h-2.5zM320.2,194.3h2.5v1.6h-2.5zM324.2,194h2.5v1.9h-2.5z" fill="#a8dcf0"/><path d="M74.8,195.9l7.8,-6.1v-1.5l-7.8,6.1zM78.8,195.9l7.8,-6.1v-1.6l-7.8,6.1zM82.8,195.9l7.8,-6.1v-1.8l-7.8,6.1zM86.8,195.9l7.8,-6.1v-1.7l-7.8,6.1zM90.8,195.9l7.8,-6.1v-1.8l-7.8,6.1zM94.8,195.9l7.8,-6.1v-1.9l-7.8,6.1zM98.8,195.9l7.8,-6.1v-1.8l-7.8,6.1zM102.8,195.9l7.8,-6.1v-3l-7.8,6.1zM106.7,195.9l7.8,-6.1v-1.6l-7.8,6.1zM110.7,195.9l7.8,-6.1v-2l-7.8,6.1zM114.7,195.9l7.8,-6.1v-1.6l-7.8,6.1zM118.7,195.9l7.8,-6.1v-1.6l-7.8,6.1zM122.7,195.9l7.8,-6.1v-1.8l-7.8,6.1zM126.7,195.9l7.8,-6.1v-3.7l-7.8,6.1zM130.7,195.9l7.8,-6.1v-1.8l-7.8,6.1zM134.7,195.9l7.8,-6.1v-1.5l-7.8,6.1zM138.7,195.9l7.8,-6.1v-1.5l-7.8,6.1zM142.6,195.9l7.8,-6.1v-2l-7.8,6.1zM146.6,195.9l7.8,-6.1v-1.5l-7.8,6.1zM150.6,195.9l7.8,-6.1v-1.7l-7.8,6.1zM154.6,195.9l7.8,-6.1v-1.6l-7.8,6.1zM158.6,195.9l7.8,-6.1v-2.1l-7.8,6.1zM162.6,195.9l7.8,-6.1v-2l-7.8,6.1zM166.6,195.9l7.8,-6.1v-2.1l-7.8,6.1zM170.6,195.9l7.8,-6.1v-2.1l-7.8,6.1zM174.6,195.9l7.8,-6.1v-1.6l-7.8,6.1zM178.6,195.9l7.8,-6.1v-2.1l-7.8,6.1zM182.6,195.9l7.8,-6.1v-2.7l-7.8,6.1zM186.5,195.9l7.8,-6.1v-1.6l-7.8,6.1zM190.5,195.9l7.8,-6.1v-1.7l-7.8,6.1zM194.5,195.9l7.8,-6.1v-1.6l-7.8,6.1zM198.5,195.9l7.8,-6.1v-2.1l-7.8,6.1zM202.5,195.9l7.8,-6.1v-1.7l-7.8,6.1zM206.5,195.9l7.8,-6.1v-1.7l-7.8,6.1zM210.5,195.9l7.8,-6.1v-2.5l-7.8,6.1zM214.5,195.9l7.8,-6.1v-2.1l-7.8,6.1zM218.5,195.9l7.8,-6.1v-2l-7.8,6.1zM222.4,195.9l7.8,-6.1v-2l-7.8,6.1zM226.4,195.9l7.8,-6.1v-1.8l-7.8,6.1zM230.4,195.9l7.8,-6.1v-1.7l-7.8,6.1zM234.4,195.9l7.8,-6.1v-1.8l-7.8,6.1zM238.4,195.9l7.8,-6.1v-2l-7.8,6.1zM242.4,195.9l7.8,-6.1v-2.1l-7.8,6.1zM246.4,195.9l7.8,-6.1v-1.7l-7.8,6.1zM250.4,195.9l7.8,-6.1v-1.7l-7.8,6.1zM254.4,195.9l7.8,-6.1v-1.8l-7.8,6.1zM258.4,195.9l7.8,-6.1v-2l-7.8,6.1zM262.4,195.9l7.8,-6.1v-1.6l-7.8,6.1zM266.3,195.9l7.8,-6.1v-1.5l-7.8,6.1zM270.3,195.9l7.8,-6.1v-1.7l-7.8,6.1zM274.3,195.9l7.8,-6.1v-2.1l-7.8,6.1zM278.3,195.9l7.8,-6.1v-1.9l-7.8,6.1zM282.3,195.9l7.8,-6.1v-1.5l-7.8,6.1zM286.3,195.9l7.8,-6.1v-2.5l-7.8,6.1zM290.3,195.9l7.8,-6.1v-1.8l-7.8,6.1zM294.3,195.9l7.8,-6.1v-2l-7.8,6.1zM298.3,195.9l7.8,-6.1v-1.6l-7.8,6.1zM302.2,195.9l7.8,-6.1v-1.5l-7.8,6.1zM306.2,195.9l7.8,-6.1v-2.7l-7.8,6.1zM310.2,195.9l7.8,-6.1v-1.7l-7.8,6.1zM314.2,195.9l7.8,-6.1v-1.9l-7.8,6.1zM318.2,195.9l7.8,-6.1v-1.6l-7.8,6.1zM322.2,195.9l7.8,-6.1v-1.8l-7.8,6.1zM326.2,195.9l7.8,-6.1v-2.1l-7.8,6.1z" fill="#4890a8"/><path d="M72.8,195.1h2.0l7.8,-6.1h-2.0zM76.8,195h2.0l7.8,-6.1h-2.0zM80.8,194.8h2.0l7.8,-6.1h-2.0zM84.8,194.9h2.0l7.8,-6.1h-2.0zM88.8,194.8h2.0l7.8,-6.1h-2.0zM92.8,194.7h2.0l7.8,-6.1h-2.0zM96.8,194.8h2.0l7.8,-6.1h-2.0zM100.8,193.6h2.0l7.8,-6.1h-2.0zM104.7,195h2.0l7.8,-6.1h-2.0zM108.7,194.6h2.0l7.8,-6.1h-2.0zM112.7,195h2.0l7.8,-6.1h-2.0zM116.7,195h2.0l7.8,-6.1h-2.0zM120.7,194.8h2.0l7.8,-6.1h-2.0zM124.7,192.9h2.0l7.8,-6.1h-2.0zM128.7,194.8h2.0l7.8,-6.1h-2.0zM132.7,195.1h2.0l7.8,-6.1h-2.0zM136.7,195.1h2.0l7.8,-6.1h-2.0zM140.6,194.6h2.0l7.8,-6.1h-2.0zM144.6,195.1h2.0l7.8,-6.1h-2.0zM148.6,194.9h2.0l7.8,-6.1h-2.0zM152.6,195h2.0l7.8,-6.1h-2.0zM156.6,194.5h2.0l7.8,-6.1h-2.0zM160.6,194.6h2.0l7.8,-6.1h-2.0zM164.6,194.5h2.0l7.8,-6.1h-2.0zM168.6,194.5h2.0l7.8,-6.1h-2.0zM172.6,195h2.0l7.8,-6.1h-2.0zM176.6,194.5h2.0l7.8,-6.1h-2.0zM180.6,193.9h2.0l7.8,-6.1h-2.0zM184.5,195h2.0l7.8,-6.1h-2.0zM188.5,194.9h2.0l7.8,-6.1h-2.0zM192.5,195h2.0l7.8,-6.1h-2.0zM196.5,194.5h2.0l7.8,-6.1h-2.0zM200.5,194.9h2.0l7.8,-6.1h-2.0zM204.5,194.9h2.0l7.8,-6.1h-2.0zM208.5,194.1h2.0l7.8,-6.1h-2.0zM212.5,194.5h2.0l7.8,-6.1h-2.0zM216.5,194.6h2.0l7.8,-6.1h-2.0zM220.4,194.6h2.0l7.8,-6.1h-2.0zM224.4,194.8h2.0l7.8,-6.1h-2.0zM228.4,194.9h2.0l7.8,-6.1h-2.0zM232.4,194.8h2.0l7.8,-6.1h-2.0zM236.4,194.6h2.0l7.8,-6.1h-2.0zM240.4,194.5h2.0l7.8,-6.1h-2.0zM244.4,194.9h2.0l7.8,-6.1h-2.0zM248.4,194.9h2.0l7.8,-6.1h-2.0zM252.4,194.8h2.0l7.8,-6.1h-2.0zM256.4,194.6h2.0l7.8,-6.1h-2.0zM260.4,195h2.0l7.8,-6.1h-2.0zM264.3,195.1h2.0l7.8,-6.1h-2.0zM268.3,194.9h2.0l7.8,-6.1h-2.0zM272.3,194.5h2.0l7.8,-6.1h-2.0zM276.3,194.7h2.0l7.8,-6.1h-2.0zM280.3,195.1h2.0l7.8,-6.1h-2.0zM284.3,194.1h2.0l7.8,-6.1h-2.0zM288.3,194.8h2.0l7.8,-6.1h-2.0zM292.3,194.6h2.0l7.8,-6.1h-2.0zM296.3,195h2.0l7.8,-6.1h-2.0zM300.2,195.1h2.0l7.8,-6.1h-2.0zM304.2,193.9h2.0l7.8,-6.1h-2.0zM308.2,194.9h2.0l7.8,-6.1h-2.0zM312.2,194.7h2.0l7.8,-6.1h-2.0zM316.2,195h2.0l7.8,-6.1h-2.0zM320.2,194.8h2.0l7.8,-6.1h-2.0zM324.2,194.5h2.0l7.8,-6.1h-2.0z" fill="#5ca6bc"/><path d="M328.2,188.4h2.8v7.5h-2.8z" fill="#a8dcf0"/><path d="M330.5,195.9l7.8,-6.1v-7.7l-7.8,6.1z" fill="#4890a8"/><path d="M328.2,188.9h2.3l7.8,-6.1h-2.3z" fill="#5ca6bc"/><path d="M332.2,194.5h2.5v1.4h-2.5zM336.2,194.2h2.5v1.7h-2.5zM340.2,194.1h2.5v1.8h-2.5zM344.1,194.4h2.5v1.5h-2.5zM348.1,193h2.5v2.9h-2.5zM352.1,194.4h2.5v1.5h-2.5zM356.1,194.3h2.5v1.6h-2.5zM360.1,194.2h2.5v1.7h-2.5zM364.1,194.1h2.5v1.8h-2.5zM368.1,193.2h2.5v2.7h-2.5zM372.1,194.5h2.5v1.4h-2.5zM376.1,192.9h2.5v3h-2.5zM380.1,193.1h2.5v2.8h-2.5zM384,194.5h2.5v1.4h-2.5zM388,194.2h2.5v1.7h-2.5zM392,194.2h2.5v1.7h-2.5zM396,194.5h2.5v1.4h-2.5zM400,194.4h2.5v1.5h-2.5zM404,192.7h2.5v3.2h-2.5zM408,194.2h2.5v1.7h-2.5zM412,192.8h2.5v3.1h-2.5zM416,194.3h2.5v1.6h-2.5zM419.9,194.3h2.5v1.6h-2.5zM423.9,194.5h2.5v1.4h-2.5zM427.9,194.6h2.5v1.3h-2.5zM431.9,194.2h2.5v1.7h-2.5zM435.9,194.1h2.5v1.8h-2.5zM439.9,194.4h2.5v1.5h-2.5zM443.9,194.3h2.5v1.6h-2.5zM447.9,194.3h2.5v1.6h-2.5zM451.9,194.2h2.5v1.7h-2.5zM455.9,194.5h2.5v1.4h-2.5z" fill="#a8dcf0"/><path d="M334.2,195.9l7.8,-6.1v-1.6l-7.8,6.1zM338.2,195.9l7.8,-6.1v-1.9l-7.8,6.1zM342.2,195.9l7.8,-6.1v-2l-7.8,6.1zM346.1,195.9l7.8,-6.1v-1.7l-7.8,6.1zM350.1,195.9l7.8,-6.1v-3.1l-7.8,6.1zM354.1,195.9l7.8,-6.1v-1.7l-7.8,6.1zM358.1,195.9l7.8,-6.1v-1.8l-7.8,6.1zM362.1,195.9l7.8,-6.1v-1.9l-7.8,6.1zM366.1,195.9l7.8,-6.1v-2l-7.8,6.1zM370.1,195.9l7.8,-6.1v-2.9l-7.8,6.1zM374.1,195.9l7.8,-6.1v-1.6l-7.8,6.1zM378.1,195.9l7.8,-6.1v-3.2l-7.8,6.1zM382.1,195.9l7.8,-6.1v-3l-7.8,6.1zM386,195.9l7.8,-6.1v-1.6l-7.8,6.1zM390,195.9l7.8,-6.1v-1.9l-7.8,6.1zM394,195.9l7.8,-6.1v-1.9l-7.8,6.1zM398,195.9l7.8,-6.1v-1.6l-7.8,6.1zM402,195.9l7.8,-6.1v-1.7l-7.8,6.1zM406,195.9l7.8,-6.1v-3.4l-7.8,6.1zM410,195.9l7.8,-6.1v-1.9l-7.8,6.1zM414,195.9l7.8,-6.1v-3.3l-7.8,6.1zM418,195.9l7.8,-6.1v-1.8l-7.8,6.1zM421.9,195.9l7.8,-6.1v-1.8l-7.8,6.1zM425.9,195.9l7.8,-6.1v-1.6l-7.8,6.1zM429.9,195.9l7.8,-6.1v-1.5l-7.8,6.1zM433.9,195.9l7.8,-6.1v-1.9l-7.8,6.1zM437.9,195.9l7.8,-6.1v-2l-7.8,6.1zM441.9,195.9l7.8,-6.1v-1.7l-7.8,6.1zM445.9,195.9l7.8,-6.1v-1.8l-7.8,6.1zM449.9,195.9l7.8,-6.1v-1.8l-7.8,6.1zM453.9,195.9l7.8,-6.1v-1.9l-7.8,6.1zM457.9,195.9l7.8,-6.1v-1.6l-7.8,6.1z" fill="#4890a8"/><path d="M332.2,195h2.0l7.8,-6.1h-2.0zM336.2,194.7h2.0l7.8,-6.1h-2.0zM340.2,194.6h2.0l7.8,-6.1h-2.0zM344.1,194.9h2.0l7.8,-6.1h-2.0zM348.1,193.5h2.0l7.8,-6.1h-2.0zM352.1,194.9h2.0l7.8,-6.1h-2.0zM356.1,194.8h2.0l7.8,-6.1h-2.0zM360.1,194.7h2.0l7.8,-6.1h-2.0zM364.1,194.6h2.0l7.8,-6.1h-2.0zM368.1,193.7h2.0l7.8,-6.1h-2.0zM372.1,195h2.0l7.8,-6.1h-2.0zM376.1,193.4h2.0l7.8,-6.1h-2.0zM380.1,193.6h2.0l7.8,-6.1h-2.0zM384,195h2.0l7.8,-6.1h-2.0zM388,194.7h2.0l7.8,-6.1h-2.0zM392,194.7h2.0l7.8,-6.1h-2.0zM396,195h2.0l7.8,-6.1h-2.0zM400,194.9h2.0l7.8,-6.1h-2.0zM404,193.2h2.0l7.8,-6.1h-2.0zM408,194.7h2.0l7.8,-6.1h-2.0zM412,193.3h2.0l7.8,-6.1h-2.0zM416,194.8h2.0l7.8,-6.1h-2.0zM419.9,194.8h2.0l7.8,-6.1h-2.0zM423.9,195h2.0l7.8,-6.1h-2.0zM427.9,195.1h2.0l7.8,-6.1h-2.0zM431.9,194.7h2.0l7.8,-6.1h-2.0zM435.9,194.6h2.0l7.8,-6.1h-2.0zM439.9,194.9h2.0l7.8,-6.1h-2.0zM443.9,194.8h2.0l7.8,-6.1h-2.0zM447.9,194.8h2.0l7.8,-6.1h-2.0zM451.9,194.7h2.0l7.8,-6.1h-2.0zM455.9,195h2.0l7.8,-6.1h-2.0z" fill="#5ca6bc"/><path d="M459.9,86.4h2.8v109.5h-2.8z" fill="#a8dcf0"/><path d="M462.2,195.9l7.8,-6.1v-109.7l-7.8,6.1z" fill="#4890a8"/><path d="M459.9,86.9h2.3l7.8,-6.1h-2.3z" fill="#5ca6bc"/><path d="M463.8,194.6h2.5v1.3h-2.5zM467.8,194.5h2.5v1.4h-2.5zM471.8,194h2.5v1.9h-2.5zM475.8,194.4h2.5v1.5h-2.5zM479.8,194.4h2.5v1.5h-2.5zM483.8,194.1h2.5v1.8h-2.5zM487.8,194.2h2.5v1.7h-2.5zM491.8,194h2.5v1.9h-2.5zM495.8,194.1h2.5v1.8h-2.5zM499.8,194.1h2.5v1.8h-2.5zM503.7,194.2h2.5v1.7h-2.5zM507.7,194.4h2.5v1.5h-2.5zM511.7,194.2h2.5v1.7h-2.5zM515.7,192.7h2.5v3.2h-2.5zM519.7,194.6h2.5v1.3h-2.5zM523.7,194h2.5v1.9h-2.5zM527.7,194.5h2.5v1.4h-2.5zM531.7,193.8h2.5v2.1h-2.5zM535.7,194.2h2.5v1.7h-2.5zM539.7,194.2h2.5v1.7h-2.5zM543.6,193.1h2.5v2.8h-2.5zM547.6,194.1h2.5v1.8h-2.5zM551.6,194.1h2.5v1.8h-2.5zM555.6,192.8h2.5v3.1h-2.5zM559.6,194h2.5v1.9h-2.5zM563.6,194.5h2.5v1.4h-2.5zM567.6,194.6h2.5v1.3h-2.5zM571.6,194.1h2.5v1.8h-2.5z" fill="#a8dcf0"/><path d="M465.8,195.9l7.8,-6.1v-1.5l-7.8,6.1zM469.8,195.9l7.8,-6.1v-1.6l-7.8,6.1zM473.8,195.9l7.8,-6.1v-2.1l-7.8,6.1zM477.8,195.9l7.8,-6.1v-1.7l-7.8,6.1zM481.8,195.9l7.8,-6.1v-1.7l-7.8,6.1zM485.8,195.9l7.8,-6.1v-2l-7.8,6.1zM489.8,195.9l7.8,-6.1v-1.9l-7.8,6.1zM493.8,195.9l7.8,-6.1v-2.1l-7.8,6.1zM497.8,195.9l7.8,-6.1v-2l-7.8,6.1zM501.8,195.9l7.8,-6.1v-2l-7.8,6.1zM505.7,195.9l7.8,-6.1v-1.9l-7.8,6.1zM509.7,195.9l7.8,-6.1v-1.7l-7.8,6.1zM513.7,195.9l7.8,-6.1v-1.9l-7.8,6.1zM517.7,195.9l7.8,-6.1v-3.4l-7.8,6.1zM521.7,195.9l7.8,-6.1v-1.5l-7.8,6.1zM525.7,195.9l7.8,-6.1v-2.1l-7.8,6.1zM529.7,195.9l7.8,-6.1v-1.6l-7.8,6.1zM533.7,195.9l7.8,-6.1v-2.3l-7.8,6.1zM537.7,195.9l7.8,-6.1v-1.9l-7.8,6.1zM541.7,195.9l7.8,-6.1v-1.9l-7.8,6.1zM545.6,195.9l7.8,-6.1v-3l-7.8,6.1zM549.6,195.9l7.8,-6.1v-2l-7.8,6.1zM553.6,195.9l7.8,-6.1v-2l-7.8,6.1zM557.6,195.9l7.8,-6.1v-3.3l-7.8,6.1zM561.6,195.9l7.8,-6.1v-2.1l-7.8,6.1zM565.6,195.9l7.8,-6.1v-1.6l-7.8,6.1zM569.6,195.9l7.8,-6.1v-1.5l-7.8,6.1zM573.6,195.9l7.8,-6.1v-2l-7.8,6.1z" fill="#4890a8"/><path d="M463.8,195.1h2.0l7.8,-6.1h-2.0zM467.8,195h2.0l7.8,-6.1h-2.0zM471.8,194.5h2.0l7.8,-6.1h-2.0zM475.8,194.9h2.0l7.8,-6.1h-2.0zM479.8,194.9h2.0l7.8,-6.1h-2.0zM483.8,194.6h2.0l7.8,-6.1h-2.0zM487.8,194.7h2.0l7.8,-6.1h-2.0zM491.8,194.5h2.0l7.8,-6.1h-2.0zM495.8,194.6h2.0l7.8,-6.1h-2.0zM499.8,194.6h2.0l7.8,-6.1h-2.0zM503.7,194.7h2.0l7.8,-6.1h-2.0zM507.7,194.9h2.0l7.8,-6.1h-2.0zM511.7,194.7h2.0l7.8,-6.1h-2.0zM515.7,193.2h2.0l7.8,-6.1h-2.0zM519.7,195.1h2.0l7.8,-6.1h-2.0zM523.7,194.5h2.0l7.8,-6.1h-2.0zM527.7,195h2.0l7.8,-6.1h-2.0zM531.7,194.3h2.0l7.8,-6.1h-2.0zM535.7,194.7h2.0l7.8,-6.1h-2.0zM539.7,194.7h2.0l7.8,-6.1h-2.0zM543.6,193.6h2.0l7.8,-6.1h-2.0zM547.6,194.6h2.0l7.8,-6.1h-2.0zM551.6,194.6h2.0l7.8,-6.1h-2.0zM555.6,193.3h2.0l7.8,-6.1h-2.0zM559.6,194.5h2.0l7.8,-6.1h-2.0zM563.6,195h2.0l7.8,-6.1h-2.0zM567.6,195.1h2.0l7.8,-6.1h-2.0zM571.6,194.6h2.0l7.8,-6.1h-2.0z" fill="#5ca6bc"/></g><g><path d="M57.2,206.1h2.5v1.8h-2.5zM61.2,206.4h2.5v1.5h-2.5zM65.2,206.5h2.5v1.4h-2.5zM69.2,206.5h2.5v1.4h-2.5zM73.2,206.3h2.5v1.6h-2.5zM77.2,205.5h2.5v2.4h-2.5zM81.2,206.2h2.5v1.7h-2.5zM85.2,206.4h2.5v1.5h-2.5zM89.2,206.3h2.5v1.6h-2.5zM93.2,206.2h2.5v1.7h-2.5zM97.1,205.3h2.5v2.6h-2.5zM101.1,206.1h2.5v1.8h-2.5zM105.1,206.2h2.5v1.7h-2.5zM109.1,206.5h2.5v1.4h-2.5zM113.1,206.5h2.5v1.4h-2.5zM117.1,204.4h2.5v3.5h-2.5zM121.1,206.5h2.5v1.4h-2.5zM125.1,205.6h2.5v2.3h-2.5zM129.1,206h2.5v1.9h-2.5zM133.1,205.2h2.5v2.7h-2.5zM137,206.1h2.5v1.8h-2.5zM141,206.3h2.5v1.6h-2.5zM145,206.1h2.5v1.8h-2.5zM149,206h2.5v1.9h-2.5zM153,206.5h2.5v1.4h-2.5zM157,206.3h2.5v1.6h-2.5zM161,206.2h2.5v1.7h-2.5zM165,206.1h2.5v1.8h-2.5zM169,206.1h2.5v1.8h-2.5zM173,206.4h2.5v1.5h-2.5zM176.9,206.4h2.5v1.5h-2.5zM180.9,206.5h2.5v1.4h-2.5zM184.9,206.6h2.5v1.3h-2.5zM188.9,206.4h2.5v1.5h-2.5zM192.9,206.3h2.5v1.6h-2.5zM196.9,206.1h2.5v1.8h-2.5zM200.9,206.3h2.5v1.6h-2.5zM204.9,206.1h2.5v1.8h-2.5zM208.9,206.2h2.5v1.7h-2.5zM212.9,204.4h2.5v3.5h-2.5zM216.8,206.4h2.5v1.5h-2.5zM220.8,206.1h2.5v1.8h-2.5zM224.8,206.2h2.5v1.7h-2.5zM228.8,206.3h2.5v1.6h-2.5zM232.8,206.3h2.5v1.6h-2.5zM236.8,206.3h2.5v1.6h-2.5zM240.8,206.5h2.5v1.4h-2.5zM244.8,206.4h2.5v1.5h-2.5zM248.8,206.1h2.5v1.8h-2.5zM252.8,206.5h2.5v1.4h-2.5zM256.7,206.4h2.5v1.5h-2.5zM260.7,206.5h2.5v1.4h-2.5zM264.7,206.5h2.5v1.4h-2.5zM268.7,206.2h2.5v1.7h-2.5zM272.7,206h2.5v1.9h-2.5zM276.7,206.4h2.5v1.5h-2.5zM280.7,206.1h2.5v1.8h-2.5zM284.7,206.3h2.5v1.6h-2.5zM288.7,206.2h2.5v1.7h-2.5zM292.7,206.5h2.5v1.4h-2.5zM296.6,206.6h2.5v1.3h-2.5zM300.6,206.1h2.5v1.8h-2.5zM304.6,206.3h2.5v1.6h-2.5zM308.6,206.3h2.5v1.6h-2.5zM312.6,206.2h2.5v1.7h-2.5zM316.6,206.2h2.5v1.7h-2.5zM320.6,206.3h2.5v1.6h-2.5zM324.6,206.2h2.5v1.7h-2.5z" fill="#b4ecd4"/><path d="M59.2,207.9l7.8,-6.1v-2l-7.8,6.1zM63.2,207.9l7.8,-6.1v-1.7l-7.8,6.1zM67.2,207.9l7.8,-6.1v-1.6l-7.8,6.1zM71.2,207.9l7.8,-6.1v-1.6l-7.8,6.1zM75.2,207.9l7.8,-6.1v-1.8l-7.8,6.1zM79.2,207.9l7.8,-6.1v-2.6l-7.8,6.1zM83.2,207.9l7.8,-6.1v-1.9l-7.8,6.1zM87.2,207.9l7.8,-6.1v-1.7l-7.8,6.1zM91.2,207.9l7.8,-6.1v-1.8l-7.8,6.1zM95.2,207.9l7.8,-6.1v-1.9l-7.8,6.1zM99.1,207.9l7.8,-6.1v-2.8l-7.8,6.1zM103.1,207.9l7.8,-6.1v-2l-7.8,6.1zM107.1,207.9l7.8,-6.1v-1.9l-7.8,6.1zM111.1,207.9l7.8,-6.1v-1.6l-7.8,6.1zM115.1,207.9l7.8,-6.1v-1.6l-7.8,6.1zM119.1,207.9l7.8,-6.1v-3.7l-7.8,6.1zM123.1,207.9l7.8,-6.1v-1.6l-7.8,6.1zM127.1,207.9l7.8,-6.1v-2.5l-7.8,6.1zM131.1,207.9l7.8,-6.1v-2.1l-7.8,6.1zM135.1,207.9l7.8,-6.1v-2.9l-7.8,6.1zM139,207.9l7.8,-6.1v-2l-7.8,6.1zM143,207.9l7.8,-6.1v-1.8l-7.8,6.1zM147,207.9l7.8,-6.1v-2l-7.8,6.1zM151,207.9l7.8,-6.1v-2.1l-7.8,6.1zM155,207.9l7.8,-6.1v-1.6l-7.8,6.1zM159,207.9l7.8,-6.1v-1.8l-7.8,6.1zM163,207.9l7.8,-6.1v-1.9l-7.8,6.1zM167,207.9l7.8,-6.1v-2l-7.8,6.1zM171,207.9l7.8,-6.1v-2l-7.8,6.1zM175,207.9l7.8,-6.1v-1.7l-7.8,6.1zM178.9,207.9l7.8,-6.1v-1.7l-7.8,6.1zM182.9,207.9l7.8,-6.1v-1.6l-7.8,6.1zM186.9,207.9l7.8,-6.1v-1.5l-7.8,6.1zM190.9,207.9l7.8,-6.1v-1.7l-7.8,6.1zM194.9,207.9l7.8,-6.1v-1.8l-7.8,6.1zM198.9,207.9l7.8,-6.1v-2l-7.8,6.1zM202.9,207.9l7.8,-6.1v-1.8l-7.8,6.1zM206.9,207.9l7.8,-6.1v-2l-7.8,6.1zM210.9,207.9l7.8,-6.1v-1.9l-7.8,6.1zM214.9,207.9l7.8,-6.1v-3.7l-7.8,6.1zM218.8,207.9l7.8,-6.1v-1.7l-7.8,6.1zM222.8,207.9l7.8,-6.1v-2l-7.8,6.1zM226.8,207.9l7.8,-6.1v-1.9l-7.8,6.1zM230.8,207.9l7.8,-6.1v-1.8l-7.8,6.1zM234.8,207.9l7.8,-6.1v-1.8l-7.8,6.1zM238.8,207.9l7.8,-6.1v-1.8l-7.8,6.1zM242.8,207.9l7.8,-6.1v-1.6l-7.8,6.1zM246.8,207.9l7.8,-6.1v-1.7l-7.8,6.1zM250.8,207.9l7.8,-6.1v-2l-7.8,6.1zM254.8,207.9l7.8,-6.1v-1.6l-7.8,6.1zM258.7,207.9l7.8,-6.1v-1.7l-7.8,6.1zM262.7,207.9l7.8,-6.1v-1.6l-7.8,6.1zM266.7,207.9l7.8,-6.1v-1.6l-7.8,6.1zM270.7,207.9l7.8,-6.1v-1.9l-7.8,6.1zM274.7,207.9l7.8,-6.1v-2.1l-7.8,6.1zM278.7,207.9l7.8,-6.1v-1.7l-7.8,6.1zM282.7,207.9l7.8,-6.1v-2l-7.8,6.1zM286.7,207.9l7.8,-6.1v-1.8l-7.8,6.1zM290.7,207.9l7.8,-6.1v-1.9l-7.8,6.1zM294.7,207.9l7.8,-6.1v-1.6l-7.8,6.1zM298.6,207.9l7.8,-6.1v-1.5l-7.8,6.1zM302.6,207.9l7.8,-6.1v-2l-7.8,6.1zM306.6,207.9l7.8,-6.1v-1.8l-7.8,6.1zM310.6,207.9l7.8,-6.1v-1.8l-7.8,6.1zM314.6,207.9l7.8,-6.1v-1.9l-7.8,6.1zM318.6,207.9l7.8,-6.1v-1.9l-7.8,6.1zM322.6,207.9l7.8,-6.1v-1.8l-7.8,6.1zM326.6,207.9l7.8,-6.1v-1.9l-7.8,6.1z" fill="#58b48e"/><path d="M57.2,206.6h2.0l7.8,-6.1h-2.0zM61.2,206.9h2.0l7.8,-6.1h-2.0zM65.2,207h2.0l7.8,-6.1h-2.0zM69.2,207h2.0l7.8,-6.1h-2.0zM73.2,206.8h2.0l7.8,-6.1h-2.0zM77.2,206h2.0l7.8,-6.1h-2.0zM81.2,206.7h2.0l7.8,-6.1h-2.0zM85.2,206.9h2.0l7.8,-6.1h-2.0zM89.2,206.8h2.0l7.8,-6.1h-2.0zM93.2,206.7h2.0l7.8,-6.1h-2.0zM97.1,205.8h2.0l7.8,-6.1h-2.0zM101.1,206.6h2.0l7.8,-6.1h-2.0zM105.1,206.7h2.0l7.8,-6.1h-2.0zM109.1,207h2.0l7.8,-6.1h-2.0zM113.1,207h2.0l7.8,-6.1h-2.0zM117.1,204.9h2.0l7.8,-6.1h-2.0zM121.1,207h2.0l7.8,-6.1h-2.0zM125.1,206.1h2.0l7.8,-6.1h-2.0zM129.1,206.5h2.0l7.8,-6.1h-2.0zM133.1,205.7h2.0l7.8,-6.1h-2.0zM137,206.6h2.0l7.8,-6.1h-2.0zM141,206.8h2.0l7.8,-6.1h-2.0zM145,206.6h2.0l7.8,-6.1h-2.0zM149,206.5h2.0l7.8,-6.1h-2.0zM153,207h2.0l7.8,-6.1h-2.0zM157,206.8h2.0l7.8,-6.1h-2.0zM161,206.7h2.0l7.8,-6.1h-2.0zM165,206.6h2.0l7.8,-6.1h-2.0zM169,206.6h2.0l7.8,-6.1h-2.0zM173,206.9h2.0l7.8,-6.1h-2.0zM176.9,206.9h2.0l7.8,-6.1h-2.0zM180.9,207h2.0l7.8,-6.1h-2.0zM184.9,207.1h2.0l7.8,-6.1h-2.0zM188.9,206.9h2.0l7.8,-6.1h-2.0zM192.9,206.8h2.0l7.8,-6.1h-2.0zM196.9,206.6h2.0l7.8,-6.1h-2.0zM200.9,206.8h2.0l7.8,-6.1h-2.0zM204.9,206.6h2.0l7.8,-6.1h-2.0zM208.9,206.7h2.0l7.8,-6.1h-2.0zM212.9,204.9h2.0l7.8,-6.1h-2.0zM216.8,206.9h2.0l7.8,-6.1h-2.0zM220.8,206.6h2.0l7.8,-6.1h-2.0zM224.8,206.7h2.0l7.8,-6.1h-2.0zM228.8,206.8h2.0l7.8,-6.1h-2.0zM232.8,206.8h2.0l7.8,-6.1h-2.0zM236.8,206.8h2.0l7.8,-6.1h-2.0zM240.8,207h2.0l7.8,-6.1h-2.0zM244.8,206.9h2.0l7.8,-6.1h-2.0zM248.8,206.6h2.0l7.8,-6.1h-2.0zM252.8,207h2.0l7.8,-6.1h-2.0zM256.7,206.9h2.0l7.8,-6.1h-2.0zM260.7,207h2.0l7.8,-6.1h-2.0zM264.7,207h2.0l7.8,-6.1h-2.0zM268.7,206.7h2.0l7.8,-6.1h-2.0zM272.7,206.5h2.0l7.8,-6.1h-2.0zM276.7,206.9h2.0l7.8,-6.1h-2.0zM280.7,206.6h2.0l7.8,-6.1h-2.0zM284.7,206.8h2.0l7.8,-6.1h-2.0zM288.7,206.7h2.0l7.8,-6.1h-2.0zM292.7,207h2.0l7.8,-6.1h-2.0zM296.6,207.1h2.0l7.8,-6.1h-2.0zM300.6,206.6h2.0l7.8,-6.1h-2.0zM304.6,206.8h2.0l7.8,-6.1h-2.0zM308.6,206.8h2.0l7.8,-6.1h-2.0zM312.6,206.7h2.0l7.8,-6.1h-2.0zM316.6,206.7h2.0l7.8,-6.1h-2.0zM320.6,206.8h2.0l7.8,-6.1h-2.0zM324.6,206.7h2.0l7.8,-6.1h-2.0z" fill="#76c8a4"/><path d="M328.6,203.4h2.8v4.5h-2.8z" fill="#b4ecd4"/><path d="M330.9,207.9l7.8,-6.1v-4.7l-7.8,6.1z" fill="#58b48e"/><path d="M328.6,203.9h2.3l7.8,-6.1h-2.3z" fill="#76c8a4"/><path d="M332.6,206.5h2.5v1.4h-2.5zM336.5,206.1h2.5v1.8h-2.5zM340.5,206.2h2.5v1.7h-2.5zM344.5,206.2h2.5v1.7h-2.5zM348.5,206.3h2.5v1.6h-2.5zM352.5,206.2h2.5v1.7h-2.5zM356.5,206.3h2.5v1.6h-2.5zM360.5,206.2h2.5v1.7h-2.5zM364.5,206.4h2.5v1.5h-2.5zM368.5,206.3h2.5v1.6h-2.5zM372.5,206.4h2.5v1.5h-2.5zM376.4,206h2.5v1.9h-2.5zM380.4,206.2h2.5v1.7h-2.5zM384.4,206.4h2.5v1.5h-2.5zM388.4,206h2.5v1.9h-2.5zM392.4,205.1h2.5v2.8h-2.5zM396.4,206.1h2.5v1.8h-2.5zM400.4,206.3h2.5v1.6h-2.5zM404.4,206.3h2.5v1.6h-2.5zM408.4,206.2h2.5v1.7h-2.5zM412.4,206.2h2.5v1.7h-2.5zM416.3,206.3h2.5v1.6h-2.5zM420.3,206h2.5v1.9h-2.5zM424.3,206.2h2.5v1.7h-2.5zM428.3,206.1h2.5v1.8h-2.5zM432.3,206h2.5v1.9h-2.5zM436.3,206.6h2.5v1.3h-2.5zM440.3,206.4h2.5v1.5h-2.5z" fill="#b4ecd4"/><path d="M334.6,207.9l7.8,-6.1v-1.6l-7.8,6.1zM338.5,207.9l7.8,-6.1v-2l-7.8,6.1zM342.5,207.9l7.8,-6.1v-1.9l-7.8,6.1zM346.5,207.9l7.8,-6.1v-1.9l-7.8,6.1zM350.5,207.9l7.8,-6.1v-1.8l-7.8,6.1zM354.5,207.9l7.8,-6.1v-1.9l-7.8,6.1zM358.5,207.9l7.8,-6.1v-1.8l-7.8,6.1zM362.5,207.9l7.8,-6.1v-1.9l-7.8,6.1zM366.5,207.9l7.8,-6.1v-1.7l-7.8,6.1zM370.5,207.9l7.8,-6.1v-1.8l-7.8,6.1zM374.5,207.9l7.8,-6.1v-1.7l-7.8,6.1zM378.4,207.9l7.8,-6.1v-2.1l-7.8,6.1zM382.4,207.9l7.8,-6.1v-1.9l-7.8,6.1zM386.4,207.9l7.8,-6.1v-1.7l-7.8,6.1zM390.4,207.9l7.8,-6.1v-2.1l-7.8,6.1zM394.4,207.9l7.8,-6.1v-3l-7.8,6.1zM398.4,207.9l7.8,-6.1v-2l-7.8,6.1zM402.4,207.9l7.8,-6.1v-1.8l-7.8,6.1zM406.4,207.9l7.8,-6.1v-1.8l-7.8,6.1zM410.4,207.9l7.8,-6.1v-1.9l-7.8,6.1zM414.4,207.9l7.8,-6.1v-1.9l-7.8,6.1zM418.3,207.9l7.8,-6.1v-1.8l-7.8,6.1zM422.3,207.9l7.8,-6.1v-2.1l-7.8,6.1zM426.3,207.9l7.8,-6.1v-1.9l-7.8,6.1zM430.3,207.9l7.8,-6.1v-2l-7.8,6.1zM434.3,207.9l7.8,-6.1v-2.1l-7.8,6.1zM438.3,207.9l7.8,-6.1v-1.5l-7.8,6.1zM442.3,207.9l7.8,-6.1v-1.7l-7.8,6.1z" fill="#58b48e"/><path d="M332.6,207h2.0l7.8,-6.1h-2.0zM336.5,206.6h2.0l7.8,-6.1h-2.0zM340.5,206.7h2.0l7.8,-6.1h-2.0zM344.5,206.7h2.0l7.8,-6.1h-2.0zM348.5,206.8h2.0l7.8,-6.1h-2.0zM352.5,206.7h2.0l7.8,-6.1h-2.0zM356.5,206.8h2.0l7.8,-6.1h-2.0zM360.5,206.7h2.0l7.8,-6.1h-2.0zM364.5,206.9h2.0l7.8,-6.1h-2.0zM368.5,206.8h2.0l7.8,-6.1h-2.0zM372.5,206.9h2.0l7.8,-6.1h-2.0zM376.4,206.5h2.0l7.8,-6.1h-2.0zM380.4,206.7h2.0l7.8,-6.1h-2.0zM384.4,206.9h2.0l7.8,-6.1h-2.0zM388.4,206.5h2.0l7.8,-6.1h-2.0zM392.4,205.6h2.0l7.8,-6.1h-2.0zM396.4,206.6h2.0l7.8,-6.1h-2.0zM400.4,206.8h2.0l7.8,-6.1h-2.0zM404.4,206.8h2.0l7.8,-6.1h-2.0zM408.4,206.7h2.0l7.8,-6.1h-2.0zM412.4,206.7h2.0l7.8,-6.1h-2.0zM416.3,206.8h2.0l7.8,-6.1h-2.0zM420.3,206.5h2.0l7.8,-6.1h-2.0zM424.3,206.7h2.0l7.8,-6.1h-2.0zM428.3,206.6h2.0l7.8,-6.1h-2.0zM432.3,206.5h2.0l7.8,-6.1h-2.0zM436.3,207.1h2.0l7.8,-6.1h-2.0zM440.3,206.9h2.0l7.8,-6.1h-2.0z" fill="#76c8a4"/><path d="M444.3,198.4h2.8v9.5h-2.8z" fill="#b4ecd4"/><path d="M446.6,207.9l7.8,-6.1v-9.7l-7.8,6.1z" fill="#58b48e"/><path d="M444.3,198.9h2.3l7.8,-6.1h-2.3z" fill="#76c8a4"/><path d="M448.3,205.3h2.5v2.6h-2.5zM452.3,206.2h2.5v1.7h-2.5zM456.2,206.4h2.5v1.5h-2.5zM460.2,206.2h2.5v1.7h-2.5zM464.2,206.3h2.5v1.6h-2.5zM468.2,206.1h2.5v1.8h-2.5zM472.2,206.5h2.5v1.4h-2.5zM476.2,206.1h2.5v1.8h-2.5zM480.2,206.2h2.5v1.7h-2.5zM484.2,206.3h2.5v1.6h-2.5zM488.2,206h2.5v1.9h-2.5zM492.2,206.2h2.5v1.7h-2.5zM496.1,206.1h2.5v1.8h-2.5zM500.1,206.4h2.5v1.5h-2.5zM504.1,206.5h2.5v1.4h-2.5zM508.1,206.4h2.5v1.5h-2.5zM512.1,206.4h2.5v1.5h-2.5zM516.1,206.4h2.5v1.5h-2.5zM520.1,206.5h2.5v1.4h-2.5zM524.1,204.9h2.5v3h-2.5zM528.1,206.5h2.5v1.4h-2.5zM532,206.3h2.5v1.6h-2.5zM536,206.2h2.5v1.7h-2.5zM540,206.4h2.5v1.5h-2.5zM544,206.1h2.5v1.8h-2.5zM548,204.8h2.5v3.1h-2.5zM552,206.1h2.5v1.8h-2.5zM556,206.1h2.5v1.8h-2.5z" fill="#b4ecd4"/><path d="M450.3,207.9l7.8,-6.1v-2.8l-7.8,6.1zM454.3,207.9l7.8,-6.1v-1.9l-7.8,6.1zM458.2,207.9l7.8,-6.1v-1.7l-7.8,6.1zM462.2,207.9l7.8,-6.1v-1.9l-7.8,6.1zM466.2,207.9l7.8,-6.1v-1.8l-7.8,6.1zM470.2,207.9l7.8,-6.1v-2l-7.8,6.1zM474.2,207.9l7.8,-6.1v-1.6l-7.8,6.1zM478.2,207.9l7.8,-6.1v-2l-7.8,6.1zM482.2,207.9l7.8,-6.1v-1.9l-7.8,6.1zM486.2,207.9l7.8,-6.1v-1.8l-7.8,6.1zM490.2,207.9l7.8,-6.1v-2.1l-7.8,6.1zM494.2,207.9l7.8,-6.1v-1.9l-7.8,6.1zM498.1,207.9l7.8,-6.1v-2l-7.8,6.1zM502.1,207.9l7.8,-6.1v-1.7l-7.8,6.1zM506.1,207.9l7.8,-6.1v-1.6l-7.8,6.1zM510.1,207.9l7.8,-6.1v-1.7l-7.8,6.1zM514.1,207.9l7.8,-6.1v-1.7l-7.8,6.1zM518.1,207.9l7.8,-6.1v-1.7l-7.8,6.1zM522.1,207.9l7.8,-6.1v-1.6l-7.8,6.1zM526.1,207.9l7.8,-6.1v-3.2l-7.8,6.1zM530.1,207.9l7.8,-6.1v-1.6l-7.8,6.1zM534,207.9l7.8,-6.1v-1.8l-7.8,6.1zM538,207.9l7.8,-6.1v-1.9l-7.8,6.1zM542,207.9l7.8,-6.1v-1.7l-7.8,6.1zM546,207.9l7.8,-6.1v-2l-7.8,6.1zM550,207.9l7.8,-6.1v-3.3l-7.8,6.1zM554,207.9l7.8,-6.1v-2l-7.8,6.1zM558,207.9l7.8,-6.1v-2l-7.8,6.1z" fill="#58b48e"/><path d="M448.3,205.8h2.0l7.8,-6.1h-2.0zM452.3,206.7h2.0l7.8,-6.1h-2.0zM456.2,206.9h2.0l7.8,-6.1h-2.0zM460.2,206.7h2.0l7.8,-6.1h-2.0zM464.2,206.8h2.0l7.8,-6.1h-2.0zM468.2,206.6h2.0l7.8,-6.1h-2.0zM472.2,207h2.0l7.8,-6.1h-2.0zM476.2,206.6h2.0l7.8,-6.1h-2.0zM480.2,206.7h2.0l7.8,-6.1h-2.0zM484.2,206.8h2.0l7.8,-6.1h-2.0zM488.2,206.5h2.0l7.8,-6.1h-2.0zM492.2,206.7h2.0l7.8,-6.1h-2.0zM496.1,206.6h2.0l7.8,-6.1h-2.0zM500.1,206.9h2.0l7.8,-6.1h-2.0zM504.1,207h2.0l7.8,-6.1h-2.0zM508.1,206.9h2.0l7.8,-6.1h-2.0zM512.1,206.9h2.0l7.8,-6.1h-2.0zM516.1,206.9h2.0l7.8,-6.1h-2.0zM520.1,207h2.0l7.8,-6.1h-2.0zM524.1,205.4h2.0l7.8,-6.1h-2.0zM528.1,207h2.0l7.8,-6.1h-2.0zM532,206.8h2.0l7.8,-6.1h-2.0zM536,206.7h2.0l7.8,-6.1h-2.0zM540,206.9h2.0l7.8,-6.1h-2.0zM544,206.6h2.0l7.8,-6.1h-2.0zM548,205.3h2.0l7.8,-6.1h-2.0zM552,206.6h2.0l7.8,-6.1h-2.0zM556,206.6h2.0l7.8,-6.1h-2.0z" fill="#76c8a4"/></g><g><path d="M41.7,218.6h2.5v1.3h-2.5zM45.6,216.7h2.5v3.2h-2.5zM49.6,218.4h2.5v1.5h-2.5zM53.6,218.5h2.5v1.4h-2.5zM57.6,218.1h2.5v1.8h-2.5zM61.6,218.5h2.5v1.4h-2.5zM65.6,218.1h2.5v1.8h-2.5zM69.6,218.1h2.5v1.8h-2.5zM73.6,218.1h2.5v1.8h-2.5zM77.6,218.1h2.5v1.8h-2.5zM81.6,218.1h2.5v1.8h-2.5zM85.5,218.2h2.5v1.7h-2.5zM89.5,218.2h2.5v1.7h-2.5zM93.5,218.1h2.5v1.8h-2.5zM97.5,218.4h2.5v1.5h-2.5zM101.5,218.5h2.5v1.4h-2.5zM105.5,218.6h2.5v1.3h-2.5zM109.5,218.5h2.5v1.4h-2.5zM113.5,218.3h2.5v1.6h-2.5zM117.5,218.1h2.5v1.8h-2.5zM121.5,216.8h2.5v3.1h-2.5zM125.5,218.3h2.5v1.6h-2.5zM129.4,218.1h2.5v1.8h-2.5zM133.4,218.3h2.5v1.6h-2.5zM137.4,218.6h2.5v1.3h-2.5zM141.4,218.2h2.5v1.7h-2.5zM145.4,217.1h2.5v2.8h-2.5zM149.4,218h2.5v1.9h-2.5zM153.4,218h2.5v1.9h-2.5zM157.4,218.3h2.5v1.6h-2.5zM161.4,218.6h2.5v1.3h-2.5zM165.4,218.2h2.5v1.7h-2.5zM169.3,218.1h2.5v1.8h-2.5zM173.3,218.3h2.5v1.6h-2.5zM177.3,218.1h2.5v1.8h-2.5zM181.3,218.3h2.5v1.6h-2.5zM185.3,218.3h2.5v1.6h-2.5zM189.3,218.4h2.5v1.5h-2.5zM193.3,218.4h2.5v1.5h-2.5zM197.3,218.4h2.5v1.5h-2.5zM201.3,218h2.5v1.9h-2.5zM205.2,218.1h2.5v1.8h-2.5zM209.2,218.4h2.5v1.5h-2.5zM213.2,218.2h2.5v1.7h-2.5zM217.2,218.1h2.5v1.8h-2.5zM221.2,216.9h2.5v3h-2.5zM225.2,218.3h2.5v1.6h-2.5zM229.2,217.4h2.5v2.5h-2.5zM233.2,217.6h2.5v2.3h-2.5zM237.2,218.2h2.5v1.7h-2.5zM241.2,218.1h2.5v1.8h-2.5zM245.2,218.2h2.5v1.7h-2.5zM249.1,218.2h2.5v1.7h-2.5zM253.1,218.2h2.5v1.7h-2.5zM257.1,218.5h2.5v1.4h-2.5zM261.1,218.3h2.5v1.6h-2.5zM265.1,218.5h2.5v1.4h-2.5zM269.1,218.6h2.5v1.3h-2.5zM273.1,218.1h2.5v1.8h-2.5zM277.1,218.4h2.5v1.5h-2.5zM281.1,218.1h2.5v1.8h-2.5zM285.1,218.4h2.5v1.5h-2.5zM289,218.3h2.5v1.6h-2.5zM293,218.3h2.5v1.6h-2.5zM297,218h2.5v1.9h-2.5zM301,217.1h2.5v2.8h-2.5zM305,217.7h2.5v2.2h-2.5zM309,218.3h2.5v1.6h-2.5zM313,218.3h2.5v1.6h-2.5zM317,217.3h2.5v2.6h-2.5zM321,218h2.5v1.9h-2.5zM325,218.3h2.5v1.6h-2.5zM328.9,218.5h2.5v1.4h-2.5zM332.9,218.5h2.5v1.4h-2.5zM336.9,218.6h2.5v1.3h-2.5zM340.9,217h2.5v2.9h-2.5zM344.9,218h2.5v1.9h-2.5zM348.9,218.1h2.5v1.8h-2.5zM352.9,218.6h2.5v1.3h-2.5zM356.9,218.5h2.5v1.4h-2.5zM360.9,218.5h2.5v1.4h-2.5zM364.9,216.9h2.5v3h-2.5zM368.8,218.1h2.5v1.8h-2.5zM372.8,218.5h2.5v1.4h-2.5zM376.8,218.2h2.5v1.7h-2.5zM380.8,216.4h2.5v3.5h-2.5zM384.8,218h2.5v1.9h-2.5zM388.8,218h2.5v1.9h-2.5zM392.8,218.6h2.5v1.3h-2.5zM396.8,217h2.5v2.9h-2.5zM400.8,218.6h2.5v1.3h-2.5zM404.8,218.2h2.5v1.7h-2.5zM408.7,218.1h2.5v1.8h-2.5zM412.7,218.6h2.5v1.3h-2.5zM416.7,218.3h2.5v1.6h-2.5zM420.7,218.2h2.5v1.7h-2.5zM424.7,218.1h2.5v1.8h-2.5zM428.7,216.4h2.5v3.5h-2.5zM432.7,218.2h2.5v1.7h-2.5zM436.7,218.3h2.5v1.6h-2.5zM440.7,218.1h2.5v1.8h-2.5zM444.6,218.1h2.5v1.8h-2.5zM448.6,218.4h2.5v1.5h-2.5zM452.6,216.6h2.5v3.3h-2.5zM456.6,218.1h2.5v1.8h-2.5zM460.6,218.2h2.5v1.7h-2.5zM464.6,218.1h2.5v1.8h-2.5zM468.6,218.4h2.5v1.5h-2.5zM472.6,218.1h2.5v1.8h-2.5zM476.6,218.2h2.5v1.7h-2.5zM480.6,218.1h2.5v1.8h-2.5zM484.6,218.4h2.5v1.5h-2.5zM488.5,217.5h2.5v2.4h-2.5zM492.5,218.2h2.5v1.7h-2.5zM496.5,218.1h2.5v1.8h-2.5zM500.5,216.8h2.5v3.1h-2.5zM504.5,218.1h2.5v1.8h-2.5zM508.5,218.4h2.5v1.5h-2.5zM512.5,218.1h2.5v1.8h-2.5zM516.5,218.1h2.5v1.8h-2.5zM520.5,218.5h2.5v1.4h-2.5zM524.5,218.1h2.5v1.8h-2.5zM528.4,218.1h2.5v1.8h-2.5zM532.4,218.5h2.5v1.4h-2.5zM536.4,218.2h2.5v1.7h-2.5zM540.4,218.5h2.5v1.4h-2.5z" fill="#a4e470"/><path d="M43.7,219.9l7.8,-6.1v-1.5l-7.8,6.1zM47.6,219.9l7.8,-6.1v-3.4l-7.8,6.1zM51.6,219.9l7.8,-6.1v-1.7l-7.8,6.1zM55.6,219.9l7.8,-6.1v-1.6l-7.8,6.1zM59.6,219.9l7.8,-6.1v-2l-7.8,6.1zM63.6,219.9l7.8,-6.1v-1.6l-7.8,6.1zM67.6,219.9l7.8,-6.1v-2l-7.8,6.1zM71.6,219.9l7.8,-6.1v-2l-7.8,6.1zM75.6,219.9l7.8,-6.1v-2l-7.8,6.1zM79.6,219.9l7.8,-6.1v-2l-7.8,6.1zM83.6,219.9l7.8,-6.1v-2l-7.8,6.1zM87.5,219.9l7.8,-6.1v-1.9l-7.8,6.1zM91.5,219.9l7.8,-6.1v-1.9l-7.8,6.1zM95.5,219.9l7.8,-6.1v-2l-7.8,6.1zM99.5,219.9l7.8,-6.1v-1.7l-7.8,6.1zM103.5,219.9l7.8,-6.1v-1.6l-7.8,6.1zM107.5,219.9l7.8,-6.1v-1.5l-7.8,6.1zM111.5,219.9l7.8,-6.1v-1.6l-7.8,6.1zM115.5,219.9l7.8,-6.1v-1.8l-7.8,6.1zM119.5,219.9l7.8,-6.1v-2l-7.8,6.1zM123.5,219.9l7.8,-6.1v-3.3l-7.8,6.1zM127.5,219.9l7.8,-6.1v-1.8l-7.8,6.1zM131.4,219.9l7.8,-6.1v-2l-7.8,6.1zM135.4,219.9l7.8,-6.1v-1.8l-7.8,6.1zM139.4,219.9l7.8,-6.1v-1.5l-7.8,6.1zM143.4,219.9l7.8,-6.1v-1.9l-7.8,6.1zM147.4,219.9l7.8,-6.1v-3l-7.8,6.1zM151.4,219.9l7.8,-6.1v-2.1l-7.8,6.1zM155.4,219.9l7.8,-6.1v-2.1l-7.8,6.1zM159.4,219.9l7.8,-6.1v-1.8l-7.8,6.1zM163.4,219.9l7.8,-6.1v-1.5l-7.8,6.1zM167.4,219.9l7.8,-6.1v-1.9l-7.8,6.1zM171.3,219.9l7.8,-6.1v-2l-7.8,6.1zM175.3,219.9l7.8,-6.1v-1.8l-7.8,6.1zM179.3,219.9l7.8,-6.1v-2l-7.8,6.1zM183.3,219.9l7.8,-6.1v-1.8l-7.8,6.1zM187.3,219.9l7.8,-6.1v-1.8l-7.8,6.1zM191.3,219.9l7.8,-6.1v-1.7l-7.8,6.1zM195.3,219.9l7.8,-6.1v-1.7l-7.8,6.1zM199.3,219.9l7.8,-6.1v-1.7l-7.8,6.1zM203.3,219.9l7.8,-6.1v-2.1l-7.8,6.1zM207.2,219.9l7.8,-6.1v-2l-7.8,6.1zM211.2,219.9l7.8,-6.1v-1.7l-7.8,6.1zM215.2,219.9l7.8,-6.1v-1.9l-7.8,6.1zM219.2,219.9l7.8,-6.1v-2l-7.8,6.1zM223.2,219.9l7.8,-6.1v-3.2l-7.8,6.1zM227.2,219.9l7.8,-6.1v-1.8l-7.8,6.1zM231.2,219.9l7.8,-6.1v-2.7l-7.8,6.1zM235.2,219.9l7.8,-6.1v-2.5l-7.8,6.1zM239.2,219.9l7.8,-6.1v-1.9l-7.8,6.1zM243.2,219.9l7.8,-6.1v-2l-7.8,6.1zM247.2,219.9l7.8,-6.1v-1.9l-7.8,6.1zM251.1,219.9l7.8,-6.1v-1.9l-7.8,6.1zM255.1,219.9l7.8,-6.1v-1.9l-7.8,6.1zM259.1,219.9l7.8,-6.1v-1.6l-7.8,6.1zM263.1,219.9l7.8,-6.1v-1.8l-7.8,6.1zM267.1,219.9l7.8,-6.1v-1.6l-7.8,6.1zM271.1,219.9l7.8,-6.1v-1.5l-7.8,6.1zM275.1,219.9l7.8,-6.1v-2l-7.8,6.1zM279.1,219.9l7.8,-6.1v-1.7l-7.8,6.1zM283.1,219.9l7.8,-6.1v-2l-7.8,6.1zM287.1,219.9l7.8,-6.1v-1.7l-7.8,6.1zM291,219.9l7.8,-6.1v-1.8l-7.8,6.1zM295,219.9l7.8,-6.1v-1.8l-7.8,6.1zM299,219.9l7.8,-6.1v-2.1l-7.8,6.1zM303,219.9l7.8,-6.1v-3l-7.8,6.1zM307,219.9l7.8,-6.1v-2.4l-7.8,6.1zM311,219.9l7.8,-6.1v-1.8l-7.8,6.1zM315,219.9l7.8,-6.1v-1.8l-7.8,6.1zM319,219.9l7.8,-6.1v-2.8l-7.8,6.1zM323,219.9l7.8,-6.1v-2.1l-7.8,6.1zM327,219.9l7.8,-6.1v-1.8l-7.8,6.1zM330.9,219.9l7.8,-6.1v-1.6l-7.8,6.1zM334.9,219.9l7.8,-6.1v-1.6l-7.8,6.1zM338.9,219.9l7.8,-6.1v-1.5l-7.8,6.1zM342.9,219.9l7.8,-6.1v-3.1l-7.8,6.1zM346.9,219.9l7.8,-6.1v-2.1l-7.8,6.1zM350.9,219.9l7.8,-6.1v-2l-7.8,6.1zM354.9,219.9l7.8,-6.1v-1.5l-7.8,6.1zM358.9,219.9l7.8,-6.1v-1.6l-7.8,6.1zM362.9,219.9l7.8,-6.1v-1.6l-7.8,6.1zM366.9,219.9l7.8,-6.1v-3.2l-7.8,6.1zM370.8,219.9l7.8,-6.1v-2l-7.8,6.1zM374.8,219.9l7.8,-6.1v-1.6l-7.8,6.1zM378.8,219.9l7.8,-6.1v-1.9l-7.8,6.1zM382.8,219.9l7.8,-6.1v-3.7l-7.8,6.1zM386.8,219.9l7.8,-6.1v-2.1l-7.8,6.1zM390.8,219.9l7.8,-6.1v-2.1l-7.8,6.1zM394.8,219.9l7.8,-6.1v-1.5l-7.8,6.1zM398.8,219.9l7.8,-6.1v-3.1l-7.8,6.1zM402.8,219.9l7.8,-6.1v-1.5l-7.8,6.1zM406.8,219.9l7.8,-6.1v-1.9l-7.8,6.1zM410.7,219.9l7.8,-6.1v-2l-7.8,6.1zM414.7,219.9l7.8,-6.1v-1.5l-7.8,6.1zM418.7,219.9l7.8,-6.1v-1.8l-7.8,6.1zM422.7,219.9l7.8,-6.1v-1.9l-7.8,6.1zM426.7,219.9l7.8,-6.1v-2l-7.8,6.1zM430.7,219.9l7.8,-6.1v-3.7l-7.8,6.1zM434.7,219.9l7.8,-6.1v-1.9l-7.8,6.1zM438.7,219.9l7.8,-6.1v-1.8l-7.8,6.1zM442.7,219.9l7.8,-6.1v-2l-7.8,6.1zM446.6,219.9l7.8,-6.1v-2l-7.8,6.1zM450.6,219.9l7.8,-6.1v-1.7l-7.8,6.1zM454.6,219.9l7.8,-6.1v-3.5l-7.8,6.1zM458.6,219.9l7.8,-6.1v-2l-7.8,6.1zM462.6,219.9l7.8,-6.1v-1.9l-7.8,6.1zM466.6,219.9l7.8,-6.1v-2l-7.8,6.1zM470.6,219.9l7.8,-6.1v-1.7l-7.8,6.1zM474.6,219.9l7.8,-6.1v-2l-7.8,6.1zM478.6,219.9l7.8,-6.1v-1.9l-7.8,6.1zM482.6,219.9l7.8,-6.1v-2l-7.8,6.1zM486.6,219.9l7.8,-6.1v-1.7l-7.8,6.1zM490.5,219.9l7.8,-6.1v-2.6l-7.8,6.1zM494.5,219.9l7.8,-6.1v-1.9l-7.8,6.1zM498.5,219.9l7.8,-6.1v-2l-7.8,6.1zM502.5,219.9l7.8,-6.1v-3.3l-7.8,6.1zM506.5,219.9l7.8,-6.1v-2l-7.8,6.1zM510.5,219.9l7.8,-6.1v-1.7l-7.8,6.1zM514.5,219.9l7.8,-6.1v-2l-7.8,6.1zM518.5,219.9l7.8,-6.1v-2l-7.8,6.1zM522.5,219.9l7.8,-6.1v-1.6l-7.8,6.1zM526.5,219.9l7.8,-6.1v-2l-7.8,6.1zM530.4,219.9l7.8,-6.1v-2l-7.8,6.1zM534.4,219.9l7.8,-6.1v-1.6l-7.8,6.1zM538.4,219.9l7.8,-6.1v-1.9l-7.8,6.1zM542.4,219.9l7.8,-6.1v-1.6l-7.8,6.1z" fill="#58b436"/><path d="M41.7,219.1h2.0l7.8,-6.1h-2.0zM45.6,217.2h2.0l7.8,-6.1h-2.0zM49.6,218.9h2.0l7.8,-6.1h-2.0zM53.6,219h2.0l7.8,-6.1h-2.0zM57.6,218.6h2.0l7.8,-6.1h-2.0zM61.6,219h2.0l7.8,-6.1h-2.0zM65.6,218.6h2.0l7.8,-6.1h-2.0zM69.6,218.6h2.0l7.8,-6.1h-2.0zM73.6,218.6h2.0l7.8,-6.1h-2.0zM77.6,218.6h2.0l7.8,-6.1h-2.0zM81.6,218.6h2.0l7.8,-6.1h-2.0zM85.5,218.7h2.0l7.8,-6.1h-2.0zM89.5,218.7h2.0l7.8,-6.1h-2.0zM93.5,218.6h2.0l7.8,-6.1h-2.0zM97.5,218.9h2.0l7.8,-6.1h-2.0zM101.5,219h2.0l7.8,-6.1h-2.0zM105.5,219.1h2.0l7.8,-6.1h-2.0zM109.5,219h2.0l7.8,-6.1h-2.0zM113.5,218.8h2.0l7.8,-6.1h-2.0zM117.5,218.6h2.0l7.8,-6.1h-2.0zM121.5,217.3h2.0l7.8,-6.1h-2.0zM125.5,218.8h2.0l7.8,-6.1h-2.0zM129.4,218.6h2.0l7.8,-6.1h-2.0zM133.4,218.8h2.0l7.8,-6.1h-2.0zM137.4,219.1h2.0l7.8,-6.1h-2.0zM141.4,218.7h2.0l7.8,-6.1h-2.0zM145.4,217.6h2.0l7.8,-6.1h-2.0zM149.4,218.5h2.0l7.8,-6.1h-2.0zM153.4,218.5h2.0l7.8,-6.1h-2.0zM157.4,218.8h2.0l7.8,-6.1h-2.0zM161.4,219.1h2.0l7.8,-6.1h-2.0zM165.4,218.7h2.0l7.8,-6.1h-2.0zM169.3,218.6h2.0l7.8,-6.1h-2.0zM173.3,218.8h2.0l7.8,-6.1h-2.0zM177.3,218.6h2.0l7.8,-6.1h-2.0zM181.3,218.8h2.0l7.8,-6.1h-2.0zM185.3,218.8h2.0l7.8,-6.1h-2.0zM189.3,218.9h2.0l7.8,-6.1h-2.0zM193.3,218.9h2.0l7.8,-6.1h-2.0zM197.3,218.9h2.0l7.8,-6.1h-2.0zM201.3,218.5h2.0l7.8,-6.1h-2.0zM205.2,218.6h2.0l7.8,-6.1h-2.0zM209.2,218.9h2.0l7.8,-6.1h-2.0zM213.2,218.7h2.0l7.8,-6.1h-2.0zM217.2,218.6h2.0l7.8,-6.1h-2.0zM221.2,217.4h2.0l7.8,-6.1h-2.0zM225.2,218.8h2.0l7.8,-6.1h-2.0zM229.2,217.9h2.0l7.8,-6.1h-2.0zM233.2,218.1h2.0l7.8,-6.1h-2.0zM237.2,218.7h2.0l7.8,-6.1h-2.0zM241.2,218.6h2.0l7.8,-6.1h-2.0zM245.2,218.7h2.0l7.8,-6.1h-2.0zM249.1,218.7h2.0l7.8,-6.1h-2.0zM253.1,218.7h2.0l7.8,-6.1h-2.0zM257.1,219h2.0l7.8,-6.1h-2.0zM261.1,218.8h2.0l7.8,-6.1h-2.0zM265.1,219h2.0l7.8,-6.1h-2.0zM269.1,219.1h2.0l7.8,-6.1h-2.0zM273.1,218.6h2.0l7.8,-6.1h-2.0zM277.1,218.9h2.0l7.8,-6.1h-2.0zM281.1,218.6h2.0l7.8,-6.1h-2.0zM285.1,218.9h2.0l7.8,-6.1h-2.0zM289,218.8h2.0l7.8,-6.1h-2.0zM293,218.8h2.0l7.8,-6.1h-2.0zM297,218.5h2.0l7.8,-6.1h-2.0zM301,217.6h2.0l7.8,-6.1h-2.0zM305,218.2h2.0l7.8,-6.1h-2.0zM309,218.8h2.0l7.8,-6.1h-2.0zM313,218.8h2.0l7.8,-6.1h-2.0zM317,217.8h2.0l7.8,-6.1h-2.0zM321,218.5h2.0l7.8,-6.1h-2.0zM325,218.8h2.0l7.8,-6.1h-2.0zM328.9,219h2.0l7.8,-6.1h-2.0zM332.9,219h2.0l7.8,-6.1h-2.0zM336.9,219.1h2.0l7.8,-6.1h-2.0zM340.9,217.5h2.0l7.8,-6.1h-2.0zM344.9,218.5h2.0l7.8,-6.1h-2.0zM348.9,218.6h2.0l7.8,-6.1h-2.0zM352.9,219.1h2.0l7.8,-6.1h-2.0zM356.9,219h2.0l7.8,-6.1h-2.0zM360.9,219h2.0l7.8,-6.1h-2.0zM364.9,217.4h2.0l7.8,-6.1h-2.0zM368.8,218.6h2.0l7.8,-6.1h-2.0zM372.8,219h2.0l7.8,-6.1h-2.0zM376.8,218.7h2.0l7.8,-6.1h-2.0zM380.8,216.9h2.0l7.8,-6.1h-2.0zM384.8,218.5h2.0l7.8,-6.1h-2.0zM388.8,218.5h2.0l7.8,-6.1h-2.0zM392.8,219.1h2.0l7.8,-6.1h-2.0zM396.8,217.5h2.0l7.8,-6.1h-2.0zM400.8,219.1h2.0l7.8,-6.1h-2.0zM404.8,218.7h2.0l7.8,-6.1h-2.0zM408.7,218.6h2.0l7.8,-6.1h-2.0zM412.7,219.1h2.0l7.8,-6.1h-2.0zM416.7,218.8h2.0l7.8,-6.1h-2.0zM420.7,218.7h2.0l7.8,-6.1h-2.0zM424.7,218.6h2.0l7.8,-6.1h-2.0zM428.7,216.9h2.0l7.8,-6.1h-2.0zM432.7,218.7h2.0l7.8,-6.1h-2.0zM436.7,218.8h2.0l7.8,-6.1h-2.0zM440.7,218.6h2.0l7.8,-6.1h-2.0zM444.6,218.6h2.0l7.8,-6.1h-2.0zM448.6,218.9h2.0l7.8,-6.1h-2.0zM452.6,217.1h2.0l7.8,-6.1h-2.0zM456.6,218.6h2.0l7.8,-6.1h-2.0zM460.6,218.7h2.0l7.8,-6.1h-2.0zM464.6,218.6h2.0l7.8,-6.1h-2.0zM468.6,218.9h2.0l7.8,-6.1h-2.0zM472.6,218.6h2.0l7.8,-6.1h-2.0zM476.6,218.7h2.0l7.8,-6.1h-2.0zM480.6,218.6h2.0l7.8,-6.1h-2.0zM484.6,218.9h2.0l7.8,-6.1h-2.0zM488.5,218h2.0l7.8,-6.1h-2.0zM492.5,218.7h2.0l7.8,-6.1h-2.0zM496.5,218.6h2.0l7.8,-6.1h-2.0zM500.5,217.3h2.0l7.8,-6.1h-2.0zM504.5,218.6h2.0l7.8,-6.1h-2.0zM508.5,218.9h2.0l7.8,-6.1h-2.0zM512.5,218.6h2.0l7.8,-6.1h-2.0zM516.5,218.6h2.0l7.8,-6.1h-2.0zM520.5,219h2.0l7.8,-6.1h-2.0zM524.5,218.6h2.0l7.8,-6.1h-2.0zM528.4,218.6h2.0l7.8,-6.1h-2.0zM532.4,219h2.0l7.8,-6.1h-2.0zM536.4,218.7h2.0l7.8,-6.1h-2.0zM540.4,219h2.0l7.8,-6.1h-2.0z" fill="#72c64c"/></g><g><path d="M26.1,230h2.5v1.8h-2.5zM30.1,230.2h2.5v1.6h-2.5zM34.1,230h2.5v1.8h-2.5zM38,230.4h2.5v1.4h-2.5zM42,230h2.5v1.8h-2.5zM46,230.2h2.5v1.6h-2.5zM50,230.1h2.5v1.7h-2.5zM54,230.4h2.5v1.4h-2.5zM58,230.1h2.5v1.7h-2.5zM62,230.2h2.5v1.6h-2.5zM66,230.2h2.5v1.6h-2.5zM70,230.5h2.5v1.3h-2.5zM74,230.3h2.5v1.5h-2.5zM78,230.1h2.5v1.7h-2.5zM81.9,230.4h2.5v1.4h-2.5zM85.9,230.3h2.5v1.5h-2.5zM89.9,230.5h2.5v1.3h-2.5zM93.9,228.5h2.5v3.3h-2.5zM97.9,230.2h2.5v1.6h-2.5zM101.9,230.3h2.5v1.5h-2.5zM105.9,230.2h2.5v1.6h-2.5zM109.9,230h2.5v1.8h-2.5zM113.9,229.9h2.5v1.9h-2.5zM117.9,230.5h2.5v1.3h-2.5zM121.8,230.4h2.5v1.4h-2.5zM125.8,230.5h2.5v1.3h-2.5zM129.8,230h2.5v1.8h-2.5zM133.8,229.9h2.5v1.9h-2.5zM137.8,230.5h2.5v1.3h-2.5zM141.8,230.3h2.5v1.5h-2.5zM145.8,229.9h2.5v1.9h-2.5zM149.8,230.2h2.5v1.6h-2.5zM153.8,229.9h2.5v1.9h-2.5zM157.8,230.3h2.5v1.5h-2.5zM161.7,230.4h2.5v1.4h-2.5zM165.7,229.9h2.5v1.9h-2.5zM169.7,230.5h2.5v1.3h-2.5zM173.7,230.3h2.5v1.5h-2.5zM177.7,230h2.5v1.8h-2.5zM181.7,230.5h2.5v1.3h-2.5zM185.7,230.1h2.5v1.7h-2.5zM189.7,229.9h2.5v1.9h-2.5zM193.7,229.5h2.5v2.3h-2.5zM197.7,229.9h2.5v1.9h-2.5zM201.6,230.3h2.5v1.5h-2.5zM205.6,230h2.5v1.8h-2.5zM209.6,230.3h2.5v1.5h-2.5zM213.6,230.4h2.5v1.4h-2.5zM217.6,230.4h2.5v1.4h-2.5zM221.6,230.4h2.5v1.4h-2.5zM225.6,230.5h2.5v1.3h-2.5zM229.6,230.4h2.5v1.4h-2.5zM233.6,228.6h2.5v3.2h-2.5zM237.6,229.9h2.5v1.9h-2.5zM241.5,230h2.5v1.8h-2.5zM245.5,230.2h2.5v1.6h-2.5zM249.5,229.9h2.5v1.9h-2.5zM253.5,230.1h2.5v1.7h-2.5zM257.5,230.3h2.5v1.5h-2.5zM261.5,230.2h2.5v1.6h-2.5zM265.5,230.4h2.5v1.4h-2.5zM269.5,230.5h2.5v1.3h-2.5zM273.5,230.2h2.5v1.6h-2.5zM277.4,230h2.5v1.8h-2.5zM281.4,230.3h2.5v1.5h-2.5zM285.4,230.3h2.5v1.5h-2.5zM289.4,230.3h2.5v1.5h-2.5zM293.4,230.2h2.5v1.6h-2.5zM297.4,230h2.5v1.8h-2.5zM301.4,229.9h2.5v1.9h-2.5zM305.4,228.6h2.5v3.2h-2.5zM309.4,230.4h2.5v1.4h-2.5zM313.4,230.3h2.5v1.5h-2.5zM317.4,230.4h2.5v1.4h-2.5zM321.3,229.9h2.5v1.9h-2.5zM325.3,229.9h2.5v1.9h-2.5zM329.3,230.3h2.5v1.5h-2.5zM333.3,230.5h2.5v1.3h-2.5zM337.3,230.3h2.5v1.5h-2.5zM341.3,230.5h2.5v1.3h-2.5zM345.3,230.3h2.5v1.5h-2.5zM349.3,230.5h2.5v1.3h-2.5zM353.3,230.2h2.5v1.6h-2.5zM357.2,230.2h2.5v1.6h-2.5zM361.2,230.4h2.5v1.4h-2.5zM365.2,230.4h2.5v1.4h-2.5zM369.2,230h2.5v1.8h-2.5zM373.2,230.4h2.5v1.4h-2.5zM377.2,229.6h2.5v2.2h-2.5zM381.2,230.2h2.5v1.6h-2.5zM385.2,230.4h2.5v1.4h-2.5zM389.2,230.1h2.5v1.7h-2.5zM393.2,230.2h2.5v1.6h-2.5zM397.1,230.5h2.5v1.3h-2.5zM401.1,230.3h2.5v1.5h-2.5zM405.1,230.5h2.5v1.3h-2.5zM409.1,230.3h2.5v1.5h-2.5zM413.1,230h2.5v1.8h-2.5zM417.1,230.5h2.5v1.3h-2.5zM421.1,230.2h2.5v1.6h-2.5zM425.1,230.3h2.5v1.5h-2.5zM429.1,230h2.5v1.8h-2.5zM433.1,230.4h2.5v1.4h-2.5zM437.1,230.1h2.5v1.7h-2.5zM441,229.1h2.5v2.7h-2.5zM445,230.2h2.5v1.6h-2.5zM449,230.1h2.5v1.7h-2.5zM453,230h2.5v1.8h-2.5zM457,230.1h2.5v1.7h-2.5zM461,230h2.5v1.8h-2.5zM465,228.7h2.5v3.1h-2.5zM469,230.2h2.5v1.6h-2.5zM473,230.2h2.5v1.6h-2.5zM476.9,230.5h2.5v1.3h-2.5zM480.9,230.4h2.5v1.4h-2.5zM484.9,230.4h2.5v1.4h-2.5zM488.9,230h2.5v1.8h-2.5zM492.9,229.6h2.5v2.2h-2.5zM496.9,230.4h2.5v1.4h-2.5zM500.9,229h2.5v2.8h-2.5zM504.9,230.2h2.5v1.6h-2.5zM508.9,230.4h2.5v1.4h-2.5zM512.9,230.1h2.5v1.7h-2.5zM516.9,229.6h2.5v2.2h-2.5zM520.8,230.2h2.5v1.6h-2.5zM524.8,230.4h2.5v1.4h-2.5z" fill="#58d848"/><path d="M28.1,231.8l7.8,-6.1v-2l-7.8,6.1zM32.1,231.8l7.8,-6.1v-1.8l-7.8,6.1zM36.1,231.8l7.8,-6.1v-2l-7.8,6.1zM40,231.8l7.8,-6.1v-1.6l-7.8,6.1zM44,231.8l7.8,-6.1v-2l-7.8,6.1zM48,231.8l7.8,-6.1v-1.8l-7.8,6.1zM52,231.8l7.8,-6.1v-1.9l-7.8,6.1zM56,231.8l7.8,-6.1v-1.6l-7.8,6.1zM60,231.8l7.8,-6.1v-1.9l-7.8,6.1zM64,231.8l7.8,-6.1v-1.8l-7.8,6.1zM68,231.8l7.8,-6.1v-1.8l-7.8,6.1zM72,231.8l7.8,-6.1v-1.5l-7.8,6.1zM76,231.8l7.8,-6.1v-1.7l-7.8,6.1zM80,231.8l7.8,-6.1v-1.9l-7.8,6.1zM83.9,231.8l7.8,-6.1v-1.6l-7.8,6.1zM87.9,231.8l7.8,-6.1v-1.7l-7.8,6.1zM91.9,231.8l7.8,-6.1v-1.5l-7.8,6.1zM95.9,231.8l7.8,-6.1v-3.5l-7.8,6.1zM99.9,231.8l7.8,-6.1v-1.8l-7.8,6.1zM103.9,231.8l7.8,-6.1v-1.7l-7.8,6.1zM107.9,231.8l7.8,-6.1v-1.8l-7.8,6.1zM111.9,231.8l7.8,-6.1v-2l-7.8,6.1zM115.9,231.8l7.8,-6.1v-2.1l-7.8,6.1zM119.9,231.8l7.8,-6.1v-1.5l-7.8,6.1zM123.8,231.8l7.8,-6.1v-1.6l-7.8,6.1zM127.8,231.8l7.8,-6.1v-1.5l-7.8,6.1zM131.8,231.8l7.8,-6.1v-2l-7.8,6.1zM135.8,231.8l7.8,-6.1v-2.1l-7.8,6.1zM139.8,231.8l7.8,-6.1v-1.5l-7.8,6.1zM143.8,231.8l7.8,-6.1v-1.7l-7.8,6.1zM147.8,231.8l7.8,-6.1v-2.1l-7.8,6.1zM151.8,231.8l7.8,-6.1v-1.8l-7.8,6.1zM155.8,231.8l7.8,-6.1v-2.1l-7.8,6.1zM159.8,231.8l7.8,-6.1v-1.7l-7.8,6.1zM163.7,231.8l7.8,-6.1v-1.6l-7.8,6.1zM167.7,231.8l7.8,-6.1v-2.1l-7.8,6.1zM171.7,231.8l7.8,-6.1v-1.5l-7.8,6.1zM175.7,231.8l7.8,-6.1v-1.7l-7.8,6.1zM179.7,231.8l7.8,-6.1v-2l-7.8,6.1zM183.7,231.8l7.8,-6.1v-1.5l-7.8,6.1zM187.7,231.8l7.8,-6.1v-1.9l-7.8,6.1zM191.7,231.8l7.8,-6.1v-2.1l-7.8,6.1zM195.7,231.8l7.8,-6.1v-2.5l-7.8,6.1zM199.7,231.8l7.8,-6.1v-2.1l-7.8,6.1zM203.6,231.8l7.8,-6.1v-1.7l-7.8,6.1zM207.6,231.8l7.8,-6.1v-2l-7.8,6.1zM211.6,231.8l7.8,-6.1v-1.7l-7.8,6.1zM215.6,231.8l7.8,-6.1v-1.6l-7.8,6.1zM219.6,231.8l7.8,-6.1v-1.6l-7.8,6.1zM223.6,231.8l7.8,-6.1v-1.6l-7.8,6.1zM227.6,231.8l7.8,-6.1v-1.5l-7.8,6.1zM231.6,231.8l7.8,-6.1v-1.6l-7.8,6.1zM235.6,231.8l7.8,-6.1v-3.4l-7.8,6.1zM239.6,231.8l7.8,-6.1v-2.1l-7.8,6.1zM243.5,231.8l7.8,-6.1v-2l-7.8,6.1zM247.5,231.8l7.8,-6.1v-1.8l-7.8,6.1zM251.5,231.8l7.8,-6.1v-2.1l-7.8,6.1zM255.5,231.8l7.8,-6.1v-1.9l-7.8,6.1zM259.5,231.8l7.8,-6.1v-1.7l-7.8,6.1zM263.5,231.8l7.8,-6.1v-1.8l-7.8,6.1zM267.5,231.8l7.8,-6.1v-1.6l-7.8,6.1zM271.5,231.8l7.8,-6.1v-1.5l-7.8,6.1zM275.5,231.8l7.8,-6.1v-1.8l-7.8,6.1zM279.4,231.8l7.8,-6.1v-2l-7.8,6.1zM283.4,231.8l7.8,-6.1v-1.7l-7.8,6.1zM287.4,231.8l7.8,-6.1v-1.7l-7.8,6.1zM291.4,231.8l7.8,-6.1v-1.7l-7.8,6.1zM295.4,231.8l7.8,-6.1v-1.8l-7.8,6.1zM299.4,231.8l7.8,-6.1v-2l-7.8,6.1zM303.4,231.8l7.8,-6.1v-2.1l-7.8,6.1zM307.4,231.8l7.8,-6.1v-3.4l-7.8,6.1zM311.4,231.8l7.8,-6.1v-1.6l-7.8,6.1zM315.4,231.8l7.8,-6.1v-1.7l-7.8,6.1zM319.4,231.8l7.8,-6.1v-1.6l-7.8,6.1zM323.3,231.8l7.8,-6.1v-2.1l-7.8,6.1zM327.3,231.8l7.8,-6.1v-2.1l-7.8,6.1zM331.3,231.8l7.8,-6.1v-1.7l-7.8,6.1zM335.3,231.8l7.8,-6.1v-1.5l-7.8,6.1zM339.3,231.8l7.8,-6.1v-1.7l-7.8,6.1zM343.3,231.8l7.8,-6.1v-1.5l-7.8,6.1zM347.3,231.8l7.8,-6.1v-1.7l-7.8,6.1zM351.3,231.8l7.8,-6.1v-1.5l-7.8,6.1zM355.3,231.8l7.8,-6.1v-1.8l-7.8,6.1zM359.2,231.8l7.8,-6.1v-1.8l-7.8,6.1zM363.2,231.8l7.8,-6.1v-1.6l-7.8,6.1zM367.2,231.8l7.8,-6.1v-1.6l-7.8,6.1zM371.2,231.8l7.8,-6.1v-2l-7.8,6.1zM375.2,231.8l7.8,-6.1v-1.6l-7.8,6.1zM379.2,231.8l7.8,-6.1v-2.4l-7.8,6.1zM383.2,231.8l7.8,-6.1v-1.8l-7.8,6.1zM387.2,231.8l7.8,-6.1v-1.6l-7.8,6.1zM391.2,231.8l7.8,-6.1v-1.9l-7.8,6.1zM395.2,231.8l7.8,-6.1v-1.8l-7.8,6.1zM399.1,231.8l7.8,-6.1v-1.5l-7.8,6.1zM403.1,231.8l7.8,-6.1v-1.7l-7.8,6.1zM407.1,231.8l7.8,-6.1v-1.5l-7.8,6.1zM411.1,231.8l7.8,-6.1v-1.7l-7.8,6.1zM415.1,231.8l7.8,-6.1v-2l-7.8,6.1zM419.1,231.8l7.8,-6.1v-1.5l-7.8,6.1zM423.1,231.8l7.8,-6.1v-1.8l-7.8,6.1zM427.1,231.8l7.8,-6.1v-1.7l-7.8,6.1zM431.1,231.8l7.8,-6.1v-2l-7.8,6.1zM435.1,231.8l7.8,-6.1v-1.6l-7.8,6.1zM439.1,231.8l7.8,-6.1v-1.9l-7.8,6.1zM443,231.8l7.8,-6.1v-2.9l-7.8,6.1zM447,231.8l7.8,-6.1v-1.8l-7.8,6.1zM451,231.8l7.8,-6.1v-1.9l-7.8,6.1zM455,231.8l7.8,-6.1v-2l-7.8,6.1zM459,231.8l7.8,-6.1v-1.9l-7.8,6.1zM463,231.8l7.8,-6.1v-2l-7.8,6.1zM467,231.8l7.8,-6.1v-3.3l-7.8,6.1zM471,231.8l7.8,-6.1v-1.8l-7.8,6.1zM475,231.8l7.8,-6.1v-1.8l-7.8,6.1zM478.9,231.8l7.8,-6.1v-1.5l-7.8,6.1zM482.9,231.8l7.8,-6.1v-1.6l-7.8,6.1zM486.9,231.8l7.8,-6.1v-1.6l-7.8,6.1zM490.9,231.8l7.8,-6.1v-2l-7.8,6.1zM494.9,231.8l7.8,-6.1v-2.4l-7.8,6.1zM498.9,231.8l7.8,-6.1v-1.6l-7.8,6.1zM502.9,231.8l7.8,-6.1v-3l-7.8,6.1zM506.9,231.8l7.8,-6.1v-1.8l-7.8,6.1zM510.9,231.8l7.8,-6.1v-1.6l-7.8,6.1zM514.9,231.8l7.8,-6.1v-1.9l-7.8,6.1zM518.9,231.8l7.8,-6.1v-2.4l-7.8,6.1zM522.8,231.8l7.8,-6.1v-1.8l-7.8,6.1zM526.8,231.8l7.8,-6.1v-1.6l-7.8,6.1z" fill="#22a822"/><path d="M26.1,230.5h2.0l7.8,-6.1h-2.0zM30.1,230.7h2.0l7.8,-6.1h-2.0zM34.1,230.5h2.0l7.8,-6.1h-2.0zM38,230.9h2.0l7.8,-6.1h-2.0zM42,230.5h2.0l7.8,-6.1h-2.0zM46,230.7h2.0l7.8,-6.1h-2.0zM50,230.6h2.0l7.8,-6.1h-2.0zM54,230.9h2.0l7.8,-6.1h-2.0zM58,230.6h2.0l7.8,-6.1h-2.0zM62,230.7h2.0l7.8,-6.1h-2.0zM66,230.7h2.0l7.8,-6.1h-2.0zM70,231h2.0l7.8,-6.1h-2.0zM74,230.8h2.0l7.8,-6.1h-2.0zM78,230.6h2.0l7.8,-6.1h-2.0zM81.9,230.9h2.0l7.8,-6.1h-2.0zM85.9,230.8h2.0l7.8,-6.1h-2.0zM89.9,231h2.0l7.8,-6.1h-2.0zM93.9,229h2.0l7.8,-6.1h-2.0zM97.9,230.7h2.0l7.8,-6.1h-2.0zM101.9,230.8h2.0l7.8,-6.1h-2.0zM105.9,230.7h2.0l7.8,-6.1h-2.0zM109.9,230.5h2.0l7.8,-6.1h-2.0zM113.9,230.4h2.0l7.8,-6.1h-2.0zM117.9,231h2.0l7.8,-6.1h-2.0zM121.8,230.9h2.0l7.8,-6.1h-2.0zM125.8,231h2.0l7.8,-6.1h-2.0zM129.8,230.5h2.0l7.8,-6.1h-2.0zM133.8,230.4h2.0l7.8,-6.1h-2.0zM137.8,231h2.0l7.8,-6.1h-2.0zM141.8,230.8h2.0l7.8,-6.1h-2.0zM145.8,230.4h2.0l7.8,-6.1h-2.0zM149.8,230.7h2.0l7.8,-6.1h-2.0zM153.8,230.4h2.0l7.8,-6.1h-2.0zM157.8,230.8h2.0l7.8,-6.1h-2.0zM161.7,230.9h2.0l7.8,-6.1h-2.0zM165.7,230.4h2.0l7.8,-6.1h-2.0zM169.7,231h2.0l7.8,-6.1h-2.0zM173.7,230.8h2.0l7.8,-6.1h-2.0zM177.7,230.5h2.0l7.8,-6.1h-2.0zM181.7,231h2.0l7.8,-6.1h-2.0zM185.7,230.6h2.0l7.8,-6.1h-2.0zM189.7,230.4h2.0l7.8,-6.1h-2.0zM193.7,230h2.0l7.8,-6.1h-2.0zM197.7,230.4h2.0l7.8,-6.1h-2.0zM201.6,230.8h2.0l7.8,-6.1h-2.0zM205.6,230.5h2.0l7.8,-6.1h-2.0zM209.6,230.8h2.0l7.8,-6.1h-2.0zM213.6,230.9h2.0l7.8,-6.1h-2.0zM217.6,230.9h2.0l7.8,-6.1h-2.0zM221.6,230.9h2.0l7.8,-6.1h-2.0zM225.6,231h2.0l7.8,-6.1h-2.0zM229.6,230.9h2.0l7.8,-6.1h-2.0zM233.6,229.1h2.0l7.8,-6.1h-2.0zM237.6,230.4h2.0l7.8,-6.1h-2.0zM241.5,230.5h2.0l7.8,-6.1h-2.0zM245.5,230.7h2.0l7.8,-6.1h-2.0zM249.5,230.4h2.0l7.8,-6.1h-2.0zM253.5,230.6h2.0l7.8,-6.1h-2.0zM257.5,230.8h2.0l7.8,-6.1h-2.0zM261.5,230.7h2.0l7.8,-6.1h-2.0zM265.5,230.9h2.0l7.8,-6.1h-2.0zM269.5,231h2.0l7.8,-6.1h-2.0zM273.5,230.7h2.0l7.8,-6.1h-2.0zM277.4,230.5h2.0l7.8,-6.1h-2.0zM281.4,230.8h2.0l7.8,-6.1h-2.0zM285.4,230.8h2.0l7.8,-6.1h-2.0zM289.4,230.8h2.0l7.8,-6.1h-2.0zM293.4,230.7h2.0l7.8,-6.1h-2.0zM297.4,230.5h2.0l7.8,-6.1h-2.0zM301.4,230.4h2.0l7.8,-6.1h-2.0zM305.4,229.1h2.0l7.8,-6.1h-2.0zM309.4,230.9h2.0l7.8,-6.1h-2.0zM313.4,230.8h2.0l7.8,-6.1h-2.0zM317.4,230.9h2.0l7.8,-6.1h-2.0zM321.3,230.4h2.0l7.8,-6.1h-2.0zM325.3,230.4h2.0l7.8,-6.1h-2.0zM329.3,230.8h2.0l7.8,-6.1h-2.0zM333.3,231h2.0l7.8,-6.1h-2.0zM337.3,230.8h2.0l7.8,-6.1h-2.0zM341.3,231h2.0l7.8,-6.1h-2.0zM345.3,230.8h2.0l7.8,-6.1h-2.0zM349.3,231h2.0l7.8,-6.1h-2.0zM353.3,230.7h2.0l7.8,-6.1h-2.0zM357.2,230.7h2.0l7.8,-6.1h-2.0zM361.2,230.9h2.0l7.8,-6.1h-2.0zM365.2,230.9h2.0l7.8,-6.1h-2.0zM369.2,230.5h2.0l7.8,-6.1h-2.0zM373.2,230.9h2.0l7.8,-6.1h-2.0zM377.2,230.1h2.0l7.8,-6.1h-2.0zM381.2,230.7h2.0l7.8,-6.1h-2.0zM385.2,230.9h2.0l7.8,-6.1h-2.0zM389.2,230.6h2.0l7.8,-6.1h-2.0zM393.2,230.7h2.0l7.8,-6.1h-2.0zM397.1,231h2.0l7.8,-6.1h-2.0zM401.1,230.8h2.0l7.8,-6.1h-2.0zM405.1,231h2.0l7.8,-6.1h-2.0zM409.1,230.8h2.0l7.8,-6.1h-2.0zM413.1,230.5h2.0l7.8,-6.1h-2.0zM417.1,231h2.0l7.8,-6.1h-2.0zM421.1,230.7h2.0l7.8,-6.1h-2.0zM425.1,230.8h2.0l7.8,-6.1h-2.0zM429.1,230.5h2.0l7.8,-6.1h-2.0zM433.1,230.9h2.0l7.8,-6.1h-2.0zM437.1,230.6h2.0l7.8,-6.1h-2.0zM441,229.6h2.0l7.8,-6.1h-2.0zM445,230.7h2.0l7.8,-6.1h-2.0zM449,230.6h2.0l7.8,-6.1h-2.0zM453,230.5h2.0l7.8,-6.1h-2.0zM457,230.6h2.0l7.8,-6.1h-2.0zM461,230.5h2.0l7.8,-6.1h-2.0zM465,229.2h2.0l7.8,-6.1h-2.0zM469,230.7h2.0l7.8,-6.1h-2.0zM473,230.7h2.0l7.8,-6.1h-2.0zM476.9,231h2.0l7.8,-6.1h-2.0zM480.9,230.9h2.0l7.8,-6.1h-2.0zM484.9,230.9h2.0l7.8,-6.1h-2.0zM488.9,230.5h2.0l7.8,-6.1h-2.0zM492.9,230.1h2.0l7.8,-6.1h-2.0zM496.9,230.9h2.0l7.8,-6.1h-2.0zM500.9,229.5h2.0l7.8,-6.1h-2.0zM504.9,230.7h2.0l7.8,-6.1h-2.0zM508.9,230.9h2.0l7.8,-6.1h-2.0zM512.9,230.6h2.0l7.8,-6.1h-2.0zM516.9,230.1h2.0l7.8,-6.1h-2.0zM520.8,230.7h2.0l7.8,-6.1h-2.0zM524.8,230.9h2.0l7.8,-6.1h-2.0z" fill="#36ba34"/></g><g><path d="M10.5,242.4h2.5v1.4h-2.5zM14.5,242h2.5v1.8h-2.5zM18.5,242.2h2.5v1.6h-2.5zM22.5,242.4h2.5v1.4h-2.5zM26.5,241.9h2.5v1.9h-2.5zM30.5,242.2h2.5v1.6h-2.5zM34.4,242.2h2.5v1.6h-2.5zM38.4,241.9h2.5v1.9h-2.5zM42.4,242.3h2.5v1.5h-2.5zM46.4,242.3h2.5v1.5h-2.5zM50.4,241.9h2.5v1.9h-2.5zM54.4,242h2.5v1.8h-2.5zM58.4,242h2.5v1.8h-2.5zM62.4,241.1h2.5v2.7h-2.5zM66.4,241.9h2.5v1.9h-2.5zM70.3,242.2h2.5v1.6h-2.5zM74.3,242.3h2.5v1.5h-2.5zM78.3,242.5h2.5v1.3h-2.5zM82.3,242.2h2.5v1.6h-2.5zM86.3,241.5h2.5v2.3h-2.5zM90.3,242h2.5v1.8h-2.5zM94.3,242.1h2.5v1.7h-2.5zM98.3,242h2.5v1.8h-2.5zM102.3,242.5h2.5v1.3h-2.5zM106.3,242.3h2.5v1.5h-2.5zM110.2,242.3h2.5v1.5h-2.5zM114.2,241.9h2.5v1.9h-2.5zM118.2,242.3h2.5v1.5h-2.5zM122.2,242.2h2.5v1.6h-2.5zM126.2,242.3h2.5v1.5h-2.5zM130.2,242.1h2.5v1.7h-2.5zM134.2,242.1h2.5v1.7h-2.5zM138.2,242.2h2.5v1.6h-2.5zM142.2,242.2h2.5v1.6h-2.5zM146.2,242.4h2.5v1.4h-2.5zM150.2,242.4h2.5v1.4h-2.5zM154.1,242.3h2.5v1.5h-2.5zM158.1,242.4h2.5v1.4h-2.5zM162.1,242.2h2.5v1.6h-2.5zM166.1,242.1h2.5v1.7h-2.5zM170.1,242.1h2.5v1.7h-2.5zM174.1,242.1h2.5v1.7h-2.5zM178.1,242.2h2.5v1.6h-2.5zM182.1,242.2h2.5v1.6h-2.5zM186.1,242.4h2.5v1.4h-2.5zM190.1,242.2h2.5v1.6h-2.5zM194,242.1h2.5v1.7h-2.5zM198,241.3h2.5v2.5h-2.5zM202,242.4h2.5v1.4h-2.5zM206,242.2h2.5v1.6h-2.5zM210,241.9h2.5v1.9h-2.5zM214,242h2.5v1.8h-2.5zM218,242.5h2.5v1.3h-2.5zM222,242.2h2.5v1.6h-2.5zM226,241.2h2.5v2.6h-2.5zM230,242.1h2.5v1.7h-2.5zM233.9,242.4h2.5v1.4h-2.5zM237.9,242.1h2.5v1.7h-2.5zM241.9,242.3h2.5v1.5h-2.5zM245.9,242.1h2.5v1.7h-2.5zM249.9,242h2.5v1.8h-2.5zM253.9,242.2h2.5v1.6h-2.5zM257.9,242.1h2.5v1.7h-2.5zM261.9,242.2h2.5v1.6h-2.5zM265.9,242.1h2.5v1.7h-2.5zM269.9,242.4h2.5v1.4h-2.5zM273.8,242.5h2.5v1.3h-2.5zM277.8,242.1h2.5v1.7h-2.5zM281.8,241.9h2.5v1.9h-2.5zM285.8,242.2h2.5v1.6h-2.5zM289.8,242h2.5v1.8h-2.5zM293.8,242.3h2.5v1.5h-2.5zM297.8,242.2h2.5v1.6h-2.5zM301.8,242.3h2.5v1.5h-2.5zM305.8,242.2h2.5v1.6h-2.5zM309.8,242.3h2.5v1.5h-2.5zM313.7,242h2.5v1.8h-2.5zM317.7,242.2h2.5v1.6h-2.5zM321.7,242.3h2.5v1.5h-2.5zM325.7,242.2h2.5v1.6h-2.5zM329.7,242.4h2.5v1.4h-2.5zM333.7,242.3h2.5v1.5h-2.5zM337.7,242h2.5v1.8h-2.5zM341.7,242.4h2.5v1.4h-2.5zM345.7,242h2.5v1.8h-2.5zM349.7,241.6h2.5v2.2h-2.5zM353.6,242.2h2.5v1.6h-2.5zM357.6,242h2.5v1.8h-2.5zM361.6,241.9h2.5v1.9h-2.5zM365.6,242.2h2.5v1.6h-2.5zM369.6,242.3h2.5v1.5h-2.5zM373.6,242.1h2.5v1.7h-2.5zM377.6,241.9h2.5v1.9h-2.5zM381.6,242.2h2.5v1.6h-2.5zM385.6,242.3h2.5v1.5h-2.5zM389.6,242.2h2.5v1.6h-2.5zM393.5,242h2.5v1.8h-2.5zM397.5,242.2h2.5v1.6h-2.5zM401.5,242.1h2.5v1.7h-2.5zM405.5,242.3h2.5v1.5h-2.5zM409.5,242h2.5v1.8h-2.5zM413.5,242.3h2.5v1.5h-2.5zM417.5,242h2.5v1.8h-2.5zM421.5,242.4h2.5v1.4h-2.5zM425.5,242.1h2.5v1.7h-2.5zM429.5,241.9h2.5v1.9h-2.5zM433.4,242.2h2.5v1.6h-2.5zM437.4,242.3h2.5v1.5h-2.5zM441.4,242.2h2.5v1.6h-2.5zM445.4,242.4h2.5v1.4h-2.5zM449.4,242.1h2.5v1.7h-2.5zM453.4,241.9h2.5v1.9h-2.5zM457.4,242.5h2.5v1.3h-2.5zM461.4,242h2.5v1.8h-2.5zM465.4,242.1h2.5v1.7h-2.5zM469.4,241.3h2.5v2.5h-2.5zM473.3,242.1h2.5v1.7h-2.5zM477.3,242.4h2.5v1.4h-2.5zM481.3,242.2h2.5v1.6h-2.5zM485.3,242.1h2.5v1.7h-2.5zM489.3,241.9h2.5v1.9h-2.5zM493.3,242.3h2.5v1.5h-2.5zM497.3,242.4h2.5v1.4h-2.5zM501.3,242.4h2.5v1.4h-2.5zM505.3,242.4h2.5v1.4h-2.5zM509.2,242h2.5v1.8h-2.5z" fill="#d8e824"/><path d="M12.5,243.8l7.8,-6.1v-1.6l-7.8,6.1zM16.5,243.8l7.8,-6.1v-2l-7.8,6.1zM20.5,243.8l7.8,-6.1v-1.8l-7.8,6.1zM24.5,243.8l7.8,-6.1v-1.6l-7.8,6.1zM28.5,243.8l7.8,-6.1v-2.1l-7.8,6.1zM32.5,243.8l7.8,-6.1v-1.8l-7.8,6.1zM36.4,243.8l7.8,-6.1v-1.8l-7.8,6.1zM40.4,243.8l7.8,-6.1v-2.1l-7.8,6.1zM44.4,243.8l7.8,-6.1v-1.7l-7.8,6.1zM48.4,243.8l7.8,-6.1v-1.7l-7.8,6.1zM52.4,243.8l7.8,-6.1v-2.1l-7.8,6.1zM56.4,243.8l7.8,-6.1v-2l-7.8,6.1zM60.4,243.8l7.8,-6.1v-2l-7.8,6.1zM64.4,243.8l7.8,-6.1v-2.9l-7.8,6.1zM68.4,243.8l7.8,-6.1v-2.1l-7.8,6.1zM72.3,243.8l7.8,-6.1v-1.8l-7.8,6.1zM76.3,243.8l7.8,-6.1v-1.7l-7.8,6.1zM80.3,243.8l7.8,-6.1v-1.5l-7.8,6.1zM84.3,243.8l7.8,-6.1v-1.8l-7.8,6.1zM88.3,243.8l7.8,-6.1v-2.5l-7.8,6.1zM92.3,243.8l7.8,-6.1v-2l-7.8,6.1zM96.3,243.8l7.8,-6.1v-1.9l-7.8,6.1zM100.3,243.8l7.8,-6.1v-2l-7.8,6.1zM104.3,243.8l7.8,-6.1v-1.5l-7.8,6.1zM108.3,243.8l7.8,-6.1v-1.7l-7.8,6.1zM112.2,243.8l7.8,-6.1v-1.7l-7.8,6.1zM116.2,243.8l7.8,-6.1v-2.1l-7.8,6.1zM120.2,243.8l7.8,-6.1v-1.7l-7.8,6.1zM124.2,243.8l7.8,-6.1v-1.8l-7.8,6.1zM128.2,243.8l7.8,-6.1v-1.7l-7.8,6.1zM132.2,243.8l7.8,-6.1v-1.9l-7.8,6.1zM136.2,243.8l7.8,-6.1v-1.9l-7.8,6.1zM140.2,243.8l7.8,-6.1v-1.8l-7.8,6.1zM144.2,243.8l7.8,-6.1v-1.8l-7.8,6.1zM148.2,243.8l7.8,-6.1v-1.6l-7.8,6.1zM152.2,243.8l7.8,-6.1v-1.6l-7.8,6.1zM156.1,243.8l7.8,-6.1v-1.7l-7.8,6.1zM160.1,243.8l7.8,-6.1v-1.6l-7.8,6.1zM164.1,243.8l7.8,-6.1v-1.8l-7.8,6.1zM168.1,243.8l7.8,-6.1v-1.9l-7.8,6.1zM172.1,243.8l7.8,-6.1v-1.9l-7.8,6.1zM176.1,243.8l7.8,-6.1v-1.9l-7.8,6.1zM180.1,243.8l7.8,-6.1v-1.8l-7.8,6.1zM184.1,243.8l7.8,-6.1v-1.8l-7.8,6.1zM188.1,243.8l7.8,-6.1v-1.6l-7.8,6.1zM192.1,243.8l7.8,-6.1v-1.8l-7.8,6.1zM196,243.8l7.8,-6.1v-1.9l-7.8,6.1zM200,243.8l7.8,-6.1v-2.7l-7.8,6.1zM204,243.8l7.8,-6.1v-1.6l-7.8,6.1zM208,243.8l7.8,-6.1v-1.8l-7.8,6.1zM212,243.8l7.8,-6.1v-2.1l-7.8,6.1zM216,243.8l7.8,-6.1v-2l-7.8,6.1zM220,243.8l7.8,-6.1v-1.5l-7.8,6.1zM224,243.8l7.8,-6.1v-1.8l-7.8,6.1zM228,243.8l7.8,-6.1v-2.8l-7.8,6.1zM232,243.8l7.8,-6.1v-1.9l-7.8,6.1zM235.9,243.8l7.8,-6.1v-1.6l-7.8,6.1zM239.9,243.8l7.8,-6.1v-1.9l-7.8,6.1zM243.9,243.8l7.8,-6.1v-1.7l-7.8,6.1zM247.9,243.8l7.8,-6.1v-1.9l-7.8,6.1zM251.9,243.8l7.8,-6.1v-2l-7.8,6.1zM255.9,243.8l7.8,-6.1v-1.8l-7.8,6.1zM259.9,243.8l7.8,-6.1v-1.9l-7.8,6.1zM263.9,243.8l7.8,-6.1v-1.8l-7.8,6.1zM267.9,243.8l7.8,-6.1v-1.9l-7.8,6.1zM271.9,243.8l7.8,-6.1v-1.6l-7.8,6.1zM275.8,243.8l7.8,-6.1v-1.5l-7.8,6.1zM279.8,243.8l7.8,-6.1v-1.9l-7.8,6.1zM283.8,243.8l7.8,-6.1v-2.1l-7.8,6.1zM287.8,243.8l7.8,-6.1v-1.8l-7.8,6.1zM291.8,243.8l7.8,-6.1v-2l-7.8,6.1zM295.8,243.8l7.8,-6.1v-1.7l-7.8,6.1zM299.8,243.8l7.8,-6.1v-1.8l-7.8,6.1zM303.8,243.8l7.8,-6.1v-1.7l-7.8,6.1zM307.8,243.8l7.8,-6.1v-1.8l-7.8,6.1zM311.8,243.8l7.8,-6.1v-1.7l-7.8,6.1zM315.7,243.8l7.8,-6.1v-2l-7.8,6.1zM319.7,243.8l7.8,-6.1v-1.8l-7.8,6.1zM323.7,243.8l7.8,-6.1v-1.7l-7.8,6.1zM327.7,243.8l7.8,-6.1v-1.8l-7.8,6.1zM331.7,243.8l7.8,-6.1v-1.6l-7.8,6.1zM335.7,243.8l7.8,-6.1v-1.7l-7.8,6.1zM339.7,243.8l7.8,-6.1v-2l-7.8,6.1zM343.7,243.8l7.8,-6.1v-1.6l-7.8,6.1zM347.7,243.8l7.8,-6.1v-2l-7.8,6.1zM351.7,243.8l7.8,-6.1v-2.4l-7.8,6.1zM355.6,243.8l7.8,-6.1v-1.8l-7.8,6.1zM359.6,243.8l7.8,-6.1v-2l-7.8,6.1zM363.6,243.8l7.8,-6.1v-2.1l-7.8,6.1zM367.6,243.8l7.8,-6.1v-1.8l-7.8,6.1zM371.6,243.8l7.8,-6.1v-1.7l-7.8,6.1zM375.6,243.8l7.8,-6.1v-1.9l-7.8,6.1zM379.6,243.8l7.8,-6.1v-2.1l-7.8,6.1zM383.6,243.8l7.8,-6.1v-1.8l-7.8,6.1zM387.6,243.8l7.8,-6.1v-1.7l-7.8,6.1zM391.6,243.8l7.8,-6.1v-1.8l-7.8,6.1zM395.5,243.8l7.8,-6.1v-2l-7.8,6.1zM399.5,243.8l7.8,-6.1v-1.8l-7.8,6.1zM403.5,243.8l7.8,-6.1v-1.9l-7.8,6.1zM407.5,243.8l7.8,-6.1v-1.7l-7.8,6.1zM411.5,243.8l7.8,-6.1v-2l-7.8,6.1zM415.5,243.8l7.8,-6.1v-1.7l-7.8,6.1zM419.5,243.8l7.8,-6.1v-2l-7.8,6.1zM423.5,243.8l7.8,-6.1v-1.6l-7.8,6.1zM427.5,243.8l7.8,-6.1v-1.9l-7.8,6.1zM431.5,243.8l7.8,-6.1v-2.1l-7.8,6.1zM435.4,243.8l7.8,-6.1v-1.8l-7.8,6.1zM439.4,243.8l7.8,-6.1v-1.7l-7.8,6.1zM443.4,243.8l7.8,-6.1v-1.8l-7.8,6.1zM447.4,243.8l7.8,-6.1v-1.6l-7.8,6.1zM451.4,243.8l7.8,-6.1v-1.9l-7.8,6.1zM455.4,243.8l7.8,-6.1v-2.1l-7.8,6.1zM459.4,243.8l7.8,-6.1v-1.5l-7.8,6.1zM463.4,243.8l7.8,-6.1v-2l-7.8,6.1zM467.4,243.8l7.8,-6.1v-1.9l-7.8,6.1zM471.4,243.8l7.8,-6.1v-2.7l-7.8,6.1zM475.3,243.8l7.8,-6.1v-1.9l-7.8,6.1zM479.3,243.8l7.8,-6.1v-1.6l-7.8,6.1zM483.3,243.8l7.8,-6.1v-1.8l-7.8,6.1zM487.3,243.8l7.8,-6.1v-1.9l-7.8,6.1zM491.3,243.8l7.8,-6.1v-2.1l-7.8,6.1zM495.3,243.8l7.8,-6.1v-1.7l-7.8,6.1zM499.3,243.8l7.8,-6.1v-1.6l-7.8,6.1zM503.3,243.8l7.8,-6.1v-1.6l-7.8,6.1zM507.3,243.8l7.8,-6.1v-1.6l-7.8,6.1zM511.2,243.8l7.8,-6.1v-2l-7.8,6.1z" fill="#98ae18"/><path d="M10.5,242.9h2.0l7.8,-6.1h-2.0zM14.5,242.5h2.0l7.8,-6.1h-2.0zM18.5,242.7h2.0l7.8,-6.1h-2.0zM22.5,242.9h2.0l7.8,-6.1h-2.0zM26.5,242.4h2.0l7.8,-6.1h-2.0zM30.5,242.7h2.0l7.8,-6.1h-2.0zM34.4,242.7h2.0l7.8,-6.1h-2.0zM38.4,242.4h2.0l7.8,-6.1h-2.0zM42.4,242.8h2.0l7.8,-6.1h-2.0zM46.4,242.8h2.0l7.8,-6.1h-2.0zM50.4,242.4h2.0l7.8,-6.1h-2.0zM54.4,242.5h2.0l7.8,-6.1h-2.0zM58.4,242.5h2.0l7.8,-6.1h-2.0zM62.4,241.6h2.0l7.8,-6.1h-2.0zM66.4,242.4h2.0l7.8,-6.1h-2.0zM70.3,242.7h2.0l7.8,-6.1h-2.0zM74.3,242.8h2.0l7.8,-6.1h-2.0zM78.3,243h2.0l7.8,-6.1h-2.0zM82.3,242.7h2.0l7.8,-6.1h-2.0zM86.3,242h2.0l7.8,-6.1h-2.0zM90.3,242.5h2.0l7.8,-6.1h-2.0zM94.3,242.6h2.0l7.8,-6.1h-2.0zM98.3,242.5h2.0l7.8,-6.1h-2.0zM102.3,243h2.0l7.8,-6.1h-2.0zM106.3,242.8h2.0l7.8,-6.1h-2.0zM110.2,242.8h2.0l7.8,-6.1h-2.0zM114.2,242.4h2.0l7.8,-6.1h-2.0zM118.2,242.8h2.0l7.8,-6.1h-2.0zM122.2,242.7h2.0l7.8,-6.1h-2.0zM126.2,242.8h2.0l7.8,-6.1h-2.0zM130.2,242.6h2.0l7.8,-6.1h-2.0zM134.2,242.6h2.0l7.8,-6.1h-2.0zM138.2,242.7h2.0l7.8,-6.1h-2.0zM142.2,242.7h2.0l7.8,-6.1h-2.0zM146.2,242.9h2.0l7.8,-6.1h-2.0zM150.2,242.9h2.0l7.8,-6.1h-2.0zM154.1,242.8h2.0l7.8,-6.1h-2.0zM158.1,242.9h2.0l7.8,-6.1h-2.0zM162.1,242.7h2.0l7.8,-6.1h-2.0zM166.1,242.6h2.0l7.8,-6.1h-2.0zM170.1,242.6h2.0l7.8,-6.1h-2.0zM174.1,242.6h2.0l7.8,-6.1h-2.0zM178.1,242.7h2.0l7.8,-6.1h-2.0zM182.1,242.7h2.0l7.8,-6.1h-2.0zM186.1,242.9h2.0l7.8,-6.1h-2.0zM190.1,242.7h2.0l7.8,-6.1h-2.0zM194,242.6h2.0l7.8,-6.1h-2.0zM198,241.8h2.0l7.8,-6.1h-2.0zM202,242.9h2.0l7.8,-6.1h-2.0zM206,242.7h2.0l7.8,-6.1h-2.0zM210,242.4h2.0l7.8,-6.1h-2.0zM214,242.5h2.0l7.8,-6.1h-2.0zM218,243h2.0l7.8,-6.1h-2.0zM222,242.7h2.0l7.8,-6.1h-2.0zM226,241.7h2.0l7.8,-6.1h-2.0zM230,242.6h2.0l7.8,-6.1h-2.0zM233.9,242.9h2.0l7.8,-6.1h-2.0zM237.9,242.6h2.0l7.8,-6.1h-2.0zM241.9,242.8h2.0l7.8,-6.1h-2.0zM245.9,242.6h2.0l7.8,-6.1h-2.0zM249.9,242.5h2.0l7.8,-6.1h-2.0zM253.9,242.7h2.0l7.8,-6.1h-2.0zM257.9,242.6h2.0l7.8,-6.1h-2.0zM261.9,242.7h2.0l7.8,-6.1h-2.0zM265.9,242.6h2.0l7.8,-6.1h-2.0zM269.9,242.9h2.0l7.8,-6.1h-2.0zM273.8,243h2.0l7.8,-6.1h-2.0zM277.8,242.6h2.0l7.8,-6.1h-2.0zM281.8,242.4h2.0l7.8,-6.1h-2.0zM285.8,242.7h2.0l7.8,-6.1h-2.0zM289.8,242.5h2.0l7.8,-6.1h-2.0zM293.8,242.8h2.0l7.8,-6.1h-2.0zM297.8,242.7h2.0l7.8,-6.1h-2.0zM301.8,242.8h2.0l7.8,-6.1h-2.0zM305.8,242.7h2.0l7.8,-6.1h-2.0zM309.8,242.8h2.0l7.8,-6.1h-2.0zM313.7,242.5h2.0l7.8,-6.1h-2.0zM317.7,242.7h2.0l7.8,-6.1h-2.0zM321.7,242.8h2.0l7.8,-6.1h-2.0zM325.7,242.7h2.0l7.8,-6.1h-2.0zM329.7,242.9h2.0l7.8,-6.1h-2.0zM333.7,242.8h2.0l7.8,-6.1h-2.0zM337.7,242.5h2.0l7.8,-6.1h-2.0zM341.7,242.9h2.0l7.8,-6.1h-2.0zM345.7,242.5h2.0l7.8,-6.1h-2.0zM349.7,242.1h2.0l7.8,-6.1h-2.0zM353.6,242.7h2.0l7.8,-6.1h-2.0zM357.6,242.5h2.0l7.8,-6.1h-2.0zM361.6,242.4h2.0l7.8,-6.1h-2.0zM365.6,242.7h2.0l7.8,-6.1h-2.0zM369.6,242.8h2.0l7.8,-6.1h-2.0zM373.6,242.6h2.0l7.8,-6.1h-2.0zM377.6,242.4h2.0l7.8,-6.1h-2.0zM381.6,242.7h2.0l7.8,-6.1h-2.0zM385.6,242.8h2.0l7.8,-6.1h-2.0zM389.6,242.7h2.0l7.8,-6.1h-2.0zM393.5,242.5h2.0l7.8,-6.1h-2.0zM397.5,242.7h2.0l7.8,-6.1h-2.0zM401.5,242.6h2.0l7.8,-6.1h-2.0zM405.5,242.8h2.0l7.8,-6.1h-2.0zM409.5,242.5h2.0l7.8,-6.1h-2.0zM413.5,242.8h2.0l7.8,-6.1h-2.0zM417.5,242.5h2.0l7.8,-6.1h-2.0zM421.5,242.9h2.0l7.8,-6.1h-2.0zM425.5,242.6h2.0l7.8,-6.1h-2.0zM429.5,242.4h2.0l7.8,-6.1h-2.0zM433.4,242.7h2.0l7.8,-6.1h-2.0zM437.4,242.8h2.0l7.8,-6.1h-2.0zM441.4,242.7h2.0l7.8,-6.1h-2.0zM445.4,242.9h2.0l7.8,-6.1h-2.0zM449.4,242.6h2.0l7.8,-6.1h-2.0zM453.4,242.4h2.0l7.8,-6.1h-2.0zM457.4,243h2.0l7.8,-6.1h-2.0zM461.4,242.5h2.0l7.8,-6.1h-2.0zM465.4,242.6h2.0l7.8,-6.1h-2.0zM469.4,241.8h2.0l7.8,-6.1h-2.0zM473.3,242.6h2.0l7.8,-6.1h-2.0zM477.3,242.9h2.0l7.8,-6.1h-2.0zM481.3,242.7h2.0l7.8,-6.1h-2.0zM485.3,242.6h2.0l7.8,-6.1h-2.0zM489.3,242.4h2.0l7.8,-6.1h-2.0zM493.3,242.8h2.0l7.8,-6.1h-2.0zM497.3,242.9h2.0l7.8,-6.1h-2.0zM501.3,242.9h2.0l7.8,-6.1h-2.0zM505.3,242.9h2.0l7.8,-6.1h-2.0zM509.2,242.5h2.0l7.8,-6.1h-2.0z" fill="#aabe22"/></g></g><text x="302.7" y="86.8" font-size="11.6" textLength="30.1" lengthAdjust="spacingAndGlyphs">R45C</text><text x="385.9" y="20.7" font-size="11.6" textLength="30.0" lengthAdjust="spacingAndGlyphs">R66H</text><text x="515.0" y="20.9" font-size="11.6" textLength="24.2" lengthAdjust="spacingAndGlyphs">I98V</text><text x="569.1" y="109.1" font-size="11.6" textLength="37.3" lengthAdjust="spacingAndGlyphs">Y113H</text><text x="525.5" y="247.0" font-size="11.8" text-anchor="start">Pre</text><text x="547" y="235" font-size="11.8" text-anchor="middle">1</text><text x="563.3" y="222.6" font-size="11.8" text-anchor="middle">2</text><text x="579.2" y="211.0" font-size="11.8" text-anchor="middle">3</text><text x="595.3" y="199.0" font-size="11.8" text-anchor="middle">4</text><text x="610.6" y="187.4" font-size="11.8" text-anchor="middle">5</text><text x="627.0" y="175.5" font-size="11.8" text-anchor="middle">6</text><text x="639.4" y="163.2" font-size="11.8" text-anchor="middle">7</text><text x="653.3" y="151.4" font-size="11.8" text-anchor="middle">8</text><g transform="translate(583.5,235.5) rotate(-39)"><text x="0" y="0" font-size="11.8" textLength="73.3" lengthAdjust="spacingAndGlyphs">AHEAD cycle</text></g><line x1="642.3" y1="179.7" x2="655" y2="169.3" stroke="#000" stroke-width="1.1"/><polygon points="658.6,166.4 651.6,168.6 655.5,172.9" fill="#000"/><text x="31.1" y="260.3" font-size="11.8" textLength="105.7" lengthAdjust="spacingAndGlyphs">Amino acid number</text><line x1="142.6" y1="256" x2="198" y2="256" stroke="#000" stroke-width="1.1"/><polygon points="202,256 196,253.3 196,258.7" fill="#000"/><text x="-0.6" y="301" font-size="14" font-weight="bold">b</text><text x="43.8" y="323.7" font-size="11.8" textLength="15.3" lengthAdjust="spacingAndGlyphs">Nb</text><line x1="34.4" y1="331.8" x2="66.8" y2="331.8" stroke="#000" stroke-width="1.7"/><text x="165.8" y="323.7" font-size="11.8" textLength="36.6" lengthAdjust="spacingAndGlyphs">Affinity</text><line x1="118.8" y1="331.8" x2="249.5" y2="331.8" stroke="#000" stroke-width="1.7"/><text x="310.6" y="323.7" font-size="11.8" textLength="73.3" lengthAdjust="spacingAndGlyphs">AHEAD cycle</text><line x1="301.2" y1="331.8" x2="394.0" y2="331.8" stroke="#000" stroke-width="1.7"/><text x="406.5" y="323.7" font-size="12.2">IC<tspan font-size="8.5" dy="3.7">50(nM)</tspan></text><line x1="400.3" y1="331.8" x2="451" y2="331.8" stroke="#000" stroke-width="1.7"/><line x1="82.6" y1="340" x2="82.6" y2="505.5" stroke="#8a8a8a" stroke-width="1"/><line x1="82.1" y1="505.5" x2="297.7" y2="505.5" stroke="#8a8a8a" stroke-width="1"/><line x1="132.3" y1="505.5" x2="132.3" y2="512.5" stroke="#8a8a8a" stroke-width="1"/><text x="132.3" y="526.7" font-size="12" text-anchor="middle">−7</text><line x1="231.9" y1="505.5" x2="231.9" y2="512.5" stroke="#8a8a8a" stroke-width="1"/><text x="231.9" y="526.7" font-size="12" text-anchor="middle">−8</text><text x="151.8" y="546.8" font-size="12.2">log<tspan font-size="8.5" dy="3.3">10</tspan><tspan dy="-3.3">[IC</tspan><tspan font-size="8.5" dy="3.3">50</tspan><tspan dy="-3.3"> (M)]</tspan></text><line x1="76" y1="358.4" x2="82.6" y2="358.4" stroke="#8a8a8a" stroke-width="1"/><text x="34.5" y="362.7" font-size="11.6" textLength="35.9" lengthAdjust="spacingAndGlyphs">AT110</text><rect x="83.4" y="350.8" width="82.6" height="15.2" fill="#d92b1c" stroke="#000" stroke-width="1.5"/><line x1="156.4" y1="358.4" x2="175.1" y2="358.4" stroke="#000" stroke-width="2.0"/><rect x="156.1" y="355.9" width="2.6" height="5" fill="#000"/><rect x="172.79999999999998" y="355.9" width="2.6" height="5" fill="#000"/><text x="347.8" y="363.0" font-size="12" text-anchor="middle">NA</text><text x="426.2" y="363.0" font-size="12" text-anchor="middle">50</text><line x1="76" y1="384.4" x2="82.6" y2="384.4" stroke="#8a8a8a" stroke-width="1"/><text x="12.5" y="388.7" font-size="11.6" textLength="57.9" lengthAdjust="spacingAndGlyphs">AT110i101</text><rect x="83.4" y="376.8" width="131.6" height="15.2" fill="#e64a1c" stroke="#000" stroke-width="1.5"/><text x="86.8" y="388.5" font-size="11.4" textLength="23.7" lengthAdjust="spacingAndGlyphs" fill="#fff">I98V</text><line x1="206.6" y1="384.4" x2="223.3" y2="384.4" stroke="#000" stroke-width="2.0"/><rect x="206.29999999999998" y="381.9" width="2.6" height="5" fill="#000"/><rect x="221.0" y="381.9" width="2.6" height="5" fill="#000"/><text x="347.8" y="389.0" font-size="12" text-anchor="middle">4</text><text x="426.2" y="389.0" font-size="12" text-anchor="middle">15</text><line x1="76" y1="410.4" x2="82.6" y2="410.4" stroke="#8a8a8a" stroke-width="1"/><text x="12.5" y="414.7" font-size="11.6" textLength="57.9" lengthAdjust="spacingAndGlyphs">AT110i102</text><rect x="83.4" y="402.8" width="172.9" height="15.2" fill="#f07a2a" stroke="#000" stroke-width="1.5"/><text x="86.8" y="414.5" font-size="11.4" textLength="62.6" lengthAdjust="spacingAndGlyphs" fill="#fff">R66H, I98V</text><rect x="255.10000000000002" y="408.6" width="2.6" height="3.6" fill="#000"/><text x="347.8" y="415.0" font-size="12" text-anchor="middle">6</text><text x="426.2" y="415.0" font-size="12" text-anchor="middle">5</text><line x1="76" y1="436.4" x2="82.6" y2="436.4" stroke="#8a8a8a" stroke-width="1"/><text x="12.5" y="440.7" font-size="11.6" textLength="57.9" lengthAdjust="spacingAndGlyphs">AT110i103</text><rect x="83.4" y="428.8" width="205.2" height="15.2" fill="#f8aa1a" stroke="#000" stroke-width="1.5"/><text x="86.8" y="440.5" font-size="11.4" textLength="107.5" lengthAdjust="spacingAndGlyphs" fill="#2a2a2a">R66H, I98V, Y113H</text><rect x="287.40000000000003" y="434.6" width="2.6" height="3.6" fill="#000"/><text x="347.8" y="441.0" font-size="12" text-anchor="middle">8</text><text x="426.2" y="441.0" font-size="12" text-anchor="middle">2.5</text><line x1="76" y1="462.4" x2="82.6" y2="462.4" stroke="#8a8a8a" stroke-width="1"/><text x="12.5" y="466.7" font-size="11.6" textLength="57.9" lengthAdjust="spacingAndGlyphs">AT110i104</text><rect x="83.4" y="454.8" width="96.3" height="15.2" fill="#c8c8c8" stroke="#000" stroke-width="1.5"/><text x="86.8" y="466.5" font-size="11.4" textLength="30.4" lengthAdjust="spacingAndGlyphs" fill="#2a2a2a">R66H</text><line x1="172.7" y1="462.4" x2="186.7" y2="462.4" stroke="#000" stroke-width="2.0"/><rect x="172.39999999999998" y="459.9" width="2.6" height="5" fill="#000"/><rect x="184.39999999999998" y="459.9" width="2.6" height="5" fill="#000"/><text x="347.8" y="467.0" font-size="12" text-anchor="middle">NA</text><text x="426.2" y="467.0" font-size="12" text-anchor="middle">31</text><line x1="76" y1="488.4" x2="82.6" y2="488.4" stroke="#8a8a8a" stroke-width="1"/><text x="12.5" y="492.7" font-size="11.6" textLength="57.9" lengthAdjust="spacingAndGlyphs">AT110i105</text><rect x="83.4" y="480.8" width="67.8" height="15.2" fill="#c8c8c8" stroke="#000" stroke-width="1.5"/><text x="86.8" y="492.5" font-size="11.4" textLength="36.2" lengthAdjust="spacingAndGlyphs" fill="#2a2a2a">Y113H</text><line x1="144.2" y1="488.4" x2="158.2" y2="488.4" stroke="#000" stroke-width="2.0"/><rect x="143.89999999999998" y="485.9" width="2.6" height="5" fill="#000"/><rect x="155.89999999999998" y="485.9" width="2.6" height="5" fill="#000"/><text x="347.8" y="493.0" font-size="12" text-anchor="middle">NA</text><text x="426.2" y="493.0" font-size="12" text-anchor="middle">63</text><line x1="301.1" y1="449.3" x2="451.5" y2="449.3" stroke="#000" stroke-width="1.7" stroke-dasharray="9.9 3.75"/><g fill="none" stroke-linejoin="round" stroke-linecap="round"><path d="M482.6,501.3 482.6,500.3 482.4,498.4 482,495.7 481.6,492.7 481.4,489.7 481.6,487.2 482.2,485.5 483.3,484.8 490,482.1 488.9,482.8 488.3,484.5 488.1,487 488.3,490 488.7,493 489.1,495.7 489.3,497.7 489.3,498.6ZM494.7,496.5 494.7,495.5 494.5,493.6 494.1,490.9 493.7,487.9 493.5,484.9 493.7,482.4 494.3,480.7 495.4,480 502.1,477.3 501,478 500.4,479.7 500.2,482.2 500.4,485.2 500.7,488.2 501.2,490.9 501.4,492.9 501.4,493.8ZM506.8,491.7 506.8,490.7 506.5,488.7 506.1,486.1 505.8,483 505.6,480.1 505.8,477.5 506.4,475.8 507.5,475.2 514.2,472.5 513.1,473.2 512.5,474.9 512.3,477.4 512.5,480.4 512.8,483.4 513.2,486.1 513.5,488 513.5,489ZM518.9,486.9 518.9,485.9 518.6,483.9 518.2,481.2 517.8,478.2 517.7,475.2 517.9,472.7 518.5,471 519.6,470.4 526.3,467.7 525.2,468.4 524.6,470.1 524.4,472.6 524.5,475.5 524.9,478.6 525.3,481.3 525.6,483.2 525.6,484.2ZM531,482.1 531,481.1 530.7,479.1 530.3,476.4 529.9,473.4 529.8,470.4 530,467.9 530.6,466.2 531.7,465.6 538.4,462.9 537.3,463.6 536.7,465.3 536.5,467.8 536.6,470.7 537,473.8 537.4,476.4 537.7,478.4 537.6,479.4ZM543,477.3 543.1,476.3 542.8,474.3 542.4,471.6 549.1,468.9 549.5,471.6 549.7,473.6 549.7,474.6Z" fill="#e4e4ef" stroke="#c8c8da" stroke-width="0.8"/><path d="M472.3,490.1 474.1,491.4 476,493.5 477.9,495.9 479.6,498.3 480.9,500.2 481.8,501.3 482.2,501.4 489.7,498.5 489.2,498.4 488.3,497.3 487,495.3 485.3,493 483.5,490.5 481.5,488.5 479.8,487.1ZM482.9,484.9 484.4,485.3 486.2,486.6 488.1,488.7 490,491.1 491.7,493.5 493,495.4 493.9,496.5 494.3,496.6 501.8,493.7 501.3,493.6 500.4,492.5 499.1,490.6 497.4,488.2 495.6,485.8 493.6,483.7 491.9,482.3 490.4,482ZM495,480.1 496.5,480.5 498.3,481.9 500.2,483.9 502.1,486.4 503.8,488.7 505.1,490.7 506,491.8 506.4,491.8 513.8,488.9 513.4,488.8 512.5,487.7 511.2,485.8 509.5,483.4 507.7,481 505.7,478.9 504,477.5 502.5,477.2ZM507.1,475.3 508.6,475.7 510.4,477.1 512.3,479.2 514.2,481.6 515.9,484 517.2,485.9 518.1,487 518.5,487 525.9,484.1 525.5,484 524.6,482.9 523.3,481 521.6,478.6 519.8,476.2 517.8,474.1 516.1,472.8 514.6,472.4ZM519.2,470.5 520.7,470.9 522.5,472.3 524.4,474.4 526.3,476.8 528,479.2 529.3,481.1 530.2,482.2 530.6,482.2 538,479.3 537.6,479.2 536.7,478.1 535.4,476.2 533.7,473.9 531.9,471.4 529.9,469.3 528.2,468 526.7,467.6ZM531.3,465.7 532.8,466.1 534.6,467.5 536.5,469.6 538.4,472 540.1,474.4 541.4,476.3 542.2,477.4 542.7,477.4 550.1,474.5 549.7,474.4 548.8,473.3 547.5,471.5 545.8,469.1 544,466.6 542,464.6 540.2,463.2 538.8,462.8Z" fill="#f5f5fb" stroke="#c8c8da" stroke-width="0.8"/><path d="M475.4,490.9 477.3,493 479.2,495.4 480.9,497.8 482.2,499.7 483.1,500.8 485.3,499.9 484.4,498.8 483.1,496.9 481.4,494.5 479.6,492.1 477.6,490ZM485.7,484.8 487.5,486.1 489.4,488.2 491.3,490.6 493,493 494.3,494.9 495.2,496 497.4,495.1 496.5,494 495.2,492.1 493.5,489.7 491.7,487.3 489.7,485.2 488,483.9ZM497.8,480 499.6,481.3 501.5,483.4 503.4,485.8 505.1,488.2 506.4,490.1 507.3,491.2 509.5,490.4 508.6,489.2 507.3,487.3 505.6,485 503.8,482.5 501.8,480.5 500.1,479.1ZM509.9,475.2 511.7,476.6 513.6,478.6 515.5,481.1 517.2,483.4 518.5,485.3 519.4,486.4 521.6,485.6 520.7,484.5 519.4,482.6 517.7,480.2 515.9,477.8 513.9,475.7 512.2,474.3ZM522,470.4 523.8,471.8 525.7,473.9 527.6,476.3 529.3,478.7 530.6,480.6 531.5,481.7 533.7,480.8 532.8,479.7 531.5,477.8 529.8,475.4 527.9,473 526,470.9 524.2,469.5ZM534.1,465.6 535.9,467 537.8,469.1 539.7,471.5 541.4,473.9 542.7,475.8 543.5,476.9 545.8,476 544.9,474.9 543.6,473 541.9,470.6 540,468.2 538.1,466.1 536.3,464.7Z" fill="#ffffff" fill-opacity="0.75" stroke="none"/><path d="M480.9,526.5 481.3,525.5 481.7,523.5 482.4,520.9 483.1,517.9 484.1,515.1 485.2,512.9 486.4,511.6 487.7,511.5 494.9,511.5 493.6,511.6 492.4,512.9 491.3,515.1 490.3,517.9 489.6,520.9 488.9,523.5 488.5,525.5 488.1,526.5ZM493.9,526.5 494.3,525.5 494.7,523.5 495.4,520.9 496.1,517.9 497.1,515.1 498.2,512.9 499.4,511.6 500.7,511.5 507.9,511.5 506.6,511.6 505.4,512.9 504.3,515.1 503.3,517.9 502.6,520.9 501.9,523.5 501.5,525.5 501.1,526.5ZM506.9,526.5 507.3,525.5 507.7,523.5 508.4,520.9 509.1,517.9 510.1,515.1 511.2,512.9 512.4,511.6 513.7,511.5 520.9,511.5 519.6,511.6 518.4,512.9 517.3,515.1 516.3,517.9 515.6,520.9 514.9,523.5 514.5,525.5 514.1,526.5ZM519.9,526.5 520.3,525.5 520.7,523.5 521.4,520.9 522.1,517.9 523.1,515.1 524.2,512.9 525.4,511.6 526.7,511.5 533.9,511.5 532.6,511.6 531.4,512.9 530.3,515.1 529.3,517.9 528.6,520.9 527.9,523.5 527.5,525.5 527.1,526.5ZM532.9,526.5 533.3,525.5 533.7,523.5 534.4,520.9 535.1,517.9 536.1,515.1 537.2,512.9 538.4,511.6 539.7,511.5 546.9,511.5 545.6,511.6 544.4,512.9 543.3,515.1 542.3,517.9 541.6,520.9 540.9,523.5 540.5,525.5 540.1,526.5Z" fill="#e4e4ef" stroke="#c8c8da" stroke-width="0.8"/><path d="M479.7,525.1 480.1,526.4 480.5,526.5 488.5,526.5 488.1,526.4 487.7,525.1ZM487.3,511.5 488.5,512.5 489.7,514.5 490.7,517.1 491.5,520.1 492.2,522.9 492.7,525.1 493.1,526.4 493.5,526.5 501.5,526.5 501.1,526.4 500.7,525.1 500.2,522.9 499.5,520.1 498.7,517.1 497.7,514.5 496.5,512.5 495.3,511.5ZM500.3,511.5 501.5,512.5 502.7,514.5 503.7,517.1 504.5,520.1 505.2,522.9 505.7,525.1 506.1,526.4 506.5,526.5 514.5,526.5 514.1,526.4 513.7,525.1 513.2,522.9 512.5,520.1 511.7,517.1 510.7,514.5 509.5,512.5 508.3,511.5ZM513.3,511.5 514.5,512.5 515.7,514.5 516.7,517.1 517.5,520.1 518.2,522.9 518.7,525.1 519.1,526.4 519.5,526.5 527.5,526.5 527.1,526.4 526.7,525.1 526.2,522.9 525.5,520.1 524.7,517.1 523.7,514.5 522.5,512.5 521.3,511.5ZM526.3,511.5 527.5,512.5 528.7,514.5 529.7,517.1 530.5,520.1 531.2,522.9 531.7,525.1 532.1,526.4 532.5,526.5 540.5,526.5 540.1,526.4 539.7,525.1 539.2,522.9 538.5,520.1 537.7,517.1 536.7,514.5 535.5,512.5 534.3,511.5ZM539.3,511.5 540.5,512.5 541.7,514.5 542.7,517.1 543.5,520.1 544.2,522.9 544.7,525.1 552.7,525.1 552.2,522.9 551.5,520.1 550.7,517.1 549.7,514.5 548.5,512.5 547.3,511.5Z" fill="#f5f5fb" stroke="#c8c8da" stroke-width="0.8"/><path d="M482.5,525.1 482.9,526.4 483.3,526.5 485.7,526.5 485.3,526.4 484.9,525.1ZM489.9,512.5 491.1,514.5 492.1,517.1 492.9,520.1 493.6,522.9 494.1,525.1 494.5,526.4 496.9,526.4 496.5,525.1 496,522.9 495.3,520.1 494.5,517.1 493.5,514.5 492.3,512.5ZM502.9,512.5 504.1,514.5 505.1,517.1 505.9,520.1 506.6,522.9 507.1,525.1 507.5,526.4 509.9,526.4 509.5,525.1 509,522.9 508.3,520.1 507.5,517.1 506.5,514.5 505.3,512.5ZM515.9,512.5 517.1,514.5 518.1,517.1 518.9,520.1 519.6,522.9 520.1,525.1 520.5,526.4 522.9,526.4 522.5,525.1 522,522.9 521.3,520.1 520.5,517.1 519.5,514.5 518.3,512.5ZM528.9,512.5 530.1,514.5 531.1,517.1 531.9,520.1 532.6,522.9 533.1,525.1 533.5,526.4 535.9,526.4 535.5,525.1 535,522.9 534.3,520.1 533.5,517.1 532.5,514.5 531.3,512.5ZM541.9,512.5 543.1,514.5 544.1,517.1 544.9,520.1 545.6,522.9 548,522.9 547.3,520.1 546.5,517.1 545.5,514.5 544.3,512.5Z" fill="#ffffff" fill-opacity="0.75" stroke="none"/><path d="M481.8,514 481.8,512.4 481.8,510 481.8,507 482,504 482.4,501.2 483.1,499.2 484.2,498.2 485.5,498.3 492.5,496.6 491.2,496.5 490.2,497.5 489.4,499.6 489,502.3 488.8,505.4 488.8,508.3 488.8,510.8 488.8,512.3ZM494.4,510.9 494.5,509.3 494.5,506.8 494.5,503.9 494.7,500.8 495.1,498.1 495.8,496.1 496.9,495.2 498.2,495.3 505.2,493.7 503.9,493.5 502.8,494.4 502.1,496.4 501.7,499.1 501.5,502.2 501.5,505.2 501.5,507.6 501.4,509.2ZM507.1,507.8 507.1,506.2 507.1,503.7 507.1,500.7 507.3,497.6 507.8,495 508.5,493 509.6,492.1 510.9,492.4 517.9,490.7 516.6,490.5 515.5,491.4 514.8,493.3 514.3,496 514.1,499 514.1,502 514.1,504.5 514.1,506.2ZM519.7,504.8 519.8,503.1 519.8,500.5 519.8,497.5 520,494.5 520.4,491.8 521.2,489.9 522.3,489.1 529.3,487.4 528.2,488.3 527.5,490.1 527,492.8 526.8,495.8 526.8,498.9 526.8,501.4 526.7,503.1ZM532.2,502.4 532.4,501.7 532.4,499.9 532.4,497.4 532.4,494.3 532.6,491.3 533.1,488.7 533.9,486.9 535,486.1 542,484.4 540.9,485.2 540.1,487 539.7,489.6 539.4,492.7 539.4,495.7 539.4,498.3 539.4,500 539.2,500.7ZM544.8,499.3 545,498.6 545.1,496.8 545,494.2 545.1,491.2 545.3,488.1 545.8,485.6 546.6,483.8 547.7,483 554.7,481.4 553.6,482.1 552.8,483.9 552.3,486.5 552.1,489.5 552.1,492.5 552.1,495.1 552,496.9 551.8,497.7ZM557.5,496.3 557.7,495.5 557.7,493.7 557.7,491 557.7,488 558,485 558.5,482.4 559.3,480.7 560.4,480 567.4,478.3 566.3,479 565.5,480.8 565,483.3 564.7,486.3 564.7,489.4 564.7,492 564.7,493.8 564.5,494.6Z" fill="#e4e4ef" stroke="#c8c8da" stroke-width="0.8"/><path d="M477.1,507.1 478.5,509.8 479.7,512.2 480.6,513.9 481.1,514.5 481.4,514.1 489.2,512.2 488.9,512.7 488.3,512 487.5,510.4 486.3,508 484.9,505.3ZM485.1,498.4 486.6,499.6 488.2,501.7 489.8,504.3 491.2,506.9 492.4,509.3 493.2,510.9 493.8,511.5 494,511 501.8,509.1 501.6,509.7 501,509.1 500.2,507.4 499,505.1 497.6,502.4 496,499.8 494.4,497.7 492.9,496.6ZM497.8,495.4 499.4,496.7 501,498.8 502.5,501.4 503.9,504.1 505.1,506.4 505.9,507.9 506.4,508.5 506.7,507.9 514.5,506.1 514.2,506.6 513.7,506.1 512.9,504.5 511.7,502.2 510.3,499.5 508.7,496.9 507.1,494.8 505.6,493.6ZM510.6,492.4 512.1,493.7 513.7,495.9 515.3,498.5 516.6,501.2 517.8,503.5 518.6,505 519.1,505.5 519.3,504.8 527.1,503 526.9,503.6 526.4,503.1 525.6,501.6 524.4,499.3 523,496.6 521.5,494 519.9,491.9 518.3,490.6ZM521.9,489.2 523.3,489.5 524.8,490.8 526.4,493 528,495.6 529.4,498.3 530.5,500.5 531.3,502 531.8,502.5 539.6,500.6 539.1,500.2 538.3,498.7 537.1,496.4 535.8,493.8 534.2,491.1 532.6,489 531.1,487.6 529.7,487.3ZM534.6,486.2 536,486.5 537.5,487.9 539.1,490.1 540.7,492.7 542.1,495.4 543.2,497.6 544,499 544.4,499.4 552.2,497.6 551.7,497.2 550.9,495.8 549.8,493.5 548.5,490.9 546.9,488.2 545.3,486 543.8,484.6 542.4,484.3ZM547.3,483.1 548.7,483.5 550.3,485 551.9,487.2 553.4,489.9 554.8,492.5 555.9,494.7 556.6,496.1 557.1,496.4 564.9,494.5 564.4,494.2 563.6,492.8 562.5,490.6 561.2,488 559.7,485.3 558,483.1 556.5,481.7 555.1,481.3ZM560,480.1 561.4,480.6 563,482 564.6,484.3 572.4,482.5 570.8,480.2 569.2,478.7 567.8,478.2Z" fill="#f5f5fb" stroke="#c8c8da" stroke-width="0.8"/><path d="M479.9,509.5 481.1,511.9 481.9,513.5 482.5,514.2 484.8,513.6 484.3,513 483.4,511.3 482.2,509ZM488,499.3 489.6,501.3 491.2,503.9 492.6,506.6 493.7,509 494.6,510.6 495.1,511.2 497.5,510.6 496.9,510 496.1,508.4 494.9,506.1 493.5,503.4 491.9,500.8 490.3,498.7ZM500.7,496.3 502.3,498.4 503.9,501.1 505.3,503.7 506.4,506.1 507.3,507.6 507.8,508.2 510.1,507.6 509.6,507.1 508.8,505.5 507.6,503.2 506.2,500.5 504.7,497.9 503.1,495.8ZM513.4,493.4 515.1,495.6 516.6,498.2 518,500.8 519.1,503.1 520,504.7 520.5,505.2 522.8,504.6 522.3,504.1 521.5,502.6 520.3,500.3 518.9,497.6 517.4,495 515.8,492.9ZM524.6,489.1 526.2,490.5 527.8,492.7 529.3,495.3 530.7,498 531.8,500.2 532.6,501.7 535,501.1 534.2,499.7 533,497.4 531.7,494.7 530.1,492.1 528.5,489.9 527,488.6ZM537.4,486.2 538.9,487.6 540.5,489.8 542.1,492.4 543.4,495.1 544.5,497.3 545.3,498.7 547.6,498.2 546.9,496.7 545.8,494.5 544.4,491.9 542.8,489.2 541.2,487 539.7,485.6ZM550.1,483.2 551.6,484.6 553.2,486.9 554.8,489.5 556.1,492.2 557.2,494.4 558,495.8 560.3,495.2 559.6,493.8 558.5,491.6 557.1,489 555.6,486.3 554,484.1 552.4,482.6ZM562.8,480.2 564.3,481.7 566.7,481.2 565.1,479.7Z" fill="#ffffff" fill-opacity="0.75" stroke="none"/><path d="M571.6,339.9 572.6,340.2 574.6,340.6 577.3,341 580.3,341.7 583.2,342.5 585.5,343.4 586.8,344.6 587,345.8 587.4,352.5 587.2,351.2 585.8,350.1 583.6,349.1 580.7,348.3 577.7,347.7 575,347.2 573,346.9 572,346.5ZM572.4,352.9 573.5,353.2 575.6,353.6 578.4,354.1 581.4,354.7 584.3,355.5 586.4,356.5 587.6,357.7 587.7,359 588.1,365.6 588,364.4 586.8,363.2 584.7,362.2 581.8,361.4 578.8,360.7 576,360.3 573.9,359.9 572.8,359.5ZM573.2,365.9 574.5,366.2 576.7,366.6 579.5,367.1 582.6,367.8 585.3,368.6 587.4,369.7 588.5,370.8 588.4,372.1 588.8,378.8 588.9,377.5 587.8,376.3 585.7,375.3 583,374.4 579.9,373.8 577.1,373.3 574.9,372.9 573.6,372.6ZM574.1,378.9 575.5,379.3 577.8,379.7 580.7,380.2 583.7,380.8 586.4,381.7 588.4,382.8 589.3,384 589.1,385.2 589.5,391.9 589.7,390.6 588.8,389.4 586.8,388.4 584.1,387.5 581.1,386.8 578.2,386.3 575.9,385.9 574.5,385.6ZM575,391.9 576.5,392.3 578.9,392.7 581.8,393.2 584.8,393.9 587.4,394.8 589.3,395.9 590.1,397.1 589.8,398.4 590.2,405 590.5,403.7 589.7,402.5 587.8,401.5 585.2,400.6 582.2,399.9 579.3,399.3 576.9,398.9 575.4,398.6Z" fill="#22609e" stroke="#0f3560" stroke-width="0.8"/><path d="M583.5,334.9 581,336.1 578,337.1 575.2,338 573,338.6 571.7,339.1 571.5,339.5 572,346.9 572.2,346.5 573.5,346 575.7,345.4 578.5,344.5 581.4,343.5 584,342.3ZM587,345.5 586,346.8 584,348 581.4,349.2 578.5,350.2 575.7,351 573.6,351.7 572.4,352.2 572.4,352.5 572.8,359.9 572.9,359.5 574,359.1 576.2,358.4 578.9,357.6 581.8,356.6 584.5,355.4 586.5,354.2 587.4,352.9ZM587.7,358.6 586.6,359.9 584.5,361.2 581.8,362.3 578.9,363.3 576.2,364.1 574.2,364.7 573.1,365.2 573.2,365.5 573.7,372.9 573.6,372.6 574.6,372.1 576.6,371.5 579.3,370.7 582.3,369.7 585,368.5 587,367.3 588.1,366ZM588.4,371.7 587.2,373 585,374.3 582.3,375.4 579.3,376.4 576.7,377.2 574.8,377.8 573.8,378.2 574.1,378.6 574.5,385.9 574.3,385.6 575.2,385.1 577.1,384.5 579.8,383.8 582.7,382.8 585.5,381.7 587.6,380.4 588.8,379.1ZM589.1,384.9 587.7,386.2 585.5,387.4 582.7,388.5 579.8,389.5 577.2,390.2 575.4,390.8 574.6,391.2 575,391.6 575.4,399 575,398.6 575.8,398.2 577.6,397.6 580.2,396.8 583.1,395.9 585.9,394.8 588.2,393.5 589.5,392.2ZM589.8,398 588.3,399.3 586,400.5 583.1,401.6 580.2,402.5 580.7,409.9 583.6,409 586.4,407.9 588.7,406.7 590.2,405.4Z" fill="#3a88cc" stroke="#0f3560" stroke-width="0.8"/><path d="M581,337.4 578.1,338.4 575.3,339.3 573.1,339.9 571.8,340.4 571.9,342.6 573.2,342.1 575.5,341.5 578.2,340.6 581.2,339.6ZM586.1,348.1 584.1,349.3 581.5,350.5 578.5,351.5 575.8,352.3 573.7,353 572.5,353.4 572.6,355.7 573.8,355.2 575.9,354.5 578.7,353.7 581.6,352.7 584.3,351.5 586.2,350.3ZM586.7,361.2 584.6,362.5 581.9,363.6 579,364.6 576.3,365.4 574.2,366 573.2,366.5 573.3,368.7 574.4,368.2 576.4,367.6 579.1,366.8 582,365.8 584.7,364.7 586.8,363.4ZM587.3,374.3 585.1,375.6 582.3,376.7 579.4,377.7 576.8,378.4 574.8,379 573.9,379.5 574.1,381.7 575,381.3 576.9,380.7 579.5,379.9 582.5,378.9 585.2,377.8 587.4,376.5ZM587.8,387.5 585.6,388.7 582.8,389.8 579.8,390.7 577.3,391.5 575.5,392.1 574.7,392.5 574.8,394.7 575.6,394.3 577.4,393.7 580,393 582.9,392 585.7,390.9 588,389.7ZM588.4,400.6 586,401.8 583.2,402.9 583.3,405.1 586.2,404 588.5,402.8Z" fill="#78baf0" fill-opacity="0.75" stroke="none"/><path d="M588.5,380 589.5,380.4 591.6,380.8 594.3,381.4 597.3,382.1 600.2,383 602.4,384 603.6,385.2 603.7,386.5 603.9,393.2 603.8,391.9 602.6,390.7 600.4,389.6 597.6,388.7 594.5,388 591.8,387.5 589.7,387.1 588.7,386.7ZM589,393.1 590.3,393.5 592.5,393.9 595.3,394.5 598.3,395.2 601.1,396.2 603.1,397.2 604.2,398.5 604,399.7 604.2,406.4 604.4,405.1 603.3,403.9 601.3,402.8 598.6,401.9 595.5,401.1 592.7,400.6 590.5,400.1 589.2,399.8ZM589.6,406.2 591.1,406.5 593.4,407 596.3,407.6 599.3,408.4 602,409.3 603.8,410.5 604.6,411.7 604.3,413 604.5,419.6 604.9,418.4 604.1,417.1 602.2,416 599.6,415 596.6,414.3 593.6,413.7 591.3,413.2 589.8,412.8ZM590.2,419.2 591.9,419.6 594.4,420.1 597.4,420.7 600.3,421.6 602.8,422.5 604.5,423.7 605.1,424.9 605.3,431.6 604.7,430.3 603.1,429.2 600.5,428.2 597.6,427.4 594.6,426.8 592.1,426.3 590.5,425.9ZM590.1,431.9 590.9,432.3 592.7,432.7 595.4,433.2 598.4,433.9 601.3,434.7 603.7,435.7 603.9,442.4 601.5,441.4 598.6,440.5 595.6,439.9 593,439.4 591.1,438.9 590.4,438.6Z" fill="#22609e" stroke="#0f3560" stroke-width="0.8"/><path d="M594.9,377.5 592.1,378.2 589.9,378.8 588.6,379.3 588.5,379.7 588.7,387.1 588.9,386.7 590.1,386.2 592.4,385.6 595.2,384.9ZM603.7,386.1 602.6,387.4 600.5,388.6 597.8,389.7 594.8,390.6 592.1,391.4 590,391.9 588.9,392.4 589,392.7 589.3,400.1 589.2,399.8 590.2,399.3 592.3,398.8 595,398 598,397.1 600.8,396 602.8,394.8 603.9,393.5ZM604,399.4 602.7,400.6 600.5,401.8 597.6,402.9 594.7,403.8 592,404.5 590.1,405 589.3,405.4 589.6,405.8 589.8,413.2 589.5,412.8 590.4,412.4 592.3,411.9 594.9,411.2 597.9,410.3 600.7,409.2 602.9,408 604.2,406.8ZM604.3,412.6 602.8,413.9 600.4,415 597.5,416.1 594.6,416.9 592,417.6 590.3,418.1 589.7,418.5 590.2,418.9 590.5,426.3 589.9,425.9 590.6,425.5 592.3,425 594.8,424.3 597.7,423.5 600.6,422.4 603,421.3 604.5,420ZM605.1,424.6 604.5,425.8 602.8,427.1 600.3,428.2 597.4,429.2 594.5,430 592.1,430.7 590.5,431.2 590.1,431.6 590.4,439 590.8,438.6 592.3,438.1 594.7,437.4 597.6,436.6 600.5,435.6 603,434.5 604.7,433.2 605.3,432Z" fill="#3a88cc" stroke="#0f3560" stroke-width="0.8"/><path d="M592.2,379.5 589.9,380.1 588.7,380.6 588.7,382.8 590,382.3 592.2,381.7ZM602.6,388.7 600.6,389.9 597.8,391 594.8,391.9 592.1,392.7 590,393.2 589,393.7 589,395.9 590.1,395.4 592.2,394.9 594.9,394.1 597.9,393.2 600.6,392.1 602.7,390.9ZM602.7,401.9 600.5,403.1 597.7,404.2 594.7,405.1 592.1,405.8 590.2,406.3 589.3,406.7 589.4,408.9 590.3,408.5 592.2,408 594.8,407.3 597.8,406.4 600.6,405.3 602.8,404.1ZM602.8,415.2 600.4,416.3 597.5,417.4 594.6,418.2 592.1,418.9 590.4,419.4 589.7,419.8 589.8,422 590.4,421.6 592.2,421.1 594.7,420.4 597.6,419.6 600.5,418.5 602.9,417.4ZM604.5,427.1 602.8,428.4 600.3,429.5 597.4,430.5 594.5,431.3 592.1,432 590.6,432.5 590.7,434.7 592.2,434.2 594.6,433.6 597.5,432.7 600.4,431.8 602.9,430.6 604.6,429.4Z" fill="#78baf0" fill-opacity="0.75" stroke="none"/><path d="M562.7,351.2 564,351.5 566.2,351.8 569.1,352.2 572.1,352.7 574.9,353.5 577,354.5 578.1,355.6 578,356.9 578.6,363.5 578.7,362.2 577.6,361.1 575.5,360.1 572.8,359.4 569.7,358.8 566.8,358.4 564.6,358.1 563.3,357.8ZM564,364.2 565.4,364.5 567.8,364.8 570.7,365.2 573.7,365.8 576.4,366.6 578.4,367.5 579.4,368.7 579.1,370 579.8,376.6 580,375.3 579,374.2 577,373.2 574.3,372.4 571.3,371.8 568.4,371.4 566,371.1 564.6,370.8ZM565.3,377.1 566.9,377.4 569.3,377.8 572.3,378.2 575.3,378.8 577.9,379.6 579.8,380.6 580.6,381.8 580.2,383.1 580.9,389.7 581.2,388.4 580.4,387.3 578.5,386.2 575.9,385.4 572.9,384.8 569.9,384.4 567.5,384.1 565.9,383.8ZM566.7,390.1 568.3,390.4 570.9,390.7 573.8,391.2 576.8,391.8 579.4,392.7 581.2,393.7 581.8,394.9 582.4,401.5 581.8,400.3 580,399.3 577.5,398.5 574.5,397.8 571.5,397.4 569,397 567.3,396.8ZM567.3,402.8 568,403.1 569.8,403.4 572.4,403.7 575.4,404.2 578.4,404.9 580.9,405.7 582.5,406.8 583,408 583.7,414.6 583.1,413.4 581.5,412.4 579,411.5 576,410.8 573,410.4 570.4,410 568.6,409.7 567.9,409.4ZM568.5,415.8 569.4,416.1 571.3,416.4 574,416.7 577,417.2 579.9,417.9 582.3,418.8 583.8,419.9 584.2,421.1 584.8,427.7 584.5,426.5 583,425.4 580.6,424.5 577.6,423.9 574.6,423.4 571.9,423 570,422.7 569.2,422.4Z" fill="#22609e" stroke="#0f3560" stroke-width="0.8"/><path d="M571,347.3 568.1,348.4 565.5,349.3 563.5,350 562.5,350.5 562.7,350.8 563.3,358.2 563.2,357.8 564.2,357.3 566.2,356.6 568.8,355.8 571.7,354.7ZM578,356.5 576.8,357.9 574.6,359.2 571.9,360.4 569,361.5 566.4,362.3 564.5,363 563.7,363.4 564,363.8 564.7,371.2 564.4,370.8 565.2,370.3 567.1,369.7 569.7,368.8 572.6,367.8 575.3,366.5 577.5,365.2 578.7,363.9ZM579.1,369.6 577.8,371 575.5,372.3 572.8,373.5 569.9,374.5 567.3,375.4 565.6,376 564.8,376.4 565.3,376.8 566,384.1 565.5,383.8 566.3,383.4 568,382.7 570.6,381.9 573.4,380.9 576.2,379.6 578.5,378.3 579.8,377ZM580.2,382.7 578.7,384.1 576.4,385.4 573.6,386.6 570.7,387.6 568.3,388.4 566.6,389 566,389.4 566.6,389.8 567.3,397.1 566.7,396.8 567.3,396.4 569,395.8 571.4,394.9 574.3,393.9 577.1,392.7 579.4,391.4 580.9,390.1ZM581.8,394.5 581.3,395.8 579.7,397.2 577.3,398.5 574.5,399.6 571.6,400.6 569.2,401.4 567.7,402 567.3,402.4 568,409.8 568.4,409.4 569.9,408.8 572.3,408 575.1,407 578,405.8 580.4,404.6 582,403.2 582.5,401.9ZM583,407.6 582.4,409 580.7,410.3 578.2,411.6 575.3,412.7 572.5,413.7 570.2,414.4 568.8,415 568.5,415.4 569.2,422.8 569.5,422.4 570.9,421.8 573.2,421 576,420.1 578.9,418.9 581.3,417.7 583,416.3 583.7,415Z" fill="#3a88cc" stroke="#0f3560" stroke-width="0.8"/><path d="M568.3,349.7 565.6,350.6 563.6,351.2 562.6,351.7 562.8,354 563.8,353.5 565.8,352.8 568.5,351.9ZM576.9,359.2 574.8,360.5 572,361.7 569.1,362.7 566.5,363.6 564.7,364.3 563.8,364.7 564,366.9 564.9,366.5 566.7,365.8 569.3,365 572.2,363.9 575,362.7 577.1,361.4ZM577.9,372.3 575.7,373.6 572.9,374.8 570,375.8 567.5,376.6 565.7,377.3 565,377.7 565.2,379.9 565.9,379.5 567.7,378.9 570.2,378 573.1,377 575.9,375.8 578.1,374.5ZM578.9,385.4 576.5,386.7 573.7,387.9 570.9,388.9 568.4,389.7 566.8,390.3 566.2,390.7 566.4,392.9 567,392.5 568.6,391.9 571.1,391.1 573.9,390.1 576.8,388.9 579.1,387.6ZM581.4,397.1 579.8,398.5 577.4,399.8 574.6,400.9 571.7,401.9 569.4,402.7 567.8,403.3 568,405.5 569.6,404.9 571.9,404.1 574.8,403.1 577.6,402 580,400.7 581.6,399.3ZM582.5,410.2 580.8,411.6 578.3,412.9 575.4,414 572.6,415 570.3,415.7 568.9,416.3 569.1,418.5 570.5,417.9 572.8,417.2 575.6,416.2 578.5,415.1 581,413.8 582.7,412.5Z" fill="#78baf0" fill-opacity="0.75" stroke="none"/><path d="M578.4,371.5 579.1,371.8 580.9,372.2 583.5,372.6 586.5,373.2 589.5,374 591.9,375 593.4,376.1 593.9,377.3 594.3,384 593.8,382.7 592.3,381.6 589.8,380.7 586.9,379.9 583.9,379.3 581.3,378.9 579.5,378.5 578.7,378.1ZM579.1,384.5 580,384.9 582,385.2 584.6,385.7 587.7,386.3 590.6,387.1 592.9,388.1 594.3,389.2 594.6,390.5 594.9,397.1 594.7,395.9 593.3,394.7 590.9,393.8 588,393 585,392.3 582.3,391.9 580.4,391.5 579.5,391.2ZM579.9,397.6 580.9,397.9 583,398.3 585.8,398.8 588.8,399.4 591.6,400.2 593.9,401.2 595.1,402.4 595.2,403.6 595.6,410.3 595.5,409 594.2,407.9 592,406.9 589.2,406 586.1,405.4 583.4,404.9 581.3,404.5 580.3,404.2ZM580.7,410.6 581.9,410.9 584.1,411.3 586.9,411.8 589.9,412.5 592.7,413.3 594.8,414.4 595.9,415.5 595.9,416.8 596.3,423.5 596.3,422.2 595.2,421 593.1,420 590.3,419.1 587.3,418.5 584.4,418 582.3,417.6 581.1,417.2ZM581.5,423.6 582.9,423.9 585.1,424.3 588,424.9 591,425.6 593.8,426.4 595.7,427.5 596.7,428.7 596.5,430 596.9,436.6 597.1,435.3 596.1,434.1 594.1,433.1 591.4,432.2 588.4,431.5 585.5,431 583.2,430.6 581.9,430.3ZM582.4,436.6 583.8,437 586.2,437.4 589.1,437.9 592.2,438.6 594.8,439.5 595.2,446.2 592.5,445.3 589.5,444.6 586.6,444 584.2,443.6 582.7,443.3Z" fill="#22609e" stroke="#0f3560" stroke-width="0.8"/><path d="M582.7,369.5 580.3,370.2 578.8,370.7 578.3,371.1 578.8,378.5 579.2,378.1 580.7,377.6 583.1,376.9ZM593.9,377 593.1,378.3 591.4,379.5 588.8,380.7 585.9,381.7 583.1,382.6 580.8,383.3 579.4,383.8 579.1,384.2 579.5,391.5 579.8,391.2 581.2,390.7 583.5,390 586.3,389.1 589.2,388.1 591.8,386.9 593.5,385.7 594.3,384.4ZM594.6,390.1 593.7,391.4 591.8,392.7 589.1,393.8 586.2,394.9 583.4,395.7 581.2,396.3 580,396.8 579.9,397.2 580.3,404.6 580.4,404.2 581.6,403.7 583.8,403.1 586.6,402.2 589.5,401.2 592.2,400.1 594.1,398.8 595,397.5ZM595.2,403.3 594.2,404.6 592.2,405.8 589.5,407 586.5,408 583.8,408.8 581.7,409.4 580.6,409.8 580.7,410.2 581.1,417.6 581,417.2 582.1,416.8 584.2,416.1 586.9,415.3 589.9,414.4 592.6,413.2 594.6,412 595.6,410.7ZM595.9,416.4 594.7,417.7 592.6,419 589.8,420.1 586.9,421.1 584.2,421.8 582.2,422.4 581.3,422.9 581.5,423.2 581.9,430.6 581.7,430.3 582.6,429.8 584.6,429.2 587.3,428.4 590.2,427.5 593,426.4 595.1,425.1 596.3,423.8ZM596.5,429.6 595.2,430.9 592.9,432.1 590.1,433.2 587.2,434.2 584.6,434.9 582.8,435.5 582,435.9 582.3,436.3 582.7,443.7 582.4,443.3 583.2,442.9 585,442.3 587.6,441.5 590.5,440.6 593.3,439.5 595.6,438.3 596.9,437Z" fill="#3a88cc" stroke="#0f3560" stroke-width="0.8"/><path d="M580.4,371.5 578.8,372 579,374.2 580.5,373.7ZM593.2,379.6 591.4,380.8 588.9,382 586,383 583.1,383.9 580.8,384.6 579.4,385.1 579.6,387.3 581,386.8 583.2,386.1 586.1,385.3 589,384.2 591.5,383 593.3,381.8ZM593.7,392.7 591.8,394 589.2,395.1 586.3,396.1 583.5,397 581.3,397.6 580.1,398.1 580.2,400.3 581.4,399.8 583.6,399.2 586.4,398.4 589.3,397.4 592,396.2 593.9,394.9ZM594.3,405.9 592.2,407.1 589.5,408.3 586.6,409.3 583.9,410.1 581.8,410.7 580.7,411.1 580.8,413.4 581.9,412.9 584,412.3 586.7,411.5 589.7,410.5 592.4,409.3 594.4,408.1ZM594.8,419 592.6,420.3 589.9,421.4 586.9,422.4 584.3,423.1 582.3,423.7 581.4,424.2 581.5,426.4 582.4,425.9 584.4,425.3 587.1,424.6 590,423.6 592.7,422.5 594.9,421.2ZM595.2,432.2 593,433.4 590.2,434.5 587.3,435.4 584.7,436.2 582.8,436.8 582,437.2 582.2,439.4 583,439 584.8,438.4 587.4,437.7 590.3,436.7 593.1,435.6 595.4,434.4Z" fill="#78baf0" fill-opacity="0.75" stroke="none"/><path d="M605.6,337.2 606.9,337.6 609.1,338.2 612,338.9 614.9,339.8 617.6,340.9 619.5,342.1 620.4,343.4 620.1,344.7 620,351.3 620.3,350 619.4,348.8 617.5,347.6 614.8,346.5 611.8,345.6 609,344.9 606.8,344.3 605.5,343.9ZM605.6,350.3 607.1,350.7 609.5,351.3 612.4,352.1 615.3,353.1 617.9,354.2 619.6,355.4 620.2,356.7 619.7,357.9 619.6,364.6 620.1,363.3 619.5,362 617.8,360.8 615.2,359.7 612.3,358.8 609.4,358 607,357.4 605.4,356.9ZM604.9,363 605.6,363.4 607.3,363.9 609.8,364.5 612.8,365.3 615.7,366.3 618.1,367.4 619.6,368.7 620,369.9 619.9,376.6 619.5,375.3 618,374.1 615.6,372.9 612.7,372 609.7,371.2 607.2,370.5 605.5,370 604.8,369.6ZM604.7,376.1 605.6,376.5 607.6,377 610.2,377.7 613.2,378.5 616,379.5 618.3,380.7 619.5,381.9 619.7,383.2 619.6,389.9 619.4,388.6 618.2,387.3 615.9,386.2 613.1,385.2 610.1,384.3 607.4,383.6 605.5,383.1 604.6,382.7Z" fill="#22609e" stroke="#0f3560" stroke-width="0.8"/><path d="M617.2,333.3 614.3,334.3 611.3,335 608.6,335.6 606.5,336.1 605.5,336.5 605.6,336.8 605.5,344.2 605.3,343.9 606.4,343.5 608.4,343 611.2,342.4 614.2,341.7 617,340.7ZM620.1,344.3 618.7,345.5 616.4,346.5 613.5,347.4 610.5,348.2 607.8,348.7 606,349.2 605.2,349.5 605.6,349.9 605.4,357.3 605,356.9 605.8,356.6 607.7,356.1 610.3,355.6 613.3,354.8 616.2,353.9 618.6,352.9 620,351.7ZM619.7,357.6 618,358.7 615.5,359.8 612.6,360.6 609.6,361.3 607.1,361.8 605.5,362.2 604.9,362.6 604.8,370 605.3,369.6 607,369.2 609.5,368.7 612.4,368 615.4,367.2 617.9,366.1 619.6,365ZM620,369.6 619.2,370.8 617.3,372 614.7,373 611.7,373.8 608.8,374.4 606.4,374.9 605,375.3 604.7,375.7 604.6,383.1 604.9,382.7 606.3,382.3 608.6,381.8 611.5,381.2 614.5,380.4 617.2,379.4 619,378.2 619.9,377ZM619.7,382.8 618.6,384.1 616.6,385.2 613.8,386.1 610.8,386.9 608,387.5 605.8,388 604.6,388.4 604.5,395.8 605.7,395.4 607.8,394.9 610.7,394.3 613.7,393.5 616.4,392.6 618.5,391.5 619.5,390.2Z" fill="#3a88cc" stroke="#0f3560" stroke-width="0.8"/><path d="M614.3,335.6 611.3,336.3 608.5,336.9 606.5,337.4 605.5,337.8 605.4,340 606.5,339.6 608.5,339.1 611.3,338.5 614.3,337.8ZM618.7,346.8 616.3,347.8 613.4,348.7 610.4,349.5 607.8,350 605.9,350.5 605.1,350.8 605.1,353 605.9,352.7 607.8,352.2 610.4,351.7 613.4,351 616.3,350.1 618.6,349ZM618,360 615.5,361.1 612.5,361.9 609.6,362.6 607.1,363.1 605.4,363.5 605.4,365.8 607,365.3 609.5,364.8 612.5,364.1 615.5,363.3 618,362.2ZM619.2,372.1 617.3,373.3 614.6,374.3 611.6,375.1 608.8,375.7 606.4,376.2 605,376.6 605,378.8 606.4,378.4 608.7,377.9 611.6,377.3 614.6,376.5 617.2,375.5 619.1,374.3ZM618.6,385.4 616.5,386.5 613.8,387.4 610.8,388.2 608,388.8 605.8,389.3 605.7,391.5 607.9,391.1 610.7,390.4 613.7,389.7 616.5,388.7 618.6,387.6Z" fill="#78baf0" fill-opacity="0.75" stroke="none"/><path d="M577.6,307.4 578.9,307.5 581.2,307.6 584.1,307.7 587.2,307.9 590,308.3 592.2,309 593.4,310.1 593.4,311.4 594.8,317.9 594.8,316.6 593.6,315.6 591.4,314.8 588.6,314.4 585.5,314.2 582.6,314.1 580.3,314.1 578.9,313.9ZM580.4,320.2 581.9,320.3 584.3,320.3 587.3,320.4 590.4,320.6 593.2,321.1 595.2,321.9 596.2,323 596,324.3 597.4,330.8 597.6,329.5 596.6,328.4 594.5,327.6 591.8,327.2 588.7,326.9 585.7,326.8 583.3,326.8 581.8,326.7ZM583.3,332.9 585,333 587.5,333 590.5,333.1 593.6,333.4 596.2,333.9 598.1,334.8 598.9,335.9 600.3,342.4 599.5,341.3 597.6,340.5 595,339.9 591.9,339.7 588.9,339.5 586.4,339.5 584.7,339.4ZM585.4,345.4 586.2,345.6 588,345.7 590.7,345.8 593.7,345.9 596.8,346.2 599.3,346.8 601,347.6 601.7,348.8 603,355.3 602.4,354.2 600.7,353.3 598.1,352.7 595.1,352.4 592.1,352.3 589.4,352.2 587.6,352.2 586.8,351.9ZM588.2,358.2 589.1,358.4 591.1,358.4 593.8,358.5 596.9,358.6 599.9,359 602.4,359.6 603.9,360.5 604.4,361.7 605.7,368.2 605.3,367 603.7,366.1 601.3,365.5 598.3,365.1 595.2,365 592.5,365 590.5,364.9 589.6,364.7Z" fill="#22609e" stroke="#0f3560" stroke-width="0.8"/><path d="M580,305.2 578.2,306.1 577.3,306.7 577.5,307.1 579,314.3 578.8,314 579.7,313.4 581.6,312.5ZM593.3,311 592.2,312.5 590.2,314 587.6,315.6 584.9,316.9 582.4,318.1 580.7,318.9 579.9,319.5 580.3,319.8 581.9,327 581.5,326.7 582.2,326.2 583.9,325.3 586.4,324.2 589.2,322.8 591.8,321.3 593.8,319.7 594.9,318.2ZM595.9,323.9 594.7,325.4 592.5,327 589.9,328.5 587.1,329.9 584.8,331 583.2,331.8 582.6,332.3 583.2,332.5 584.8,339.8 584.2,339.5 584.7,339 586.3,338.2 588.7,337.1 591.4,335.8 594.1,334.2 596.2,332.7 597.5,331.2ZM598.8,335.5 598.5,336.9 597.1,338.4 594.8,340 592.1,341.5 589.4,342.8 587.2,343.8 585.7,344.6 585.3,345.1 586.9,352.3 587.3,351.8 588.7,351.1 591,350 593.7,348.7 596.4,347.2 598.6,345.6 600,344.1 600.4,342.8ZM601.6,348.4 601.1,349.8 599.5,351.4 597.1,352.9 594.4,354.4 591.8,355.7 589.6,356.7 588.3,357.4 588.1,357.8 589.6,365.1 589.8,364.6 591.1,363.9 593.3,362.9 596,361.6 598.7,360.2 601,358.6 602.6,357.1 603.1,355.7ZM604.3,361.4 603.6,362.8 601.9,364.3 603.4,371.6 605.1,370 605.8,368.6Z" fill="#3a88cc" stroke="#0f3560" stroke-width="0.8"/><path d="M578.4,307.4 577.5,308 578,310.2 578.9,309.6ZM592.5,313.7 590.5,315.3 587.9,316.8 585.1,318.2 582.7,319.4 580.9,320.2 580.2,320.8 580.7,322.9 581.4,322.4 583.1,321.5 585.6,320.4 588.3,319 590.9,317.5 593,315.9ZM594.9,326.7 592.8,328.3 590.1,329.8 587.4,331.1 585,332.2 583.4,333 582.9,333.5 583.4,335.7 583.9,335.2 585.5,334.4 587.9,333.3 590.6,332 593.3,330.4 595.4,328.9ZM598.8,338.1 597.4,339.7 595.1,341.2 592.4,342.7 589.7,344 587.4,345.1 586,345.9 586.5,348 587.9,347.3 590.2,346.2 592.9,344.9 595.6,343.4 597.8,341.8 599.2,340.3ZM601.3,351.1 599.8,352.6 597.4,354.2 594.7,355.7 592,356.9 589.9,357.9 588.6,358.7 589,360.8 590.3,360.1 592.5,359.1 595.1,357.8 597.9,356.4 600.2,354.8 601.8,353.3ZM604.8,363.9 604.1,365.3 602.4,366.9 602.9,369 604.6,367.5 605.3,366.1Z" fill="#78baf0" fill-opacity="0.75" stroke="none"/><path d="M594.4,340.5 595.1,340.8 596.9,341.3 599.4,341.8 602.4,342.5 605.3,343.4 607.7,344.5 609.3,345.7 609.7,346.9 609.8,353.6 609.4,352.3 607.8,351.2 605.4,350.1 602.5,349.2 599.5,348.5 597,347.9 595.2,347.5 594.5,347.1ZM594.6,353.5 595.5,353.9 597.4,354.3 600,354.9 603,355.7 605.9,356.6 608.2,357.7 609.6,358.9 609.8,360.1 609.9,366.8 609.6,365.5 608.3,364.3 606,363.2 603.1,362.3 600.1,361.6 597.5,361 595.6,360.6 594.7,360.2ZM594.8,366.6 595.9,367 597.9,367.4 600.6,368 603.6,368.8 606.4,369.7 608.6,370.8 609.8,372.1 609.9,373.3 610,380 609.9,378.7 608.7,377.5 606.5,376.4 603.7,375.5 600.7,374.7 598,374.1 595.9,373.6 594.9,373.2ZM595.1,379.6 596.3,380 598.4,380.5 601.2,381.1 604.2,381.9 607,382.9 609,384 610.1,385.2 610,386.5 610.1,393.2 610.2,391.9 609.1,390.7 607,389.5 604.3,388.6 601.3,387.8 598.5,387.2 596.3,386.7 595.2,386.3ZM595.3,392.7 596.7,393.1 599,393.6 601.8,394.2 604.8,395 607.5,396 609.4,397.2 610.3,398.4 610,399.7 610.1,406.4 610.4,405.1 609.5,403.8 607.6,402.7 604.9,401.7 601.9,400.9 599,400.2 596.8,399.7 595.4,399.3ZM595.6,405.7 597.1,406.1 599.5,406.7 602.4,407.3 605.4,408.2 608,409.2 609.8,410.4 610.5,411.6 610,412.9 610.1,419.5 610.6,418.3 609.8,417 608.1,415.9 605.5,414.8 602.5,414 599.6,413.3 597.2,412.8 595.7,412.4Z" fill="#22609e" stroke="#0f3560" stroke-width="0.8"/><path d="M609,334.7 607.3,335.9 604.8,337 601.9,337.9 598.9,338.7 596.5,339.3 594.9,339.7 594.4,340.1 594.5,347.5 595,347.1 596.6,346.7 599,346.1 602,345.3 604.9,344.4 607.4,343.3 609.1,342.1ZM609.7,346.6 608.9,347.8 607.1,349 604.5,350.1 601.6,351 598.7,351.8 596.4,352.3 594.9,352.8 594.6,353.1 594.7,360.5 595,360.2 596.5,359.7 598.8,359.2 601.7,358.4 604.6,357.5 607.2,356.4 609,355.2 609.8,354ZM609.8,359.8 608.9,361 606.9,362.2 604.3,363.3 601.3,364.1 598.5,364.8 596.3,365.4 595,365.8 594.8,366.2 594.9,373.6 595.1,373.2 596.3,372.8 598.6,372.2 601.4,371.5 604.4,370.7 607,369.6 609,368.4 609.9,367.2ZM609.9,373 608.8,374.2 606.7,375.4 604,376.4 601,377.3 598.3,377.9 596.2,378.5 595,378.9 595.1,379.3 595.2,386.7 595.1,386.3 596.2,385.9 598.3,385.3 601.1,384.7 604.1,383.8 606.8,382.8 608.9,381.6 610,380.4ZM610,386.1 608.7,387.4 606.5,388.5 603.7,389.5 600.7,390.4 598.1,391 596.1,391.5 595.1,391.9 595.3,392.3 595.4,399.7 595.2,399.3 596.2,398.9 598.1,398.4 600.8,397.8 603.8,396.9 606.6,395.9 608.8,394.8 610.1,393.5ZM610,399.3 608.6,400.6 606.3,401.7 603.4,402.7 600.5,403.5 597.9,404.1 596,404.6 595.2,405 595.6,405.4 595.7,412.8 595.3,412.4 596.1,412 598,411.5 600.6,410.9 603.5,410.1 606.4,409.1 608.7,408 610.1,406.7ZM610,412.5 608.5,413.7 606.1,414.8 603.2,415.8 600.2,416.6 597.7,417.2 597.8,424.6 600.3,424 603.2,423.2 606.2,422.2 608.6,421.1 610.1,419.9Z" fill="#3a88cc" stroke="#0f3560" stroke-width="0.8"/><path d="M607.3,337.2 604.8,338.3 601.9,339.2 599,340 596.5,340.5 594.9,341 595,343.2 596.5,342.8 599,342.2 601.9,341.4 604.8,340.5 607.3,339.4ZM609,349.1 607.1,350.3 604.6,351.4 601.6,352.3 598.7,353.1 596.4,353.6 594.9,354.1 595,356.3 596.4,355.8 598.7,355.3 601.6,354.5 604.6,353.6 607.2,352.6 609,351.4ZM608.9,362.3 607,363.5 604.3,364.6 601.3,365.4 598.5,366.1 596.3,366.7 595,367.1 595,369.3 596.3,368.9 598.5,368.4 601.3,367.7 604.3,366.8 607,365.7 608.9,364.5ZM608.8,375.5 606.8,376.7 604,377.7 601,378.6 598.3,379.2 596.2,379.8 595,380.2 595.1,382.4 596.2,382 598.3,381.5 601.1,380.8 604,379.9 606.8,378.9 608.9,377.7ZM608.7,388.7 606.5,389.8 603.7,390.8 600.8,391.7 598.1,392.3 596.1,392.8 595.1,393.2 595.2,395.5 596.1,395 598.1,394.5 600.8,393.9 603.8,393 606.6,392 608.8,390.9ZM608.6,401.9 606.3,403 603.5,404 600.5,404.8 597.9,405.4 596,405.9 595.3,406.3 595.3,408.5 596.1,408.1 597.9,407.6 600.5,407 603.5,406.2 606.3,405.2 608.7,404.1ZM608.5,415 606.1,416.1 603.2,417.1 600.2,417.9 600.3,420.1 603.2,419.3 606.1,418.4 608.5,417.2Z" fill="#78baf0" fill-opacity="0.75" stroke="none"/><path d="M553.3,312.9 554.7,313.1 557.1,313.3 560.1,313.5 563.1,314 565.8,314.6 567.8,315.5 568.8,316.6 568.6,317.9 569.6,324.5 569.7,323.2 568.8,322.1 566.8,321.2 564.1,320.6 561,320.1 558.1,319.9 555.7,319.7 554.2,319.5ZM555.2,325.7 556.7,325.9 559.2,326.1 562.1,326.4 565.1,326.9 567.8,327.5 569.8,328.4 570.7,329.5 570.4,330.8 571.4,337.4 571.6,336.1 570.7,335 568.8,334.1 566.1,333.4 563.1,333 560.1,332.7 557.7,332.5 556.2,332.3ZM557.1,338.6 558.7,338.8 561.2,339 564.1,339.3 567.2,339.7 569.8,340.4 571.7,341.3 572.6,342.5 572.3,343.8 573.3,350.4 573.6,349.1 572.7,347.9 570.8,347 568.1,346.3 565.1,345.9 562.1,345.6 559.7,345.4 558.1,345.2ZM559.1,351.5 560.7,351.7 563.2,351.9 566.2,352.2 569.2,352.6 571.8,353.3 573.7,354.2 574.5,355.4 574.1,356.7 575.1,363.3 575.5,362 574.7,360.8 572.8,359.9 570.2,359.2 567.2,358.8 564.2,358.5 561.7,358.3 560,358.1ZM561,364.4 562.7,364.6 565.2,364.8 568.2,365.1 571.2,365.5 573.8,366.2 575.6,367.2 576.4,368.3 577.3,374.9 576.6,373.8 574.8,372.8 572.2,372.1 569.2,371.6 566.2,371.4 563.7,371.2 562,371ZM562.3,377 563,377.2 564.7,377.4 567.3,377.6 570.3,377.9 573.3,378.4 575.8,379.1 576.8,385.7 574.2,385 571.2,384.5 568.2,384.2 565.7,384 563.9,383.8 563.3,383.5Z" fill="#22609e" stroke="#0f3560" stroke-width="0.8"/><path d="M566.7,304.6 565.5,306 563.3,307.4 560.7,308.8 557.8,310 555.3,310.9 553.6,311.7 552.8,312.2 553.2,312.5 554.3,319.8 553.9,319.5 554.6,319 556.4,318.3 558.9,317.3 561.7,316.1 564.4,314.8 566.5,313.3 567.8,311.9ZM568.5,317.6 567.3,319 565.1,320.4 562.4,321.7 559.6,322.9 557.1,323.8 555.4,324.6 554.7,325.1 555.1,325.4 556.2,332.7 555.8,332.4 556.5,331.9 558.2,331.2 560.7,330.2 563.5,329 566.2,327.7 568.3,326.3 569.6,324.9ZM570.4,330.5 569.1,331.9 566.9,333.3 564.1,334.6 561.3,335.8 558.9,336.8 557.2,337.5 556.6,337.9 557.1,338.2 558.1,345.6 557.6,345.3 558.3,344.8 560,344.1 562.4,343.1 565.2,342 567.9,340.6 570.1,339.2 571.5,337.8ZM572.2,343.4 570.9,344.8 568.6,346.2 565.9,347.6 563.1,348.7 560.7,349.7 559,350.4 558.5,350.8 559,351.1 560.1,358.4 559.5,358.1 560.1,357.7 561.8,357 564.2,356 567,354.9 569.7,353.6 571.9,352.1 573.3,350.7ZM574.1,356.3 572.6,357.8 570.4,359.2 567.6,360.5 564.8,361.6 562.5,362.6 560.9,363.2 560.3,363.7 561,364 562,371.3 561.4,371 561.9,370.6 563.5,369.9 565.9,369 568.7,367.8 571.4,366.5 573.7,365.1 575.2,363.7ZM576.3,368 575.9,369.3 574.4,370.7 572.1,372.1 569.4,373.4 566.6,374.6 564.2,375.5 562.7,376.1 562.2,376.6 563.3,383.9 563.8,383.5 565.3,382.8 567.7,381.9 570.4,380.7 573.2,379.4 575.5,378 577,376.6 577.4,375.3Z" fill="#3a88cc" stroke="#0f3560" stroke-width="0.8"/><path d="M565.7,307.3 563.5,308.7 560.8,310.1 558,311.3 555.5,312.2 553.8,313 553,313.5 553.3,315.7 554.1,315.2 555.9,314.4 558.3,313.4 561.2,312.3 563.8,310.9 566,309.5ZM567.5,320.2 565.3,321.7 562.6,323 559.8,324.2 557.3,325.1 555.6,325.9 554.9,326.3 555.2,328.5 555.9,328 557.6,327.3 560.1,326.4 562.9,325.2 565.6,323.8 567.8,322.4ZM569.2,333.2 567,334.6 564.3,335.9 561.5,337.1 559.1,338 557.4,338.7 556.8,339.2 557.1,341.4 557.7,340.9 559.4,340.2 561.8,339.3 564.6,338.1 567.4,336.8 569.6,335.4ZM571,346.1 568.8,347.5 566.1,348.8 563.3,350 560.9,350.9 559.2,351.6 558.6,352.1 559,354.3 559.6,353.8 561.2,353.1 563.6,352.2 566.4,351 569.1,349.7 571.4,348.3ZM572.8,359 570.6,360.5 567.8,361.8 565,362.9 562.6,363.8 561.1,364.5 560.5,365 560.9,367.2 561.4,366.7 563,366 565.3,365.1 568.1,364 570.9,362.6 573.2,361.2ZM576.1,370.6 574.6,372 572.3,373.4 569.6,374.7 566.8,375.8 564.4,376.7 562.9,377.4 563.2,379.6 564.8,378.9 567.1,378 569.9,376.9 572.6,375.6 574.9,374.2 576.4,372.8Z" fill="#78baf0" fill-opacity="0.75" stroke="none"/><path d="M560.5,376.9 561,377.4 562.6,378.3 564.9,379.4 567.6,380.9 570.2,382.5 572.3,384.1 573.5,385.6 573.6,387 572,393.4 571.8,392.1 570.6,390.6 568.6,388.9 566,387.3 563.3,385.9 561,384.7 559.4,383.8 558.8,383.3ZM557.3,389.5 558,390.1 559.6,391 562,392.2 564.7,393.6 567.2,395.2 569.2,396.8 570.4,398.4 570.4,399.7 568.8,406.1 568.7,404.8 567.6,403.3 565.6,401.7 563.1,400.1 560.4,398.6 558,397.4 556.4,396.5 555.7,396ZM554.2,402.1 554.9,402.7 556.7,403.7 559.1,404.9 561.8,406.4 564.3,408 566.2,409.6 567.3,411.1 567.2,412.4 565.6,418.9 565.6,417.6 564.6,416.1 562.7,414.4 560.1,412.8 557.4,411.3 555,410.1 553.3,409.2 552.6,408.6ZM551,414.8 551.9,415.4 553.7,416.4 556.1,417.6 558.8,419.1 561.3,420.7 563.2,422.3 564.1,423.8 564,425.1 562.4,431.6 562.5,430.3 561.6,428.8 559.7,427.2 557.2,425.6 554.5,424.1 552.1,422.8 550.3,421.9 549.4,421.3ZM547.9,427.4 548.8,428.1 550.7,429.1 553.2,430.3 555.9,431.9 558.4,433.5 560.2,435.1 561,436.6 560.8,437.8 559.1,444.3 559.4,443 558.6,441.5 556.7,439.9 554.3,438.3 551.6,436.8 549.1,435.5 547.2,434.6 546.3,433.9ZM544.8,440.1 545.8,440.8 547.8,441.8 550.3,443.1 553,444.6 555.4,446.2 557.1,447.8 557.9,449.3 557.5,450.5 555.9,457 556.3,455.8 555.5,454.3 553.8,452.7 551.4,451.1 548.7,449.5 546.1,448.2 544.2,447.2 543.2,446.6ZM541.7,452.8 542.8,453.5 544.8,454.5 547.4,455.8 550,457.3 552.4,459 550.8,465.4 548.4,463.8 545.7,462.3 543.2,460.9 541.2,459.9 540.1,459.2Z" fill="#22609e" stroke="#0f3560" stroke-width="0.8"/><path d="M571.3,376.1 568.2,376.3 565.3,376.3 562.8,376.2 561.1,376.2 560.5,376.5 558.8,383.7 559.3,383.4 561,383.4 563.5,383.4 566.5,383.4 569.5,383.3ZM573.7,386.6 572.7,387.6 570.6,388.4 567.9,388.7 564.8,388.9 561.9,388.9 559.4,388.8 557.9,388.9 557.4,389.1 555.6,396.3 556.1,396.1 557.6,396 560.1,396 563,396.1 566.1,395.9 568.9,395.5 570.9,394.8 571.9,393.8ZM570.5,399.3 569.4,400.3 567.3,401 564.5,401.4 561.4,401.5 558.5,401.5 556.1,401.4 554.6,401.5 554.3,401.8 552.5,409 552.8,408.7 554.3,408.6 556.7,408.6 559.6,408.7 562.7,408.6 565.5,408.2 567.6,407.5 568.7,406.5ZM567.3,412 566.1,413 563.9,413.7 561.1,414 558,414.1 555.1,414.1 552.8,414 551.4,414.1 551.1,414.4 549.3,421.6 549.6,421.3 551,421.2 553.3,421.3 556.2,421.3 559.3,421.2 562.1,420.8 564.3,420.2 565.5,419.2ZM564.1,424.7 562.8,425.7 560.5,426.3 557.7,426.6 554.6,426.7 551.7,426.7 549.5,426.7 548.2,426.8 548,427.1 546.2,434.3 546.4,433.9 547.7,433.8 549.9,433.9 552.8,433.9 555.9,433.8 558.7,433.5 561,432.9 562.3,431.9ZM560.8,437.4 559.5,438.4 557.2,439 554.3,439.3 551.2,439.3 548.3,439.3 546.2,439.3 545,439.4 544.9,439.7 543.1,446.9 543.2,446.6 544.4,446.4 546.5,446.5 549.4,446.5 552.5,446.4 555.4,446.1 557.7,445.5 559,444.6ZM557.6,450.1 556.2,451 553.8,451.6 550.8,451.9 547.8,451.9 545,451.9 542.9,451.9 541.8,452 541.8,452.4 540,459.6 540,459.2 541.1,459.1 543.2,459.1 546,459.1 549.1,459.1 552,458.8 554.4,458.2 555.8,457.3Z" fill="#3a88cc" stroke="#0f3560" stroke-width="0.8"/><path d="M567.9,377.5 564.9,377.5 562.4,377.5 560.8,377.5 560.3,379.7 561.9,379.6 564.4,379.7 567.4,379.7ZM572.3,388.9 570.3,389.6 567.6,390 564.5,390.1 561.5,390.1 559.1,390.1 557.6,390.1 557,392.3 558.6,392.2 561,392.3 564,392.3 567.1,392.2 569.8,391.8 571.8,391.1ZM569.1,401.6 567,402.3 564.2,402.6 561.1,402.8 558.2,402.7 555.8,402.7 554.3,402.8 553.8,404.9 555.2,404.8 557.6,404.9 560.6,404.9 563.6,404.8 566.4,404.4 568.5,403.7ZM565.8,414.3 563.6,414.9 560.8,415.3 557.7,415.4 554.8,415.3 552.5,415.3 551.1,415.4 550.5,417.5 551.9,417.5 554.2,417.5 557.1,417.5 560.2,417.4 563.1,417.1 565.2,416.4ZM562.5,426.9 560.2,427.6 557.4,427.9 554.3,428 551.4,427.9 549.2,427.9 547.9,428 547.3,430.2 548.6,430.1 550.9,430.1 553.7,430.1 556.8,430 559.7,429.7 561.9,429.1ZM559.2,439.6 556.9,440.2 553.9,440.5 550.9,440.6 548,440.5 545.9,440.5 544.7,440.6 544.1,442.8 545.3,442.7 547.5,442.7 550.3,442.7 553.4,442.7 556.3,442.4 558.6,441.8ZM555.8,452.3 553.5,452.9 550.5,453.1 547.4,453.2 544.7,453.2 542.6,453.1 541.4,453.3 540.9,455.4 542,455.3 544.1,455.3 546.9,455.4 550,455.3 552.9,455 555.3,454.5Z" fill="#78baf0" fill-opacity="0.75" stroke="none"/><path d="M619.4,317.4 620,317.8 621.7,318.3 624.2,318.9 627.1,319.7 630,320.6 632.4,321.7 634,323 634.5,324.2 634.4,330.9 633.9,329.6 632.3,328.4 629.9,327.3 627,326.3 624.1,325.6 621.6,324.9 619.9,324.5 619.3,324.1ZM619.2,330.4 619.9,330.8 621.6,331.3 624.1,331.9 627.1,332.7 629.9,333.7 632.3,334.8 633.8,336 634.3,337.3 634.2,343.9 633.7,342.7 632.2,341.4 629.8,340.3 627,339.4 624,338.6 621.5,338 619.8,337.5 619.1,337.1ZM619,343.4 619.7,343.8 621.5,344.3 624,344.9 627,345.7 629.8,346.7 632.2,347.8 633.7,349 634.1,350.3 634,357 633.6,355.7 632.1,354.5 629.7,353.4 626.9,352.4 623.9,351.6 621.4,351 619.6,350.5 618.9,350.1ZM618.8,356.5 619.6,356.9 621.4,357.3 624,358 626.9,358.8 629.8,359.7 632.1,360.9 633.5,362.1 633.9,363.4 633.8,370 633.4,368.8 632,367.5 629.7,366.4 626.8,365.4 623.9,364.6 621.3,364 619.5,363.5 618.7,363.1ZM618.6,369.5 619.4,369.9 621.3,370.4 623.9,371 626.8,371.8 629.7,372.8 632,373.9 633.4,375.1 633.7,376.4 633.6,383.1 633.3,381.8 631.9,380.6 629.6,379.4 626.7,378.5 623.8,377.7 621.2,377 619.3,376.5 618.5,376.1ZM618.5,382.5 619.3,382.9 621.2,383.4 623.8,384 626.7,384.8 629.6,385.8 631.8,387 633.2,388.2 633.5,389.5 633.4,396.1 633.1,394.8 631.8,393.6 629.5,392.5 626.6,391.5 623.7,390.7 621.1,390 619.2,389.5 618.4,389.1ZM618.3,395.5 619.2,395.9 621.1,396.4 623.7,397.1 626.7,397.9 629.5,398.9 631.7,400 633.1,401.2 633.3,402.5 633.2,409.2 633,407.9 631.6,406.7 629.4,405.5 626.6,404.5 623.6,403.7 621,403.1 619.1,402.6 618.2,402.2ZM618.1,408.5 619,408.9 621,409.4 623.6,410.1 626.6,410.9 629.4,411.9 631.6,413 632.9,414.3 633.1,415.5 633,422.2 632.8,420.9 631.5,419.7 629.3,418.6 626.5,417.6 623.5,416.7 620.9,416.1 618.9,415.6 618,415.2ZM617.9,421.5 618.9,421.9 620.9,422.4 623.6,423.1 626.5,423.9 629.3,424.9 631.5,426.1 632.7,427.3 632.9,428.6 632.8,435.3 632.6,434 631.4,432.8 629.2,431.6 626.4,430.6 623.5,429.8 620.8,429.1 618.8,428.6 617.8,428.2ZM617.7,434.5 618.8,434.9 620.8,435.5 623.5,436.1 626.4,437 629.2,438 631.4,439.1 632.6,440.4 632.7,441.6 632.6,448.3 632.5,447 631.3,445.8 629.1,444.6 626.3,443.6 623.4,442.8 620.7,442.1 618.7,441.6 617.7,441.2ZM617.6,447.6 618.6,448 618.5,454.6 617.5,454.2Z" fill="#22609e" stroke="#0f3560" stroke-width="0.8"/><path d="M632.3,313.2 629.8,314.2 626.9,315.1 624,315.7 621.5,316.3 619.9,316.7 619.4,317.1 619.3,324.5 619.8,324.1 621.4,323.7 623.9,323.1 626.8,322.5 629.7,321.6 632.2,320.6ZM634.5,323.8 633.8,325.1 632.1,326.2 629.5,327.3 626.6,328.1 623.7,328.8 621.3,329.3 619.7,329.7 619.2,330.1 619.1,337.5 619.6,337.1 621.1,336.7 623.6,336.2 626.5,335.5 629.4,334.6 632,333.6 633.7,332.5 634.4,331.2ZM634.3,336.9 633.6,338.1 631.8,339.3 629.2,340.3 626.3,341.1 623.4,341.8 621,342.3 619.4,342.7 619,343.1 618.9,350.5 619.3,350.1 620.9,349.7 623.3,349.2 626.2,348.5 629.1,347.7 631.7,346.7 633.5,345.5 634.2,344.3ZM634.1,349.9 633.3,351.2 631.5,352.3 628.9,353.3 626,354.1 623.1,354.8 620.7,355.3 619.2,355.7 618.8,356.1 618.7,363.5 619.1,363.1 620.6,362.7 623,362.2 625.9,361.5 628.8,360.7 631.4,359.7 633.2,358.6 634,357.3ZM633.9,363 633.1,364.2 631.2,365.4 628.6,366.4 625.7,367.2 622.8,367.8 620.4,368.3 619,368.7 618.6,369.1 618.5,376.5 618.9,376.1 620.3,375.7 622.7,375.2 625.6,374.6 628.5,373.8 631.1,372.8 633,371.6 633.8,370.4ZM633.7,376 632.8,377.3 631,378.4 628.3,379.4 625.4,380.2 622.5,380.8 620.2,381.3 618.8,381.7 618.5,382.1 618.4,389.5 618.7,389.1 620.1,388.7 622.4,388.2 625.2,387.6 628.2,386.8 630.8,385.8 632.7,384.7 633.6,383.4ZM633.5,389.1 632.6,390.3 630.7,391.4 628,392.4 625,393.2 622.2,393.9 619.9,394.4 618.5,394.8 618.3,395.1 618.2,402.5 618.4,402.2 619.8,401.8 622.1,401.3 624.9,400.6 627.9,399.8 630.6,398.8 632.5,397.7 633.4,396.5ZM633.3,402.1 632.3,403.4 630.4,404.5 627.7,405.5 624.7,406.3 621.9,406.9 619.7,407.4 618.3,407.8 618.1,408.1 618,415.5 618.2,415.2 619.5,414.8 621.8,414.3 624.6,413.7 627.6,412.9 630.3,411.9 632.2,410.8 633.2,409.5ZM633.1,415.2 632.1,416.4 630.1,417.5 627.4,418.5 624.4,419.3 621.6,419.9 619.4,420.4 618.1,420.8 617.9,421.2 617.8,428.6 618,428.2 619.3,427.8 621.5,427.3 624.3,426.7 627.3,425.9 630,424.9 632,423.8 633,422.6ZM632.9,428.2 631.8,429.4 629.8,430.6 627.1,431.5 624.1,432.3 621.3,432.9 619.1,433.4 617.9,433.8 617.8,434.2 617.6,441.6 617.8,441.2 619,440.8 621.2,440.3 624,439.7 627,438.9 629.7,438 631.7,436.8 632.8,435.6ZM632.7,441.3 631.6,442.5 629.5,443.6 626.8,444.6 623.8,445.3 621,445.9 618.9,446.4 617.7,446.8 617.6,447.2 617.5,454.6 617.6,454.2 618.8,453.8 620.9,453.3 623.7,452.7 626.7,451.9 629.4,451 631.5,449.9 632.5,448.7Z" fill="#3a88cc" stroke="#0f3560" stroke-width="0.8"/><path d="M629.8,315.5 626.9,316.4 624,317 621.5,317.6 619.9,318 619.9,320.2 621.5,319.8 623.9,319.3 626.8,318.6 629.8,317.7ZM633.8,326.4 632,327.5 629.5,328.5 626.6,329.4 623.7,330.1 621.2,330.6 619.7,331 619.6,333.2 621.2,332.8 623.6,332.3 626.5,331.6 629.5,330.8 632,329.8 633.8,328.6ZM633.5,339.4 631.8,340.6 629.2,341.6 626.3,342.4 623.4,343.1 621,343.6 619.4,344 619.4,346.2 620.9,345.8 623.3,345.3 626.2,344.6 629.2,343.8 631.7,342.8 633.5,341.6ZM633.3,352.5 631.5,353.6 628.9,354.6 625.9,355.4 623.1,356.1 620.7,356.6 619.2,357 619.2,359.2 620.7,358.8 623,358.3 625.9,357.7 628.9,356.8 631.5,355.8 633.3,354.7ZM633.1,365.5 631.2,366.7 628.6,367.6 625.6,368.5 622.8,369.1 620.4,369.6 619,370 618.9,372.3 620.4,371.8 622.7,371.3 625.6,370.7 628.6,369.9 631.2,368.9 633,367.7ZM632.8,378.6 630.9,379.7 628.3,380.7 625.3,381.5 622.5,382.1 620.2,382.6 618.7,383 618.7,385.3 620.1,384.9 622.4,384.4 625.3,383.7 628.3,382.9 630.9,381.9 632.8,380.8ZM632.6,391.6 630.7,392.7 628,393.7 625,394.5 622.2,395.2 619.9,395.7 618.5,396.1 618.5,398.3 619.9,397.9 622.2,397.4 625,396.7 628,395.9 630.6,395 632.5,393.8ZM632.3,404.6 630.4,405.8 627.7,406.7 624.7,407.6 621.9,408.2 619.6,408.7 618.3,409.1 618.3,411.3 619.6,410.9 621.9,410.4 624.7,409.8 627.7,409 630.3,408 632.3,406.9ZM632.1,417.7 630.1,418.8 627.4,419.8 624.4,420.6 621.6,421.2 619.4,421.7 618.1,422.1 618,424.3 619.3,423.9 621.6,423.4 624.4,422.8 627.4,422 630.1,421 632,419.9ZM631.8,430.7 629.8,431.8 627.1,432.8 624.1,433.6 621.3,434.2 619.1,434.7 617.9,435.1 617.8,437.3 619.1,436.9 621.3,436.4 624.1,435.8 627.1,435 629.8,434.1 631.8,433ZM631.6,443.8 629.5,444.9 626.8,445.8 623.8,446.6 621,447.2 618.9,447.7 617.6,448.1 617.6,450.3 618.8,449.9 621,449.5 623.8,448.8 626.8,448.1 629.5,447.1 631.5,446Z" fill="#78baf0" fill-opacity="0.75" stroke="none"/><path d="M592,417.4 592.8,417.6 594.7,417.6 597.4,417.5 600.4,417.5 603.5,417.7 606,418.2 607.7,419 608.4,420.1 610,426.6 609.4,425.4 607.7,424.6 605.1,424.1 602.1,424 599,424 596.4,424 594.5,424 593.7,423.9ZM595.3,430 596.3,430.2 598.3,430.2 601.1,430.1 604.2,430.1 607.1,430.3 609.6,430.9 611.2,431.7 611.6,432.9 613.3,439.4 612.8,438.2 611.3,437.3 608.8,436.8 605.8,436.6 602.7,436.5 600,436.6 598,436.6 597,436.5ZM598.7,442.7 599.8,442.8 601.5,449.2 600.3,449.1Z" fill="#22609e" stroke="#0f3560" stroke-width="0.8"/><path d="M592.2,416.6 591.9,417.1 593.8,424.2 594.1,423.7ZM608.3,419.8 607.8,421.2 606.3,422.8 604,424.4 601.3,426 598.7,427.4 596.6,428.5 595.4,429.3 595.2,429.7 597.1,436.8 597.2,436.4 598.5,435.7 600.6,434.6 603.2,433.2 605.8,431.6 608.1,429.9 609.6,428.3 610.1,426.9ZM611.5,432.5 610.9,434 609.2,435.6 606.8,437.3 604.1,438.8 601.6,440.2 599.6,441.2 598.5,441.9 598.6,442.3 600.4,449.5 600.4,449.1 601.5,448.4 603.5,447.4 606,446 608.7,444.4 611.1,442.8 612.7,441.2 613.4,439.7Z" fill="#3a88cc" stroke="#0f3560" stroke-width="0.8"/><path d="M592.9,419.1 592.6,419.6 593.1,421.7 593.4,421.2ZM608.1,422.4 606.6,424 604.3,425.7 601.6,427.3 599,428.7 596.9,429.8 595.7,430.5 596.3,432.7 597.5,431.9 599.6,430.8 602.2,429.4 604.8,427.8 607.1,426.2 608.7,424.6ZM611.2,435.3 609.5,436.9 607.2,438.5 604.5,440.1 601.9,441.4 599.9,442.5 598.9,443.2 599.4,445.3 600.5,444.6 602.5,443.6 605,442.2 607.7,440.7 610.1,439 611.8,437.4Z" fill="#78baf0" fill-opacity="0.75" stroke="none"/><path d="M586.1,453.5 586.7,453.1 587.8,451.7 589.5,449.7 591.4,447.4 593.5,445.2 595.5,443.5 597.3,442.6 598.6,442.7 604.6,445.6 603.3,445.5 601.5,446.4 599.5,448.1 597.4,450.3 595.4,452.6 593.8,454.7 592.7,456 592.1,456.4ZM597.8,459.2 598.4,458.7 599.6,457.3 601.2,455.3 603.2,453 605.3,450.8 607.3,449.1 609,448.3 610.4,448.4 616.4,451.3 615,451.2 613.3,452 611.3,453.7 609.2,455.9 607.2,458.2 605.6,460.2 604.4,461.6 603.8,462.1ZM609.5,464.9 610.2,464.3 611.4,462.9 613,460.9 615,458.5 617.1,456.4 619.1,454.7 620.8,453.9 626.8,456.8 625.1,457.6 623.1,459.3 621,461.4 619,463.8 617.4,465.8 616.2,467.2 615.5,467.8Z" fill="#22609e" stroke="#0f3560" stroke-width="0.8"/><path d="M587.7,440 587.6,442.7 587.1,445.7 586.5,448.6 585.9,451.1 585.6,452.7 585.7,453.3 592.4,456.6 592.3,455.9 592.6,454.3 593.1,451.9 593.8,448.9 594.2,445.9 594.4,443.2ZM598.3,442.5 599.1,443.7 599.4,445.8 599.3,448.5 598.8,451.5 598.2,454.4 597.6,456.9 597.3,458.4 597.4,459 604.1,462.2 604,461.7 604.3,460.1 604.8,457.7 605.4,454.8 605.9,451.7 606.1,449 605.8,446.9 604.9,445.8ZM610,448.2 610.8,449.4 611.1,451.6 610.9,454.3 610.4,457.3 609.8,460.2 609.3,462.6 609,464.2 609.2,464.7 615.8,467.9 615.7,467.4 615.9,465.9 616.5,463.5 617.1,460.6 617.6,457.5 617.8,454.8 617.5,452.7 616.7,451.5Z" fill="#3a88cc" stroke="#0f3560" stroke-width="0.8"/><path d="M588.7,443.3 588.3,446.3 587.7,449.2 587.1,451.6 586.8,453.3 588.8,454.2 589.1,452.6 589.6,450.2 590.3,447.2 590.7,444.2ZM600.3,444.3 600.6,446.3 600.4,449.1 599.9,452.1 599.3,455 598.8,457.4 598.5,459 600.5,460 600.8,458.4 601.3,456 601.9,453.1 602.4,450 602.6,447.3 602.3,445.2ZM612,450 612.3,452.1 612.1,454.9 611.6,457.9 611,460.8 610.4,463.2 610.2,464.7 612.2,465.7 612.4,464.2 613,461.8 613.6,458.9 614.1,455.9 614.3,453.1 614,451Z" fill="#78baf0" fill-opacity="0.75" stroke="none"/><path d="M595,291 C598,287.5 604,287 607,289 C610,291.5 609,295 605,296.5 C601,298 602,301 606,303 L610,305 C618,306 626,309.5 632,308.5 C640,305 645,298 644.5,290" stroke="#123a64" stroke-width="2.5"/><path d="M595,291 C598,287.5 604,287 607,289 C610,291.5 609,295 605,296.5 C601,298 602,301 606,303 L610,305 C618,306 626,309.5 632,308.5 C640,305 645,298 644.5,290" stroke="#3a88cc" stroke-width="1.7"/><path d="M578,303 C585,306 591,309 597,307 C601,305 604,303 608,303" stroke="#123a64" stroke-width="2.5"/><path d="M578,303 C585,306 591,309 597,307 C601,305 604,303 608,303" stroke="#3a88cc" stroke-width="1.7"/><path d="M589,315 C596,313 602,312 608,312" stroke="#123a64" stroke-width="2.4"/><path d="M589,315 C596,313 602,312 608,312" stroke="#3a88cc" stroke-width="1.6"/><path d="M613,307 C617,314 619.5,322 619,333" stroke="#123a64" stroke-width="3.2"/><path d="M613,307 C617,314 619.5,322 619,333" stroke="#3a88cc" stroke-width="2.4"/><path d="M607.5,305 L612.8,305 L613,331 L608.8,332 Z" fill="#3a88cc" stroke="#123a64" stroke-width="0.9"/><path d="M609,307 L610,330" stroke="#74b6ec" stroke-width="1" stroke-opacity="0.7"/><path d="M553,446 C550,462 556,476 550,492 C545,505 549,514 546,521" stroke="#123a64" stroke-width="2.7"/><path d="M553,446 C550,462 556,476 550,492 C545,505 549,514 546,521" stroke="#3a88cc" stroke-width="1.9"/><path d="M620,470 C630,467 640,464.5 650,466.5 C658,468 661,474 658,479 C655,484 645,484 636,484" stroke="#3e0a4a" stroke-width="2.2"/><path d="M620,470 C630,467 640,464.5 650,466.5 C658,468 661,474 658,479 C655,484 645,484 636,484" stroke="#7a1a8c" stroke-width="1.4"/><path d="M560,456 C568,452 576,458 583,465" stroke="#3e0a4a" stroke-width="2.2"/><path d="M560,456 C568,452 576,458 583,465" stroke="#7a1a8c" stroke-width="1.4"/><path d="M566,470 C572,466 580,470 584,476 C588,484 578,490 572,486" stroke="#3e0a4a" stroke-width="2.2"/><path d="M566,470 C572,466 580,470 584,476 C588,484 578,490 572,486" stroke="#7a1a8c" stroke-width="1.4"/><path d="M563,495 C566,488 575,489 578,495 C580,502 572,506 567,502" stroke="#3e0a4a" stroke-width="2.2"/><path d="M563,495 C566,488 575,489 578,495 C580,502 572,506 567,502" stroke="#7a1a8c" stroke-width="1.4"/><path d="M571,503 C575,510 585,512 592,508" stroke="#3e0a4a" stroke-width="2.2"/><path d="M571,503 C575,510 585,512 592,508" stroke="#7a1a8c" stroke-width="1.4"/><path d="M607,524 C618,530 632,534 642,532 C648,530 650,535 646,537 C641,538 640,532 645,530" stroke="#3e0a4a" stroke-width="2.2"/><path d="M607,524 C618,530 632,534 642,532 C648,530 650,535 646,537 C641,538 640,532 645,530" stroke="#7a1a8c" stroke-width="1.4"/><path d="M628,498 C634,504 640,500 646,505 C650,510 646,516 640,514" stroke="#3e0a4a" stroke-width="2.2"/><path d="M628,498 C634,504 640,500 646,505 C650,510 646,516 640,514" stroke="#7a1a8c" stroke-width="1.4"/><path d="M599,464 C606,470 612,472 622,470" stroke="#3e0a4a" stroke-width="2.2"/><path d="M599,464 C606,470 612,472 622,470" stroke="#7a1a8c" stroke-width="1.4"/><path d="M612,522 C620,515 630,520 640,520 C646,519 650,516 652,510" stroke="#3e0a4a" stroke-width="2.2"/><path d="M612,522 C620,515 630,520 640,520 C646,519 650,516 652,510" stroke="#7a1a8c" stroke-width="1.4"/><path d="M636,484 C640,488 644,492 648,497" stroke="#3e0a4a" stroke-width="2.2"/><path d="M636,484 C640,488 644,492 648,497" stroke="#7a1a8c" stroke-width="1.4"/><path d="M586,494 C592,505 600,512 610,519" stroke="#3e0a4a" stroke-width="2.2"/><path d="M586,494 C592,505 600,512 610,519" stroke="#7a1a8c" stroke-width="1.4"/><path d="M600,458 C604,462 608,462 612,466" stroke="#3e0a4a" stroke-width="2.2"/><path d="M600,458 C604,462 608,462 612,466" stroke="#7a1a8c" stroke-width="1.4"/><polygon points="587.5,480.6 627.6,473.1 628,475.4 633,469.5 626.2,465.7 626.6,468 586.5,475.4" fill="#7a1a8c" stroke="#3e0a4a" stroke-width="0.6"/><polygon points="586.4,483.3 636.6,496.8 636,498.9 643,496 638.4,490 637.8,492.1 587.6,478.7" fill="#7a1a8c" stroke="#3e0a4a" stroke-width="0.6"/><polygon points="617.1,510.3 597.8,486 599.7,484.5 592,483 591.7,490.9 593.6,489.4 612.9,513.7" fill="#7a1a8c" stroke="#3e0a4a" stroke-width="0.6"/><polygon points="608.7,514.2 587.1,493.4 588.6,491.7 581,491 582,498.6 583.6,497 605.3,517.8" fill="#7a1a8c" stroke="#3e0a4a" stroke-width="0.6"/><polygon points="620.7,498 634.7,500.4 634.4,502.2 641,499.5 635.7,494.7 635.4,496.5 621.3,494" fill="#7a1a8c" stroke="#3e0a4a" stroke-width="0.6"/><polygon points="642.6,519.8 652.4,527.6 651.1,529.2 658.5,529.5 656.5,522.3 655.2,524 645.4,516.2" fill="#7a1a8c" stroke="#3e0a4a" stroke-width="0.6"/><polygon points="596.4,501.6 613.2,518.3 611.8,519.7 619,521 617.7,513.8 616.3,515.2 599.6,498.4" fill="#7a1a8c" stroke="#3e0a4a" stroke-width="0.6"/><polygon points="599.8,490 618.9,491.5 618.7,493.3 625,490 619.3,485.7 619.2,487.5 600.2,486" fill="#7a1a8c" stroke="#3e0a4a" stroke-width="0.6"/><circle cx="643" cy="505.5" r="3.4" fill="#6a1478" stroke="#3e0a4a" stroke-width="0.6"/><path d="M547,449 C553,442 558,452 565,445 C571,439 576,447 584,443 M566,455 C575,458 585,462 592,468 C598,474 605,470 612,472 M590,440 C592,446 594,452 598,458" stroke="#3e0a4a" stroke-width="2.6"/><path d="M547,449 C553,442 558,452 565,445 C571,439 576,447 584,443 M566,455 C575,458 585,462 592,468 C598,474 605,470 612,472 M590,440 C592,446 594,452 598,458" stroke="#7a1a8c" stroke-width="1.8"/><circle cx="587.5" cy="453.5" r="3.4" fill="#e8e020" stroke="#807000" stroke-width="0.5"/><circle cx="585.9" cy="467.2" r="3.4" fill="#e02a18" stroke="#700" stroke-width="0.5"/><circle cx="616.7" cy="512.7" r="3.3" fill="#f08a18" stroke="#804000" stroke-width="0.5"/></g><text x="640.3" y="352.9" font-size="11.6" fill="#3a7ec2">AT1R</text><text x="652.3" y="502" font-size="11.8" fill="#8a2a9a">AT110</text><text x="496.8" y="428.5" font-size="11.6">CDR3</text><text x="522" y="479.3" font-size="11.6">I98V</text><text x="634.7" y="448.2" font-size="11.6">Y113H</text><text x="580.5" y="539" font-size="11.6">R66H</text><g stroke="#000" stroke-width="0.9"><line x1="527.9" y1="428.8" x2="552.3" y2="445.3"/><line x1="545.6" y1="476.3" x2="585.9" y2="467.2"/><line x1="634" y1="444.3" x2="587.6" y2="453"/><line x1="596.3" y1="527.7" x2="616.7" y2="512.7"/></g></g></svg>
</body></html>
